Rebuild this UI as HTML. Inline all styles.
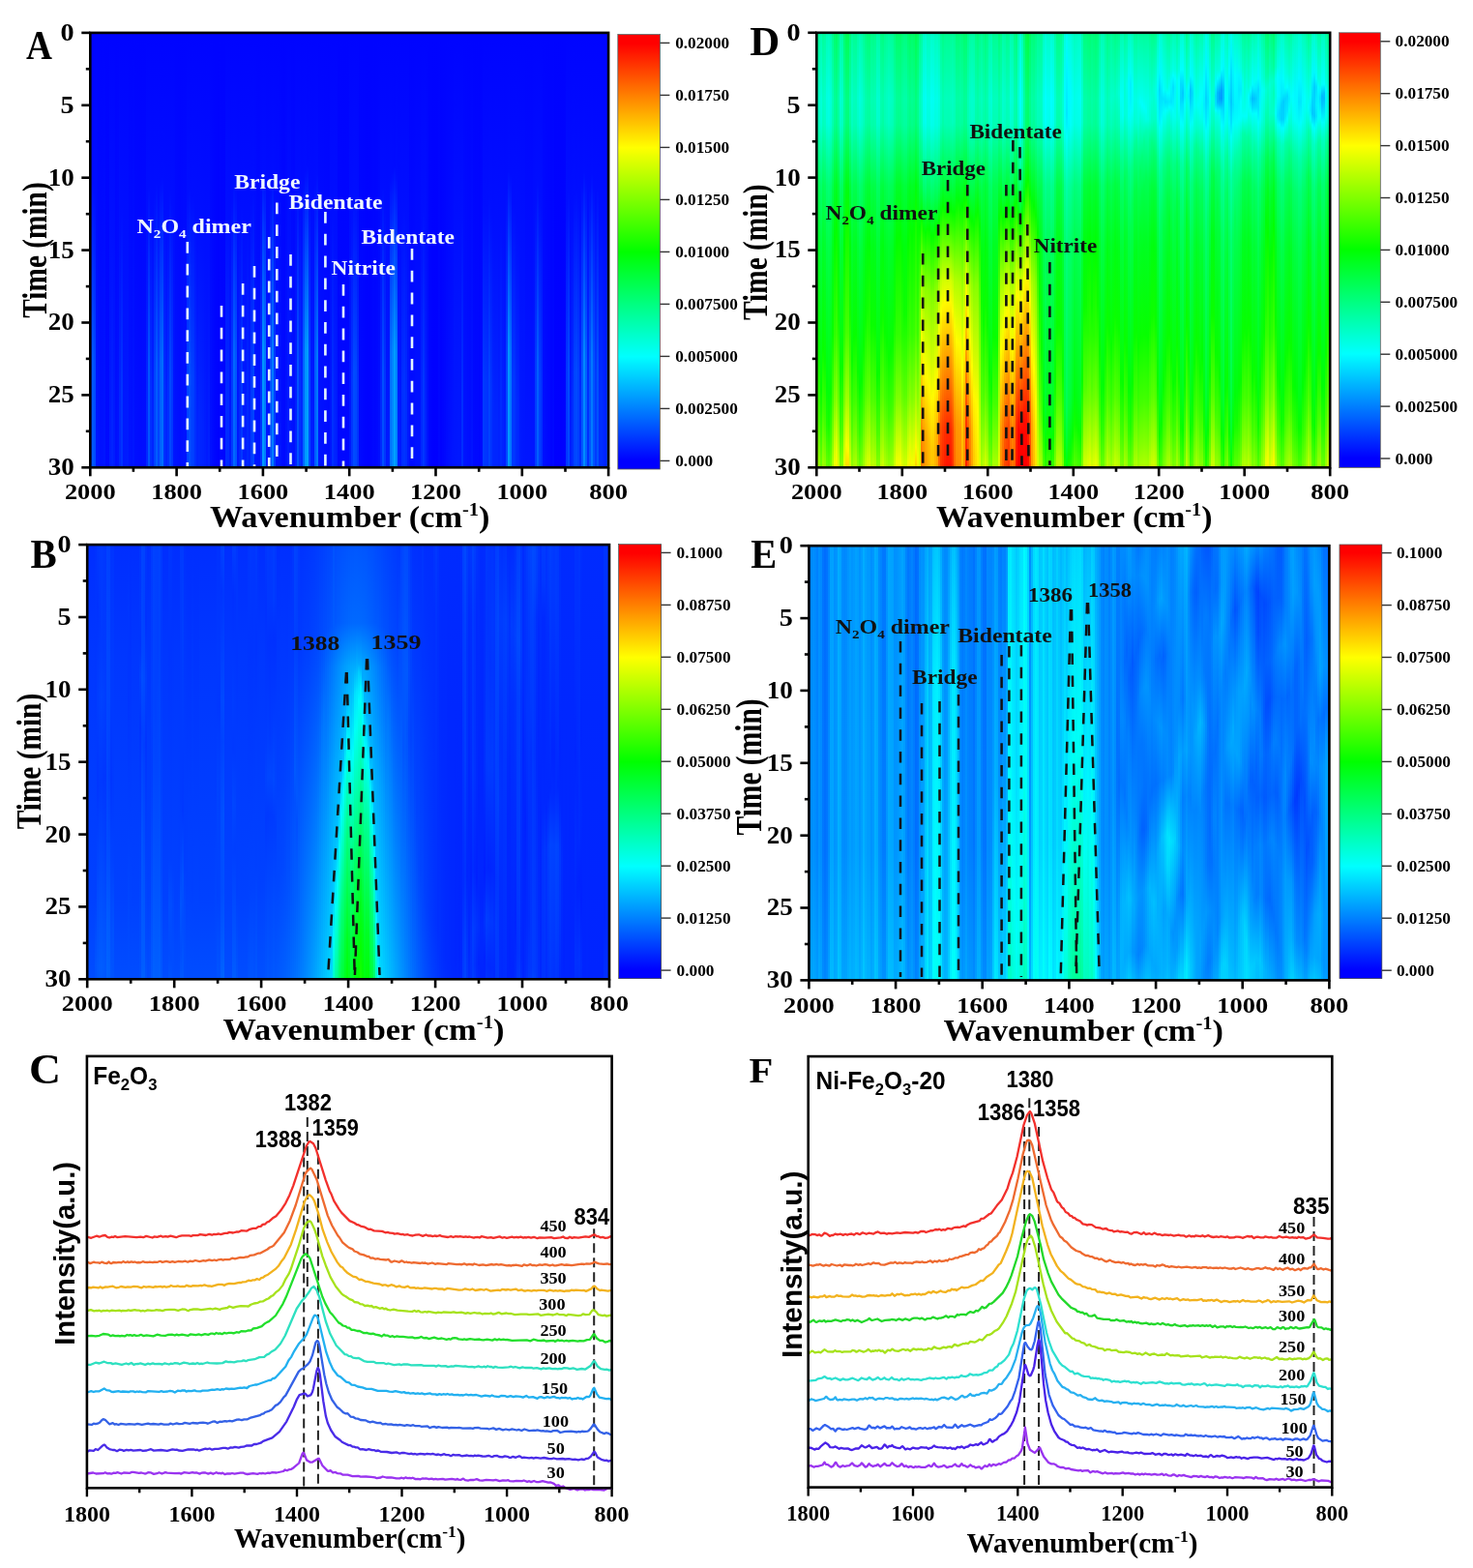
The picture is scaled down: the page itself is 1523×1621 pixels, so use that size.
<!DOCTYPE html>
<html><head><meta charset="utf-8"><title>Figure</title>
<style>
html,body{margin:0;padding:0;background:#fff}
#pg{position:relative;width:1523px;height:1621px;overflow:hidden;background:#fff}
.hm{position:absolute;overflow:hidden;filter:blur(0.6px)}
.hm i{position:absolute;top:0;height:100%;display:block}
.cb{position:absolute}
svg{position:absolute;left:0;top:0}
text{font-family:'Liberation Serif','Times New Roman',serif;font-weight:bold}
.s{font-family:'Liberation Sans',Arial,sans-serif}
</style></head><body><div id="pg">
<div class="hm" style="left:93px;top:33px;width:537px;height:451px"><i style="left:0px;width:3px;background:linear-gradient(#0004ff 0%,#000eff 39.3%,#0036ff 80%,#0036ff 100%)"></i><i style="left:2px;width:3px;background:linear-gradient(#0004ff 0%,#000dff 34.7%,#0059ff 75.3%,#005aff 100%)"></i><i style="left:4px;width:3px;background:linear-gradient(#0004ff 0%,#000eff 36.7%,#004cff 78%,#004cff 100%)"></i><i style="left:6px;width:3px;background:linear-gradient(#0004ff 0%,#0013ff 63.3%,#0017ff 100%)"></i><i style="left:8px;width:3px;background:linear-gradient(#0004ff 0%,#0014ff 100%)"></i><i style="left:10px;width:3px;background:linear-gradient(#0004ff 0%,#01f 100%)"></i><i style="left:12px;width:3px;background:linear-gradient(#0004ff 0%,#0012ff 100%)"></i><i style="left:14px;width:3px;background:linear-gradient(#0004ff 0%,#0015ff 100%)"></i><i style="left:16px;width:5px;background:linear-gradient(#0004ff 0%,#000bff 100%)"></i><i style="left:20px;width:3px;background:linear-gradient(#0004ff 0%,#01f 52%,#001eff 100%)"></i><i style="left:22px;width:3px;background:linear-gradient(#0004ff 0%,#0010ff 47.3%,#0023ff 88.7%,#0023ff 100%)"></i><i style="left:24px;width:3px;background:linear-gradient(#0004ff 0%,#01f 52.7%,#001dff 100%)"></i><i style="left:26px;width:3px;background:linear-gradient(#0004ff 0%,#0010ff 100%)"></i><i style="left:28px;width:3px;background:linear-gradient(#0004ff 0%,#0013ff 100%)"></i><i style="left:30px;width:3px;background:linear-gradient(#0004ff 0%,#0010ff 46%,#0026ff 87.3%,#0026ff 100%)"></i><i style="left:32px;width:3px;background:linear-gradient(#0004ff 0%,#000eff 40%,#03f 81.3%,#03f 100%)"></i><i style="left:34px;width:3px;background:linear-gradient(#0004ff 0%,#0012ff 58%,#001aff 100%)"></i><i style="left:36px;width:3px;background:linear-gradient(#0004ff 0%,#01f 54.7%,#001bff 100%)"></i><i style="left:38px;width:3px;background:linear-gradient(#0004ff 0%,#01f 54%,#001cff 100%)"></i><i style="left:40px;width:3px;background:linear-gradient(#0004ff 0%,#0014ff 100%)"></i><i style="left:42px;width:3px;background:linear-gradient(#0004ff 0%,#0012ff 100%)"></i><i style="left:44px;width:3px;background:linear-gradient(#0004ff 0%,#0016ff 100%)"></i><i style="left:46px;width:3px;background:linear-gradient(#0004ff 0%,#000fff 100%)"></i><i style="left:48px;width:3px;background:linear-gradient(#0004ff 0%,#000eff 100%)"></i><i style="left:50px;width:5px;background:linear-gradient(#0004ff 0%,#000dff 100%)"></i><i style="left:54px;width:5px;background:linear-gradient(#0004ff 0%,#000eff 100%)"></i><i style="left:58px;width:3px;background:linear-gradient(#0004ff 0%,#000fff 44.7%,#0028ff 86%,#0028ff 100%)"></i><i style="left:60px;width:3px;background:linear-gradient(#0004ff 0%,#000dff 35.3%,#05f 76%,#0056ff 100%)"></i><i style="left:62px;width:3px;background:linear-gradient(#0004ff 0%,#000fff 42%,#002fff 82%,#002fff 100%)"></i><i style="left:64px;width:3px;background:linear-gradient(#0004ff 0%,#0010ff 46.7%,#0024ff 88.7%,#0024ff 100%)"></i><i style="left:66px;width:3px;background:linear-gradient(#0004ff 0%,#000eff 37.3%,#04f 78.7%,#04f 100%)"></i><i style="left:68px;width:3px;background:linear-gradient(#0004ff 0%,#000dff 34.7%,#005cff 76%,#005dff 100%)"></i><i style="left:70px;width:3px;background:linear-gradient(#0004ff 0%,#000eff 38%,#0042ff 77.3%,#0043ff 100%)"></i><i style="left:72px;width:3px;background:linear-gradient(#0004ff 0%,#000dff 34%,#0062ff 75.3%,#0063ff 100%)"></i><i style="left:74px;width:3px;background:linear-gradient(#0004ff 0%,#000dff 33.3%,#006dff 75.3%,#006fff 100%)"></i><i style="left:76px;width:3px;background:linear-gradient(#0004ff 0%,#000fff 41.3%,#0031ff 81.3%,#0031ff 100%)"></i><i style="left:78px;width:3px;background:linear-gradient(#0004ff 0%,#0010ff 47.3%,#0024ff 88%,#0024ff 100%)"></i><i style="left:80px;width:3px;background:linear-gradient(#0004ff 0%,#000fff 42.7%,#002eff 81.3%,#002eff 100%)"></i><i style="left:82px;width:3px;background:linear-gradient(#0004ff 0%,#000dff 36%,#0048ff 78%,#0048ff 100%)"></i><i style="left:84px;width:3px;background:linear-gradient(#0004ff 0%,#000eff 39.3%,#0038ff 79.3%,#0038ff 100%)"></i><i style="left:86px;width:3px;background:linear-gradient(#0004ff 0%,#0014ff 68%,#0016ff 100%)"></i><i style="left:88px;width:3px;background:linear-gradient(#0004ff 0%,#0013ff 100%)"></i><i style="left:90px;width:3px;background:linear-gradient(#0004ff 0%,#01f 100%)"></i><i style="left:92px;width:3px;background:linear-gradient(#0004ff 0%,#000fff 100%)"></i><i style="left:94px;width:3px;background:linear-gradient(#0004ff 0%,#01f 100%)"></i><i style="left:96px;width:5px;background:linear-gradient(#0004ff 0%,#0013ff 100%)"></i><i style="left:100px;width:3px;background:linear-gradient(#0004ff 0%,#000eff 37.3%,#04f 78%,#04f 100%)"></i><i style="left:102px;width:3px;background:linear-gradient(#0004ff 0%,#000dff 35.3%,#004fff 76%,#0050ff 100%)"></i><i style="left:104px;width:3px;background:linear-gradient(#0004ff 0%,#000eff 38%,#0043ff 78%,#0043ff 100%)"></i><i style="left:106px;width:3px;background:linear-gradient(#0004ff 0%,#000eff 38%,#003fff 78.7%,#003fff 100%)"></i><i style="left:108px;width:3px;background:linear-gradient(#0004ff 0%,#000fff 42%,#002fff 82%,#002fff 100%)"></i><i style="left:110px;width:3px;background:linear-gradient(#0004ff 0%,#0010ff 47.3%,#0024ff 90.7%,#0024ff 100%)"></i><i style="left:112px;width:3px;background:linear-gradient(#0004ff 0%,#0010ff 46.7%,#0026ff 88%,#0026ff 100%)"></i><i style="left:114px;width:3px;background:linear-gradient(#0004ff 0%,#0010ff 46.7%,#0024ff 88.7%,#0024ff 100%)"></i><i style="left:116px;width:3px;background:linear-gradient(#0004ff 0%,#0010ff 48%,#02f 90.7%,#02f 100%)"></i><i style="left:118px;width:3px;background:linear-gradient(#0004ff 0%,#0010ff 50%,#001fff 96.7%,#001fff 100%)"></i><i style="left:120px;width:3px;background:linear-gradient(#0004ff 0%,#01f 54.7%,#001bff 100%)"></i><i style="left:122px;width:3px;background:linear-gradient(#0004ff 0%,#0010ff 50%,#001fff 96.7%,#001fff 100%)"></i><i style="left:124px;width:3px;background:linear-gradient(#0004ff 0%,#0010ff 100%)"></i><i style="left:126px;width:3px;background:linear-gradient(#0004ff 0%,#000bff 100%)"></i><i style="left:128px;width:3px;background:linear-gradient(#0004ff 0%,#0007ff 100%)"></i><i style="left:130px;width:3px;background:linear-gradient(#0004ff 0%,#0004ff 100%)"></i><i style="left:132px;width:3px;background:linear-gradient(#0004ff 0%,#0002ff 100%)"></i><i style="left:134px;width:3px;background:linear-gradient(#0004ff 0%,#0006ff 100%)"></i><i style="left:136px;width:5px;background:linear-gradient(#0004ff 0%,#0005ff 100%)"></i><i style="left:140px;width:3px;background:linear-gradient(#0004ff 0%,#000fff 43.3%,#002bff 84.7%,#002bff 100%)"></i><i style="left:142px;width:3px;background:linear-gradient(#0004ff 0%,#000fff 43.3%,#002aff 84%,#002aff 100%)"></i><i style="left:144px;width:3px;background:linear-gradient(#0004ff 0%,#0012ff 58.7%,#0019ff 100%)"></i><i style="left:146px;width:3px;background:linear-gradient(#0004ff 0%,#000eff 38.7%,#003aff 79.3%,#003aff 100%)"></i><i style="left:148px;width:3px;background:linear-gradient(#0004ff 0%,#000dff 34%,#0067ff 74%,#006aff 100%)"></i><i style="left:150px;width:3px;background:linear-gradient(#0004ff 0%,#000dff 35.3%,#05f 75.3%,#0056ff 100%)"></i><i style="left:152px;width:3px;background:linear-gradient(#0004ff 0%,#0012ff 60%,#0018ff 100%)"></i><i style="left:154px;width:3px;background:linear-gradient(#0004ff 0%,#000fff 44.7%,#0027ff 85.3%,#0027ff 100%)"></i><i style="left:156px;width:3px;background:linear-gradient(#0004ff 0%,#000eff 40%,#0036ff 80%,#0036ff 100%)"></i><i style="left:158px;width:3px;background:linear-gradient(#0004ff 0%,#01f 52%,#001eff 100%)"></i><i style="left:160px;width:3px;background:linear-gradient(#0004ff 0%,#01f 52.7%,#001eff 100%)"></i><i style="left:162px;width:3px;background:linear-gradient(#0004ff 0%,#000fff 44.7%,#0027ff 84.7%,#0027ff 100%)"></i><i style="left:164px;width:3px;background:linear-gradient(#0004ff 0%,#0010ff 48.7%,#0021ff 94.7%,#0021ff 100%)"></i><i style="left:166px;width:3px;background:linear-gradient(#0004ff 0%,#000eff 39.3%,#003aff 79.3%,#003aff 100%)"></i><i style="left:168px;width:3px;background:linear-gradient(#0004ff 0%,#000eff 37.3%,#04f 78%,#04f 100%)"></i><i style="left:170px;width:3px;background:linear-gradient(#0004ff 0%,#0014ff 67.3%,#0017ff 100%)"></i><i style="left:172px;width:5px;background:linear-gradient(#0004ff 0%,#0014ff 100%)"></i><i style="left:176px;width:3px;background:linear-gradient(#0004ff 0%,#000eff 40%,#0034ff 81.3%,#0034ff 100%)"></i><i style="left:178px;width:3px;background:linear-gradient(#0004ff 0%,#000dff 32%,#0094ff 72.7%,#009bff 100%)"></i><i style="left:180px;width:3px;background:linear-gradient(#0004ff 0%,#000dff 32.7%,#007bff 73.3%,#007fff 100%)"></i><i style="left:182px;width:3px;background:linear-gradient(#0004ff 0%,#0014ff 68%,#0017ff 100%)"></i><i style="left:184px;width:3px;background:linear-gradient(#0004ff 0%,#0013ff 63.3%,#0017ff 100%)"></i><i style="left:186px;width:3px;background:linear-gradient(#0004ff 0%,#000dff 35.3%,#0051ff 76%,#0052ff 100%)"></i><i style="left:188px;width:3px;background:linear-gradient(#0004ff 0%,#000dff 32.7%,#0079ff 73.3%,#007dff 100%)"></i><i style="left:190px;width:3px;background:linear-gradient(#0004ff 0%,#000eff 38%,#003fff 79.3%,#003fff 100%)"></i><i style="left:192px;width:3px;background:linear-gradient(#0004ff 0%,#0014ff 68.7%,#0016ff 100%)"></i><i style="left:194px;width:3px;background:linear-gradient(#0004ff 0%,#0014ff 68%,#0016ff 100%)"></i><i style="left:196px;width:3px;background:linear-gradient(#0004ff 0%,#0013ff 100%)"></i><i style="left:198px;width:3px;background:linear-gradient(#0004ff 0%,#000dff 100%)"></i><i style="left:200px;width:3px;background:linear-gradient(#0004ff 0%,#000bff 100%)"></i><i style="left:202px;width:3px;background:linear-gradient(#0004ff 0%,#0013ff 100%)"></i><i style="left:204px;width:3px;background:linear-gradient(#0004ff 0%,#01f 52.7%,#001dff 100%)"></i><i style="left:206px;width:3px;background:linear-gradient(#0004ff 0%,#0014ff 68.7%,#0016ff 100%)"></i><i style="left:208px;width:3px;background:linear-gradient(#0004ff 0%,#0013ff 100%)"></i><i style="left:210px;width:3px;background:linear-gradient(#0004ff 0%,#01f 100%)"></i><i style="left:212px;width:3px;background:linear-gradient(#0004ff 0%,#0010ff 48%,#02f 92%,#02f 100%)"></i><i style="left:214px;width:3px;background:linear-gradient(#0004ff 0%,#000dff 35.3%,#0053ff 76%,#0054ff 100%)"></i><i style="left:216px;width:3px;background:linear-gradient(#0004ff 0%,#000fff 42%,#0031ff 81.3%,#0031ff 100%)"></i><i style="left:218px;width:3px;background:linear-gradient(#0004ff 0%,#000fff 44.7%,#0028ff 85.3%,#0028ff 100%)"></i><i style="left:220px;width:3px;background:linear-gradient(#0004ff 0%,#000dff 34%,#0065ff 74.7%,#0068ff 100%)"></i><i style="left:222px;width:3px;background:linear-gradient(#0004ff 0%,#000dff 32%,#0094ff 72.7%,#009bff 100%)"></i><i style="left:224px;width:3px;background:linear-gradient(#0004ff 0%,#000bff 30.7%,#005bff 53.3%,#009dff 72.7%,#00a5ff 100%)"></i><i style="left:226px;width:3px;background:linear-gradient(#0004ff 0%,#000dff 36%,#0049ff 77.3%,#004aff 100%)"></i><i style="left:228px;width:3px;background:linear-gradient(#0004ff 0%,#0010ff 50%,#001fff 100%)"></i><i style="left:230px;width:3px;background:linear-gradient(#0004ff 0%,#01f 54%,#001cff 100%)"></i><i style="left:232px;width:3px;background:linear-gradient(#0004ff 0%,#000dff 34.7%,#005cff 76%,#005dff 100%)"></i><i style="left:234px;width:3px;background:linear-gradient(#0004ff 0%,#000dff 32.7%,#07f 74%,#007aff 100%)"></i><i style="left:236px;width:3px;background:linear-gradient(#0004ff 0%,#0016ff 100%)"></i><i style="left:238px;width:3px;background:linear-gradient(#0004ff 0%,#0012ff 100%)"></i><i style="left:240px;width:3px;background:linear-gradient(#0004ff 0%,#01f 100%)"></i><i style="left:242px;width:3px;background:linear-gradient(#0004ff 0%,#000fff 100%)"></i><i style="left:244px;width:3px;background:linear-gradient(#0004ff 0%,#000eff 100%)"></i><i style="left:246px;width:3px;background:linear-gradient(#0004ff 0%,#000dff 100%)"></i><i style="left:248px;width:3px;background:linear-gradient(#0004ff 0%,#0013ff 63.3%,#0017ff 100%)"></i><i style="left:250px;width:3px;background:linear-gradient(#0004ff 0%,#000eff 40.7%,#0030ff 82%,#0030ff 100%)"></i><i style="left:252px;width:3px;background:linear-gradient(#0004ff 0%,#0010ff 46.7%,#0025ff 89.3%,#0025ff 100%)"></i><i style="left:254px;width:3px;background:linear-gradient(#0004ff 0%,#0010ff 50%,#001fff 98%,#001fff 100%)"></i><i style="left:256px;width:3px;background:linear-gradient(#0004ff 0%,#0009ff 100%)"></i><i style="left:258px;width:3px;background:linear-gradient(#0004ff 0%,#0008ff 100%)"></i><i style="left:260px;width:7px;background:linear-gradient(#0004ff 0%,#0007ff 100%)"></i><i style="left:266px;width:3px;background:linear-gradient(#0004ff 0%,#0008ff 100%)"></i><i style="left:268px;width:3px;background:linear-gradient(#0004ff 0%,#0012ff 60%,#0018ff 100%)"></i><i style="left:270px;width:3px;background:linear-gradient(#0004ff 0%,#000eff 40%,#0035ff 80%,#0035ff 100%)"></i><i style="left:272px;width:3px;background:linear-gradient(#0004ff 0%,#000eff 36.7%,#004bff 78%,#004bff 100%)"></i><i style="left:274px;width:3px;background:linear-gradient(#0004ff 0%,#000eff 37.3%,#0047ff 77.3%,#0047ff 100%)"></i><i style="left:276px;width:3px;background:linear-gradient(#0004ff 0%,#000eff 40%,#0034ff 81.3%,#0034ff 100%)"></i><i style="left:278px;width:3px;background:linear-gradient(#0004ff 0%,#0009ff 100%)"></i><i style="left:280px;width:3px;background:linear-gradient(#0004ff 0%,#0008ff 100%)"></i><i style="left:282px;width:3px;background:linear-gradient(#0004ff 0%,#0006ff 100%)"></i><i style="left:284px;width:3px;background:linear-gradient(#0004ff 0%,#0004ff 100%)"></i><i style="left:286px;width:5px;background:linear-gradient(#0004ff 0%,#0003ff 100%)"></i><i style="left:290px;width:3px;background:linear-gradient(#0004ff 0%,#0005ff 100%)"></i><i style="left:292px;width:3px;background:linear-gradient(#0004ff 0%,#0008ff 100%)"></i><i style="left:294px;width:3px;background:linear-gradient(#0004ff 0%,#0007ff 100%)"></i><i style="left:296px;width:3px;background:linear-gradient(#0004ff 0%,#0009ff 100%)"></i><i style="left:298px;width:3px;background:linear-gradient(#0004ff 0%,#000fff 100%)"></i><i style="left:300px;width:3px;background:linear-gradient(#0004ff 0%,#000fff 44%,#0029ff 84.7%,#0029ff 100%)"></i><i style="left:302px;width:3px;background:linear-gradient(#0004ff 0%,#000dff 35.3%,#004fff 77.3%,#004fff 100%)"></i><i style="left:304px;width:3px;background:linear-gradient(#0004ff 0%,#000eff 40%,#0036ff 80.7%,#0036ff 100%)"></i><i style="left:306px;width:3px;background:linear-gradient(#0004ff 0%,#0012ff 58.7%,#0019ff 100%)"></i><i style="left:308px;width:3px;background:linear-gradient(#0004ff 0%,#01f 52.7%,#001eff 100%)"></i><i style="left:310px;width:3px;background:linear-gradient(#0004ff 0%,#000dff 33.3%,#0070ff 74%,#0074ff 100%)"></i><i style="left:312px;width:3px;background:linear-gradient(#0004ff 0%,#000cff 32%,#0084ff 73.3%,#0089ff 100%)"></i><i style="left:314px;width:3px;background:linear-gradient(#0004ff 0%,#000bff 30.7%,#0058ff 52.7%,#009dff 73.3%,#00a3ff 100%)"></i><i style="left:316px;width:3px;background:linear-gradient(#0004ff 0%,#000dff 32.7%,#0081ff 73.3%,#0086ff 100%)"></i><i style="left:318px;width:3px;background:linear-gradient(#0004ff 0%,#0010ff 49.3%,#0020ff 96%,#0020ff 100%)"></i><i style="left:320px;width:3px;background:linear-gradient(#0004ff 0%,#0012ff 58%,#0019ff 100%)"></i><i style="left:322px;width:3px;background:linear-gradient(#0004ff 0%,#000fff 42.7%,#002eff 81.3%,#002eff 100%)"></i><i style="left:324px;width:3px;background:linear-gradient(#0004ff 0%,#000eff 40%,#03f 80.7%,#03f 100%)"></i><i style="left:326px;width:3px;background:linear-gradient(#0004ff 0%,#000fff 42.7%,#002dff 84.7%,#002dff 100%)"></i><i style="left:328px;width:3px;background:linear-gradient(#0004ff 0%,#0012ff 56.7%,#001aff 100%)"></i><i style="left:330px;width:3px;background:linear-gradient(#0004ff 0%,#000eff 100%)"></i><i style="left:332px;width:3px;background:linear-gradient(#0004ff 0%,#000dff 100%)"></i><i style="left:334px;width:3px;background:linear-gradient(#0004ff 0%,#000fff 100%)"></i><i style="left:336px;width:3px;background:linear-gradient(#0004ff 0%,#0012ff 100%)"></i><i style="left:338px;width:3px;background:linear-gradient(#0004ff 0%,#0013ff 100%)"></i><i style="left:340px;width:3px;background:linear-gradient(#0004ff 0%,#0014ff 100%)"></i><i style="left:342px;width:3px;background:linear-gradient(#0004ff 0%,#000fff 44.7%,#0028ff 85.3%,#0028ff 100%)"></i><i style="left:344px;width:3px;background:linear-gradient(#0004ff 0%,#000eff 40%,#0036ff 80%,#0036ff 100%)"></i><i style="left:346px;width:3px;background:linear-gradient(#0004ff 0%,#0010ff 46.7%,#0025ff 89.3%,#0025ff 100%)"></i><i style="left:348px;width:3px;background:linear-gradient(#0004ff 0%,#0014ff 100%)"></i><i style="left:350px;width:3px;background:linear-gradient(#0004ff 0%,#0006ff 100%)"></i><i style="left:352px;width:3px;background:linear-gradient(#0004ff 0%,#0002ff 100%)"></i><i style="left:354px;width:7px;background:linear-gradient(#0004ff 0%,#00f 100%)"></i><i style="left:360px;width:3px;background:linear-gradient(#0004ff 0%,#0006ff 100%)"></i><i style="left:362px;width:3px;background:linear-gradient(#0004ff 0%,#0002ff 100%)"></i><i style="left:364px;width:3px;background:linear-gradient(#0004ff 0%,#0005ff 100%)"></i><i style="left:366px;width:3px;background:linear-gradient(#0004ff 0%,#0008ff 100%)"></i><i style="left:368px;width:3px;background:linear-gradient(#0004ff 0%,#000cff 100%)"></i><i style="left:370px;width:3px;background:linear-gradient(#0004ff 0%,#000fff 100%)"></i><i style="left:372px;width:3px;background:linear-gradient(#0004ff 0%,#0012ff 100%)"></i><i style="left:374px;width:3px;background:linear-gradient(#0004ff 0%,#0015ff 100%)"></i><i style="left:376px;width:3px;background:linear-gradient(#0004ff 0%,#0014ff 68%,#0016ff 100%)"></i><i style="left:378px;width:3px;background:linear-gradient(#0004ff 0%,#0013ff 63.3%,#0017ff 100%)"></i><i style="left:380px;width:3px;background:linear-gradient(#0004ff 0%,#0013ff 62.7%,#0018ff 100%)"></i><i style="left:382px;width:3px;background:linear-gradient(#0004ff 0%,#0013ff 63.3%,#0017ff 100%)"></i><i style="left:384px;width:3px;background:linear-gradient(#0004ff 0%,#000fff 42.7%,#002dff 82.7%,#002dff 100%)"></i><i style="left:386px;width:3px;background:linear-gradient(#0004ff 0%,#0015ff 100%)"></i><i style="left:388px;width:3px;background:linear-gradient(#0004ff 0%,#0012ff 100%)"></i><i style="left:390px;width:3px;background:linear-gradient(#0004ff 0%,#0010ff 100%)"></i><i style="left:392px;width:3px;background:linear-gradient(#0004ff 0%,#000eff 100%)"></i><i style="left:394px;width:3px;background:linear-gradient(#0004ff 0%,#0013ff 100%)"></i><i style="left:396px;width:3px;background:linear-gradient(#0004ff 0%,#000aff 100%)"></i><i style="left:398px;width:5px;background:linear-gradient(#0004ff 0%,#0009ff 100%)"></i><i style="left:402px;width:3px;background:linear-gradient(#0004ff 0%,#0007ff 100%)"></i><i style="left:404px;width:3px;background:linear-gradient(#0004ff 0%,#000cff 100%)"></i><i style="left:406px;width:3px;background:linear-gradient(#0004ff 0%,#000eff 39.3%,#003aff 80%,#003aff 100%)"></i><i style="left:408px;width:3px;background:linear-gradient(#0004ff 0%,#000eff 40%,#0035ff 80%,#0035ff 100%)"></i><i style="left:410px;width:3px;background:linear-gradient(#0004ff 0%,#000eff 40%,#03f 80.7%,#03f 100%)"></i><i style="left:412px;width:3px;background:linear-gradient(#0004ff 0%,#000eff 38%,#0041ff 78.7%,#0041ff 100%)"></i><i style="left:414px;width:3px;background:linear-gradient(#0004ff 0%,#000fff 41.3%,#03f 82%,#03f 100%)"></i><i style="left:416px;width:3px;background:linear-gradient(#0004ff 0%,#000fff 44.7%,#0027ff 85.3%,#0027ff 100%)"></i><i style="left:418px;width:3px;background:linear-gradient(#0004ff 0%,#0010ff 46.7%,#0025ff 89.3%,#0025ff 100%)"></i><i style="left:420px;width:3px;background:linear-gradient(#0004ff 0%,#0010ff 46.7%,#0025ff 88.7%,#0025ff 100%)"></i><i style="left:422px;width:3px;background:linear-gradient(#0004ff 0%,#0010ff 48%,#02f 90.7%,#02f 100%)"></i><i style="left:424px;width:3px;background:linear-gradient(#0004ff 0%,#000fff 43.3%,#002aff 83.3%,#002aff 100%)"></i><i style="left:426px;width:3px;background:linear-gradient(#0004ff 0%,#0010ff 48%,#0023ff 92%,#0023ff 100%)"></i><i style="left:428px;width:3px;background:linear-gradient(#0004ff 0%,#0010ff 50%,#001fff 96.7%,#001fff 100%)"></i><i style="left:430px;width:3px;background:linear-gradient(#0004ff 0%,#000dff 36%,#004aff 78%,#004aff 100%)"></i><i style="left:432px;width:3px;background:linear-gradient(#0004ff 0%,#000dff 32%,#0095ff 72.7%,#009cff 100%)"></i><i style="left:434px;width:3px;background:linear-gradient(#0004ff 0%,#000cff 32.7%,#0075ff 74%,#0079ff 100%)"></i><i style="left:436px;width:3px;background:linear-gradient(#0004ff 0%,#000eff 39.3%,#0038ff 80%,#0038ff 100%)"></i><i style="left:438px;width:3px;background:linear-gradient(#0004ff 0%,#000eff 40%,#0036ff 80%,#0036ff 100%)"></i><i style="left:440px;width:3px;background:linear-gradient(#0004ff 0%,#000fff 43.3%,#002bff 84.7%,#002bff 100%)"></i><i style="left:442px;width:3px;background:linear-gradient(#0004ff 0%,#000fff 44.7%,#0026ff 86%,#0026ff 100%)"></i><i style="left:444px;width:3px;background:linear-gradient(#0004ff 0%,#01f 53.3%,#001cff 100%)"></i><i style="left:446px;width:3px;background:linear-gradient(#0004ff 0%,#0012ff 60%,#0018ff 100%)"></i><i style="left:448px;width:3px;background:linear-gradient(#0004ff 0%,#0014ff 67.3%,#0017ff 100%)"></i><i style="left:450px;width:9px;background:linear-gradient(#0004ff 0%,#0016ff 100%)"></i><i style="left:458px;width:3px;background:linear-gradient(#0004ff 0%,#0014ff 68.7%,#0016ff 100%)"></i><i style="left:460px;width:3px;background:linear-gradient(#0004ff 0%,#000eff 38.7%,#003dff 78.7%,#003dff 100%)"></i><i style="left:462px;width:3px;background:linear-gradient(#0004ff 0%,#000dff 34%,#005fff 75.3%,#0060ff 100%)"></i><i style="left:464px;width:3px;background:linear-gradient(#0004ff 0%,#000eff 38%,#003fff 78.7%,#003fff 100%)"></i><i style="left:466px;width:3px;background:linear-gradient(#0004ff 0%,#000eff 40.7%,#0030ff 81.3%,#0030ff 100%)"></i><i style="left:468px;width:3px;background:linear-gradient(#0004ff 0%,#01f 100%)"></i><i style="left:470px;width:3px;background:linear-gradient(#0004ff 0%,#000dff 100%)"></i><i style="left:472px;width:3px;background:linear-gradient(#0004ff 0%,#000aff 100%)"></i><i style="left:474px;width:3px;background:linear-gradient(#0004ff 0%,#0008ff 100%)"></i><i style="left:476px;width:3px;background:linear-gradient(#0004ff 0%,#0004ff 100%)"></i><i style="left:478px;width:3px;background:linear-gradient(#0004ff 0%,#0007ff 100%)"></i><i style="left:480px;width:9px;background:linear-gradient(#0004ff 0%,#00f 100%)"></i><i style="left:488px;width:3px;background:linear-gradient(#0004ff 0%,#0001ff 100%)"></i><i style="left:490px;width:3px;background:linear-gradient(#0004ff 0%,#0003ff 100%)"></i><i style="left:492px;width:3px;background:linear-gradient(#0004ff 0%,#000eff 39.3%,#0037ff 79.3%,#0037ff 100%)"></i><i style="left:494px;width:3px;background:linear-gradient(#0004ff 0%,#000dff 36%,#0049ff 77.3%,#0049ff 100%)"></i><i style="left:496px;width:3px;background:linear-gradient(#0004ff 0%,#0010ff 50%,#001fff 98%,#001fff 100%)"></i><i style="left:498px;width:3px;background:linear-gradient(#0004ff 0%,#000fff 43.3%,#002cff 84%,#002cff 100%)"></i><i style="left:500px;width:3px;background:linear-gradient(#0004ff 0%,#000eff 37.3%,#04f 78%,#04f 100%)"></i><i style="left:502px;width:3px;background:linear-gradient(#0004ff 0%,#000dff 36%,#0049ff 77.3%,#0049ff 100%)"></i><i style="left:504px;width:3px;background:linear-gradient(#0004ff 0%,#000eff 38%,#0040ff 78%,#0040ff 100%)"></i><i style="left:506px;width:3px;background:linear-gradient(#0004ff 0%,#000fff 44%,#002aff 84%,#002aff 100%)"></i><i style="left:508px;width:3px;background:linear-gradient(#0004ff 0%,#000dff 34.7%,#0056ff 75.3%,#0058ff 100%)"></i><i style="left:510px;width:3px;background:linear-gradient(#0004ff 0%,#000dff 32%,#0089ff 74%,#008dff 100%)"></i><i style="left:512px;width:3px;background:linear-gradient(#0004ff 0%,#000dff 34%,#0061ff 75.3%,#0063ff 100%)"></i><i style="left:514px;width:3px;background:linear-gradient(#0004ff 0%,#000fff 42.7%,#002eff 82.7%,#002eff 100%)"></i><i style="left:516px;width:3px;background:linear-gradient(#0004ff 0%,#000dff 35.3%,#0054ff 75.3%,#05f 100%)"></i><i style="left:518px;width:3px;background:linear-gradient(#0004ff 0%,#000dff 32.7%,#0079ff 74%,#007dff 100%)"></i><i style="left:520px;width:3px;background:linear-gradient(#0004ff 0%,#000dff 35.3%,#0052ff 76%,#0053ff 100%)"></i><i style="left:522px;width:3px;background:linear-gradient(#0004ff 0%,#000eff 38.7%,#003bff 78.7%,#003bff 100%)"></i><i style="left:524px;width:3px;background:linear-gradient(#0004ff 0%,#000dff 35.3%,#0050ff 76.7%,#0051ff 100%)"></i><i style="left:526px;width:3px;background:linear-gradient(#0004ff 0%,#000fff 43.3%,#002cff 84%,#002cff 100%)"></i><i style="left:528px;width:3px;background:linear-gradient(#0004ff 0%,#000fff 42.7%,#002dff 83.3%,#002dff 100%)"></i><i style="left:530px;width:3px;background:linear-gradient(#0004ff 0%,#000fff 44.7%,#0028ff 86%,#0028ff 100%)"></i><i style="left:532px;width:3px;background:linear-gradient(#0004ff 0%,#0010ff 47.3%,#0024ff 89.3%,#0024ff 100%)"></i><i style="left:534px;width:4px;background:linear-gradient(#0004ff 0%,#000eff 38%,#003fff 78.7%,#003fff 100%)"></i></div>
<div class="hm" style="left:844px;top:33px;width:532px;height:451px"><i style="left:0px;width:3px;background:linear-gradient(#00ff8b 0%,#00ffb4 14.7%,#00ffb0 20.7%,#00ff46 35.3%,#00ff18 50%,#09ff00 68%,#4aff00 84%,#8eff00 94%,#beff00 100%)"></i><i style="left:2px;width:3px;background:linear-gradient(#00ff9d 0%,#00ffc6 15.3%,#00ffbd 21.3%,#00ff58 35.3%,#00ff2c 48.7%,#07ff00 74%,#4f0 88.7%,#9bff00 100%)"></i><i style="left:4px;width:3px;background:linear-gradient(#00ffb0 0%,#00ffd9 15.3%,#00ffd5 20.7%,#00ff6b 35.3%,#00ff3f 48.7%,#05ff00 82%,#3cff00 92.7%,#75ff00 100%)"></i><i style="left:6px;width:3px;background:linear-gradient(#00ff9b 0%,#00ffc4 15.3%,#0fb 21.3%,#00ff56 35.3%,#00ff2a 48.7%,#06ff00 72.7%,#3dff00 86.7%,#9fff00 100%)"></i><i style="left:8px;width:3px;background:linear-gradient(#00ffa0 0%,#00ffc9 15.3%,#00ffc0 21.3%,#00ff5b 35.3%,#00ff2f 48.7%,#07ff00 75.3%,#45ff00 90%,#95ff00 100%)"></i><i style="left:10px;width:3px;background:linear-gradient(#00ffb6 0%,#00ffdf 14.7%,#00ffdb 20.7%,#00ff71 35.3%,#00ff43 50%,#00ff08 81.3%,#1cff00 90%,#68ff00 100%)"></i><i style="left:12px;width:3px;background:linear-gradient(#00ffbc 0%,#00ffe5 15.3%,#00ffe0 20.7%,#0f7 35.3%,#00ff4b 48.7%,#00ff0b 82.7%,#12ff00 90%,#5eff00 100%)"></i><i style="left:14px;width:3px;background:linear-gradient(#00ffb1 0%,#00ffd9 15.3%,#00ffd0 21.3%,#00ff6b 35.3%,#00ff3d 50%,#07ff00 82.7%,#3bff00 92.7%,#74ff00 100%)"></i><i style="left:16px;width:3px;background:linear-gradient(#00ff90 0%,#00ffb9 15.3%,#00ffb0 21.3%,#00ff48 36%,#00ff1e 49.3%,#08ff00 69.3%,#42ff00 84%,#84ff00 94%,#b5ff00 100%)"></i><i style="left:18px;width:3px;background:linear-gradient(#00ff6f 0%,#00ff98 15.3%,#00ff93 20.7%,#00ff2a 35.3%,#01ff00 48%,#2eff00 69.3%,#7dff00 84.7%,#d1ff00 95.3%,#f7ff00 100%)"></i><i style="left:20px;width:3px;background:linear-gradient(#00ff67 0%,#00ff8f 15.3%,#00ff86 21.3%,#00ff21 35.3%,#03ff00 45.3%,#38ff00 69.3%,#87ff00 84%,#e7ff00 96%,#fff600 100%)"></i><i style="left:22px;width:3px;background:linear-gradient(#00ff7f 0%,#00ffa7 15.3%,#00ff9e 21.3%,#00ff39 35.3%,#00ff0b 50%,#1f0 66%,#5fff00 84%,#adff00 94.7%,#d8ff00 100%)"></i><i style="left:24px;width:3px;background:linear-gradient(#00ffa9 0%,#00ffd2 15.3%,#00ffc9 21.3%,#00ff61 36%,#00ff37 49.3%,#00ff02 76.7%,#3aff00 90.7%,#83ff00 100%)"></i><i style="left:26px;width:3px;background:linear-gradient(#00ffa4 0%,#0fc 15.3%,#00ffc3 21.3%,#00ff5f 35.3%,#00ff31 49.3%,#06ff00 76.7%,#4aff00 91.3%,#8eff00 100%)"></i><i style="left:28px;width:3px;background:linear-gradient(#00ff72 0%,#00ff9b 15.3%,#00ff97 20.7%,#00ff2d 35.3%,#00ff01 48.7%,#2dff00 70%,#78ff00 84.7%,#d1ff00 96%,#f1ff00 100%)"></i><i style="left:30px;width:3px;background:linear-gradient(#00ff59 0%,#00ff82 15.3%,#00ff7d 20.7%,#00ff14 35.3%,#0aff00 42.7%,#4f0 68.7%,#9eff00 84%,#f6ff00 94.7%,#ffda00 100%)"></i><i style="left:32px;width:3px;background:linear-gradient(#00ff58 0%,#00ff81 15.3%,#00ff78 21.3%,#00ff10 36%,#0bff00 42.7%,#45ff00 68.7%,#9eff00 84%,#fffb00 96%,#ffd900 100%)"></i><i style="left:34px;width:3px;background:linear-gradient(#00ff7c 0%,#00ffa5 15.3%,#00ffa0 20.7%,#00ff37 35.3%,#00ff0b 48.7%,#1f0 64.7%,#5fff00 83.3%,#a6ff00 93.3%,#df0 100%)"></i><i style="left:36px;width:3px;background:linear-gradient(#00ff9f 0%,#00ffc8 15.3%,#00ffbf 21.3%,#00ff5a 35.3%,#00ff2e 48.7%,#08ff00 75.3%,#4dff00 90.7%,#97ff00 100%)"></i><i style="left:38px;width:3px;background:linear-gradient(#00ff94 0%,#00ffbd 15.3%,#00ffb4 21.3%,#00ff4f 35.3%,#00ff23 48.7%,#06ff00 70%,#3fff00 84.7%,#82ff00 94.7%,#adff00 100%)"></i><i style="left:40px;width:3px;background:linear-gradient(#00ff92 0%,#00ffba 14.7%,#00ffb6 20.7%,#00ff4d 35.3%,#00ff1f 49.3%,#06ff00 69.3%,#43ff00 84.7%,#82ff00 94%,#b2ff00 100%)"></i><i style="left:42px;width:3px;background:linear-gradient(#00ffa5 0%,#00ffce 15.3%,#00ffc5 21.3%,#00ff60 35.3%,#00ff34 48.7%,#07ff00 78%,#4cff00 92%,#8bff00 100%)"></i><i style="left:44px;width:3px;background:linear-gradient(#00ffb3 0%,#00ffdc 15.3%,#00ffd3 21.3%,#00ff6e 35.3%,#00ff40 50%,#00ff03 81.3%,#31ff00 92%,#6eff00 100%)"></i><i style="left:46px;width:3px;background:linear-gradient(#00ffab 0%,#00ffd3 15.3%,#00ffca 21.3%,#00ff65 35.3%,#00ff37 50%,#05ff00 80%,#42ff00 92%,#80ff00 100%)"></i><i style="left:48px;width:3px;background:linear-gradient(#00ff98 0%,#00ffc1 15.3%,#00ffbd 20.7%,#00ff53 35.3%,#00ff27 48.7%,#07ff00 72%,#3fff00 86%,#80ff00 95.3%,#a5ff00 100%)"></i><i style="left:50px;width:3px;background:linear-gradient(#00ff86 0%,#00ffae 15.3%,#00ffa5 21.3%,#00ff40 35.3%,#00ff12 50%,#09ff00 66%,#50ff00 83.3%,#93ff00 93.3%,#caff00 100%)"></i><i style="left:52px;width:3px;background:linear-gradient(#00ff7b 0%,#00ffa4 15.3%,#00ff9f 20.7%,#00ff36 35.3%,#00ff0a 48.7%,#1f0 64%,#5dff00 82.7%,#a8ff00 93.3%,#e0ff00 100%)"></i><i style="left:54px;width:3px;background:linear-gradient(#00ff79 0%,#00ffa2 15.3%,#00ff9d 20.7%,#00ff34 35.3%,#00ff08 48.7%,#20ff00 68.7%,#69ff00 84%,#b2ff00 94%,#e3ff00 100%)"></i><i style="left:56px;width:3px;background:linear-gradient(#00ff8b 0%,#00ffb3 15.3%,#0fa 21.3%,#00ff46 35.3%,#00ff18 49.3%,#08ff00 67.3%,#4bff00 84%,#8fff00 94%,#c0ff00 100%)"></i><i style="left:58px;width:3px;background:linear-gradient(#00ff89 0%,#00ffb2 15.3%,#00ffa9 21.3%,#00ff41 36%,#00ff17 49.3%,#09ff00 67.3%,#51ff00 84.7%,#9dff00 95.3%,#c3ff00 100%)"></i><i style="left:60px;width:3px;background:linear-gradient(#00ff8e 0%,#00ffb6 15.3%,#00ffad 21.3%,#00ff48 35.3%,#00ff1a 50%,#07ff00 68%,#46ff00 84%,#8aff00 94%,#baff00 100%)"></i><i style="left:62px;width:3px;background:linear-gradient(#00ffa7 0%,#00ffd0 15.3%,#0fc 20.7%,#00ff62 35.3%,#00ff36 48.7%,#06ff00 78.7%,#48ff00 92%,#87ff00 100%)"></i><i style="left:64px;width:3px;background:linear-gradient(#00ffa6 0%,#00ffcf 15.3%,#00ffcb 20.7%,#00ff61 35.3%,#00ff35 48.7%,#06ff00 78%,#4aff00 92%,#89ff00 100%)"></i><i style="left:66px;width:3px;background:linear-gradient(#00ff87 0%,#00ffb0 15.3%,#00ffac 20.7%,#00ff42 35.3%,#00ff16 48.7%,#09ff00 66.7%,#51ff00 84%,#96ff00 94%,#c7ff00 100%)"></i><i style="left:68px;width:3px;background:linear-gradient(#00ff82 0%,#00ffab 15.3%,#00ffa2 21.3%,#00ff3a 36%,#00ff10 49.3%,#0cff00 65.3%,#5f0 83.3%,#9fff00 94%,#d1ff00 100%)"></i><i style="left:70px;width:3px;background:linear-gradient(#00ff8f 0%,#00ffb8 14.7%,#00ffb4 20.7%,#00ff4a 35.3%,#00ff1c 50%,#07ff00 68.7%,#43ff00 84%,#80ff00 93.3%,#b6ff00 100%)"></i><i style="left:72px;width:3px;background:linear-gradient(#00ff97 0%,#00ffc0 14.7%,#00ffbc 20.7%,#00ff52 35.3%,#00ff24 50%,#06ff00 71.3%,#3aff00 84.7%,#71ff00 93.3%,#a6ff00 100%)"></i><i style="left:74px;width:3px;background:linear-gradient(#00ff9f 0%,#00ffc8 15.3%,#00ffc4 20.7%,#00ff5a 35.3%,#00ff2e 48.7%,#07ff00 74.7%,#3dff00 88%,#97ff00 100%)"></i><i style="left:76px;width:3px;background:linear-gradient(#00ff9c 0%,#00ffc5 15.3%,#00ffbc 21.3%,#00ff57 35.3%,#00ff29 50%,#06ff00 73.3%,#3bff00 86.7%,#82ff00 96.7%,#9cff00 100%)"></i><i style="left:78px;width:3px;background:linear-gradient(#00ff97 0%,#00ffbf 15.3%,#00ffb6 21.3%,#00ff51 35.3%,#00ff23 50%,#07ff00 71.3%,#3fff00 85.3%,#78ff00 94%,#a8ff00 100%)"></i><i style="left:80px;width:3px;background:linear-gradient(#00ff81 0%,#00ffa9 15.3%,#00ffa0 21.3%,#00ff3c 35.3%,#00ff0e 49.3%,#0dff00 65.3%,#58ff00 83.3%,#9dff00 93.3%,#d4ff00 100%)"></i><i style="left:82px;width:3px;background:linear-gradient(#00ff6d 0%,#00ff96 14.7%,#00ff92 20.7%,#00ff28 35.3%,#02ff00 48%,#30ff00 69.3%,#7cff00 84%,#c8ff00 94%,#faff00 100%)"></i><i style="left:84px;width:3px;background:linear-gradient(#00ff6c 0%,#00ff94 15.3%,#00ff8b 21.3%,#00ff26 35.3%,#03ff00 47.3%,#32ff00 69.3%,#7fff00 84%,#d2ff00 94.7%,#feff00 100%)"></i><i style="left:86px;width:3px;background:linear-gradient(#00ff6b 0%,#00ff94 15.3%,#00ff90 20.7%,#00ff26 35.3%,#02ff00 46.7%,#35ff00 70%,#84ff00 84.7%,#eaff00 97.3%,#ff0 100%)"></i><i style="left:88px;width:3px;background:linear-gradient(#00ff78 0%,#00ffa1 15.3%,#00ff98 21.3%,#0f3 35.3%,#00ff05 50%,#23ff00 69.3%,#69ff00 84%,#beff00 95.3%,#e4ff00 100%)"></i><i style="left:90px;width:3px;background:linear-gradient(#00ff80 0%,#00ffa8 15.3%,#00ff9f 21.3%,#00ff3b 35.3%,#00ff0d 49.3%,#0dff00 64.7%,#59ff00 83.3%,#9fff00 93.3%,#d6ff00 100%)"></i><i style="left:92px;width:3px;background:linear-gradient(#00ff7f 0%,#00ffa8 15.3%,#00ff9f 21.3%,#00ff3a 35.3%,#00ff0e 48.7%,#0eff00 64.7%,#5aff00 83.3%,#a0ff00 93.3%,#d7ff00 100%)"></i><i style="left:94px;width:3px;background:linear-gradient(#00ff6e 0%,#00ff97 15.3%,#00ff8e 21.3%,#00ff26 36%,#01ff00 48%,#2fff00 69.3%,#7aff00 84%,#d8ff00 96%,#f9ff00 100%)"></i><i style="left:96px;width:3px;background:linear-gradient(#00ff65 0%,#00ff8d 15.3%,#00ff84 21.3%,#00ff20 35.3%,#05ff00 45.3%,#3aff00 69.3%,#8aff00 84%,#dfff00 94.7%,#fff600 99.3%,#fff200 100%)"></i><i style="left:98px;width:3px;background:linear-gradient(#00ff6b 0%,#00ff93 15.3%,#00ff8a 21.3%,#00ff25 35.3%,#02ff00 46.7%,#3f0 69.3%,#80ff00 84%,#ceff00 94%,#fffe00 100%)"></i><i style="left:100px;width:3px;background:linear-gradient(#0f6 0%,#00ff8e 15.3%,#00ff85 21.3%,#00ff21 35.3%,#04ff00 45.3%,#39ff00 69.3%,#8f0 84%,#df0 94.7%,#fff800 99.3%,#fff400 100%)"></i><i style="left:102px;width:3px;background:linear-gradient(#00ff54 0%,#00ff7d 15.3%,#00ff78 20.7%,#00ff0f 35.3%,#0dff00 42%,#4aff00 68.7%,#a6ff00 84%,#fff800 95.3%,#ffd000 100%)"></i><i style="left:104px;width:3px;background:linear-gradient(#00ff65 0%,#00ff8e 15.3%,#00ff8a 20.7%,#00ff20 35.3%,#05ff00 45.3%,#39ff00 69.3%,#89ff00 84%,#f0ff00 96.7%,#fff300 100%)"></i><i style="left:106px;width:3px;background:linear-gradient(#00ff8d 0%,#00ffb6 15.3%,#00ffad 21.3%,#02ff00 44.7%,#5cff00 62%,#dfff00 99.3%,#e0ff00 100%)"></i><i style="left:108px;width:3px;background:linear-gradient(#00ffa2 0%,#00ffca 15.3%,#00ffc1 21.3%,#00ff41 36.7%,#05ff00 42.7%,#a8ff00 58%,#fdff00 71.3%,#ff8a00 91.3%,#ff7a00 100%)"></i><i style="left:110px;width:3px;background:linear-gradient(#00ffc4 0%,#00ffec 14.7%,#00ffe8 20.7%,#00ff69 36%,#06ff00 45.3%,#94ff00 58.7%,#d9ff00 69.3%,#fff800 76.7%,#ff9800 92.7%,#ff8b00 100%)"></i><i style="left:112px;width:3px;background:linear-gradient(#00ffcb 0%,#00fff4 15.3%,#00fff0 20.7%,#00ff6a 36.7%,#04ff00 46%,#89ff00 58.7%,#fffe00 78%,#ffa800 92.7%,#ff9b00 100%)"></i><i style="left:114px;width:3px;background:linear-gradient(#00ffbc 0%,#00ffe5 15.3%,#00ffdc 21.3%,#0f5 37.3%,#06ff00 45.3%,#8eff00 59.3%,#fffb00 79.3%,#ffb300 93.3%,#fa0 100%)"></i><i style="left:116px;width:3px;background:linear-gradient(#00ffbd 0%,#00ffe5 15.3%,#00ffdc 21.3%,#00ff50 38%,#02ff00 45.3%,#87ff00 59.3%,#fffa00 81.3%,#ffbd00 94.7%,#ffb800 100%)"></i><i style="left:118px;width:3px;background:linear-gradient(#0fc 0%,#00fff4 15.3%,#00ffeb 21.3%,#00ff5f 38%,#02ff00 46.7%,#83ff00 60.7%,#fff900 84%,#ffc800 96%,#ffc500 100%)"></i><i style="left:120px;width:3px;background:linear-gradient(#00ffc9 0%,#00fff2 15.3%,#00ffe9 21.3%,#00ff5c 38%,#04ff00 46.7%,#85ff00 60.7%,#fffb00 83.3%,#ffc700 96%,#ffc400 100%)"></i><i style="left:122px;width:3px;background:linear-gradient(#00ffbe 0%,#00ffe7 15.3%,#00ffde 21.3%,#00ff51 38%,#02ff00 45.3%,#8f0 59.3%,#fffb00 80.7%,#fb0 94%,#ffb400 100%)"></i><i style="left:124px;width:3px;background:linear-gradient(#00ffc0 0%,#00ffe9 15.3%,#00ffe0 21.3%,#00ff59 37.3%,#04ff00 45.3%,#90ff00 59.3%,#fff800 79.3%,#ffaf00 92.7%,#ffa300 100%)"></i><i style="left:126px;width:3px;background:linear-gradient(#00ffb5 0%,#00ffde 15.3%,#00ffd5 21.3%,#00ff59 36%,#02ff00 43.3%,#abff00 58%,#efff00 67.3%,#fff300 72%,#ff7200 91.3%,#ff5f00 100%)"></i><i style="left:128px;width:3px;background:linear-gradient(#00ff96 0%,#00ffbf 14.7%,#0fb 20.7%,#00ff41 35.3%,#07ff00 41.3%,#c1ff00 56.7%,#fffd00 64%,#ff4c00 90.7%,#ff3600 100%)"></i><i style="left:130px;width:3px;background:linear-gradient(#00ff89 0%,#00ffb1 15.3%,#00ffa8 21.3%,#0f3 35.3%,#03ff00 40%,#cfff00 56.7%,#fff900 62.7%,#ff3d00 90.7%,#ff2900 100%)"></i><i style="left:132px;width:3px;background:linear-gradient(#00ff91 0%,#00ffba 15.3%,#00ffb5 20.7%,#00ff3b 35.3%,#06ff00 40.7%,#d1ff00 56.7%,#fffb00 62%,#ff3100 90.7%,#ff1b00 100%)"></i><i style="left:134px;width:3px;background:linear-gradient(#00ff94 0%,#00ffbc 15.3%,#00ffb3 21.3%,#0f4 34.7%,#04ff00 40.7%,#d2ff00 56.7%,#fff800 62%,#ff2b00 90.7%,#ff1400 100%)"></i><i style="left:136px;width:3px;background:linear-gradient(#00ff93 0%,#0fb 15.3%,#00ffb2 21.3%,#00ff3c 35.3%,#05ff00 40.7%,#d3ff00 56.7%,#fff800 62%,#ff2b00 90.7%,#ff1400 100%)"></i><i style="left:138px;width:3px;background:linear-gradient(#00ff96 0%,#00ffbf 15.3%,#00ffb6 21.3%,#00ff40 35.3%,#02ff00 40.7%,#d1ff00 56.7%,#fff900 62%,#ff2800 91.3%,#ff1400 100%)"></i><i style="left:140px;width:3px;background:linear-gradient(#00ff9a 0%,#00ffc3 15.3%,#00ffbe 20.7%,#0f4 35.3%,#05ff00 41.3%,#c9ff00 57.3%,#fffb00 64%,#ff4300 91.3%,#ff3000 100%)"></i><i style="left:142px;width:3px;background:linear-gradient(#00ff91 0%,#00ffba 14.7%,#00ffb6 20.7%,#00ff30 36.7%,#05ff00 41.3%,#adff00 56.7%,#f8ff00 67.3%,#ffd500 75.3%,#ff7800 91.3%,#ff6900 100%)"></i><i style="left:144px;width:3px;background:linear-gradient(#00ff7c 0%,#00ffa5 15.3%,#00ff9c 21.3%,#00ff10 38%,#0cff00 40.7%,#b1ff00 57.3%,#fffe00 70.7%,#f90 89.3%,#ff8700 100%)"></i><i style="left:146px;width:3px;background:linear-gradient(#00ff7b 0%,#00ffa4 15.3%,#00ff9b 21.3%,#00ff09 38.7%,#24ff00 42.7%,#b4ff00 58%,#fffc00 71.3%,#ff9a00 90%,#ff8b00 100%)"></i><i style="left:148px;width:3px;background:linear-gradient(#00ff81 0%,#00ffa9 15.3%,#00ffa0 21.3%,#00ff0e 38.7%,#08ff00 40.7%,#abff00 57.3%,#fffd00 72%,#ff9c00 90.7%,#ff8f00 100%)"></i><i style="left:150px;width:3px;background:linear-gradient(#00ff7b 0%,#00ffa3 14.7%,#00ff9f 20.7%,#01ff00 40%,#96ff00 56.7%,#fffe00 76.7%,#ffbf00 92%,#ffb800 100%)"></i><i style="left:152px;width:3px;background:linear-gradient(#00ff6e 0%,#00ff97 15.3%,#00ff8e 21.3%,#03ff00 38.7%,#aeff00 56.7%,#ff0 70.7%,#ffa200 89.3%,#ff9200 100%)"></i><i style="left:154px;width:3px;background:linear-gradient(#00ff6f 0%,#00ff98 14.7%,#00ff94 20.7%,#00ff14 36%,#0aff00 38.7%,#e1ff00 56.7%,#fff800 60.7%,#ff3700 89.3%,#ff1f00 100%)"></i><i style="left:156px;width:3px;background:linear-gradient(#00ff8d 0%,#00ffb6 15.3%,#00ffb2 20.7%,#00ff32 36%,#04ff00 40.7%,#bcff00 56.7%,#fffe00 65.3%,#ff6100 90.7%,#ff4e00 100%)"></i><i style="left:158px;width:3px;background:linear-gradient(#00ffa0 0%,#00ffc9 15.3%,#00ffc0 21.3%,#00ff3f 36.7%,#07ff00 42.7%,#a9ff00 58%,#f6ff00 70%,#ffdf00 76.7%,#ff8a00 91.3%,#ff7a00 100%)"></i><i style="left:160px;width:3px;background:linear-gradient(#00ffa4 0%,#00ffcd 14.7%,#00ffc9 20.7%,#00ff38 38%,#05ff00 43.3%,#93ff00 58%,#fffe00 76.7%,#ffaf00 92%,#ffa300 100%)"></i><i style="left:162px;width:3px;background:linear-gradient(#00ffa1 0%,#00ffca 15.3%,#00ffc5 20.7%,#00ff2a 39.3%,#08ff00 44%,#8bff00 59.3%,#fff800 83.3%,#ffcd00 96.7%,#fc0 100%)"></i><i style="left:164px;width:3px;background:linear-gradient(#00ff87 0%,#00ffb0 15.3%,#00ffa7 21.3%,#06ff00 42%,#87ff00 58%,#fff900 84.7%,#ffdc00 98.7%,#ffdc00 100%)"></i><i style="left:166px;width:3px;background:linear-gradient(#00ff7f 0%,#00ffa8 15.3%,#00ffa4 20.7%,#05ff00 41.3%,#84ff00 58%,#fffd00 87.3%,#ffed00 100%)"></i><i style="left:168px;width:3px;background:linear-gradient(#00ff8d 0%,#00ffb5 15.3%,#00ffac 21.3%,#04ff00 44.7%,#5fff00 62%,#dfff00 98%,#e3ff00 100%)"></i><i style="left:170px;width:3px;background:linear-gradient(#00ff96 0%,#00ffbe 15.3%,#00ffb5 21.3%,#00ff4b 36%,#00ff0c 51.3%,#0eff00 62%,#5f0 84%,#a7ff00 98.7%,#afff00 100%)"></i><i style="left:172px;width:3px;background:linear-gradient(#00ff89 0%,#00ffb1 15.3%,#00ffa8 21.3%,#00ff43 35.3%,#00ff15 50%,#08ff00 66.7%,#4fff00 84%,#93ff00 94%,#c4ff00 100%)"></i><i style="left:174px;width:3px;background:linear-gradient(#00ff7e 0%,#00ffa7 15.3%,#00ffa2 20.7%,#00ff39 35.3%,#00ff0d 48.7%,#0bff00 62.7%,#50ff00 81.3%,#a2ff00 93.3%,#d9ff00 100%)"></i><i style="left:176px;width:3px;background:linear-gradient(#00ff8b 0%,#00ffb3 15.3%,#0fa 21.3%,#00ff45 35.3%,#00ff17 50%,#08ff00 67.3%,#4bff00 84%,#8fff00 94%,#c0ff00 100%)"></i><i style="left:178px;width:3px;background:linear-gradient(#00ffa6 0%,#00ffcf 15.3%,#00ffc6 21.3%,#00ff61 35.3%,#00ff35 48.7%,#06ff00 78%,#4aff00 92%,#89ff00 100%)"></i><i style="left:180px;width:3px;background:linear-gradient(#00ffad 0%,#00ffd6 15.3%,#00ffcd 21.3%,#00ff68 35.3%,#00ff3c 48.7%,#07ff00 81.3%,#3dff00 92%,#7bff00 100%)"></i><i style="left:182px;width:3px;background:linear-gradient(#00ff93 0%,#00ffbc 15.3%,#00ffb3 21.3%,#00ff4b 36%,#00ff21 49.3%,#07ff00 70%,#41ff00 84.7%,#79ff00 93.3%,#afff00 100%)"></i><i style="left:184px;width:3px;background:linear-gradient(#00ff93 0%,#00ffbc 15.3%,#00ffb3 21.3%,#00ff4e 35.3%,#0f2 48.7%,#07ff00 70%,#4f0 85.3%,#84ff00 94.7%,#afff00 100%)"></i><i style="left:186px;width:3px;background:linear-gradient(#00ff94 0%,#00ffbc 15.3%,#00ffb3 21.3%,#00ff4f 35.3%,#00ff21 49.3%,#08ff00 70.7%,#43ff00 85.3%,#83ff00 94.7%,#aeff00 100%)"></i><i style="left:188px;width:3px;background:linear-gradient(#00ff80 0%,#00ffa9 15.3%,#00ffa0 21.3%,#00ff03 42.7%,#5bff00 62.7%,#e1ff00 100%)"></i><i style="left:190px;width:3px;background:linear-gradient(#00ff8b 0%,#00ffb4 14.7%,#00ffb0 20.7%,#00ff1f 38%,#06ff00 41.3%,#a5ff00 57.3%,#fffe00 72.7%,#ff9e00 90.7%,#ff8f00 100%)"></i><i style="left:192px;width:3px;background:linear-gradient(#00ffa6 0%,#00ffce 14.7%,#00ffca 20.7%,#00ff4b 36%,#04ff00 42.7%,#a7ff00 57.3%,#f2ff00 68%,#fff000 72.7%,#ff7c00 91.3%,#ff6b00 100%)"></i><i style="left:194px;width:3px;background:linear-gradient(#00ffa0 0%,#00ffc9 15.3%,#00ffc0 21.3%,#0f4 36%,#05ff00 42%,#bf0 57.3%,#ff0 66%,#ff5a00 91.3%,#ff4700 100%)"></i><i style="left:196px;width:3px;background:linear-gradient(#00ff91 0%,#00ffba 15.3%,#00ffb5 20.7%,#00ff35 36%,#02ff00 40.7%,#c1ff00 56.7%,#fffa00 64.7%,#ff4e00 91.3%,#ff3d00 100%)"></i><i style="left:198px;width:3px;background:linear-gradient(#00ff95 0%,#00ffbe 15.3%,#00ffb9 20.7%,#00ff3f 35.3%,#0f0 40.7%,#c4ff00 56.7%,#fffa00 64%,#ff4500 91.3%,#f30 100%)"></i><i style="left:200px;width:3px;background:linear-gradient(#00ffb1 0%,#00ffda 15.3%,#00ffd1 21.3%,#0f5 36%,#05ff00 43.3%,#abff00 58%,#f2ff00 68%,#ffef00 72.7%,#ff7500 91.3%,#ff6300 100%)"></i><i style="left:202px;width:3px;background:linear-gradient(#0fa 0%,#00ffd2 15.3%,#00ffc9 21.3%,#00ff48 36.7%,#0f0 42.7%,#a1ff00 57.3%,#ebff00 68%,#fff700 72.7%,#ff8500 91.3%,#ff7400 100%)"></i><i style="left:204px;width:3px;background:linear-gradient(#00ff89 0%,#00ffb2 15.3%,#00ffa9 21.3%,#0f2 37.3%,#04ff00 40.7%,#b3ff00 56.7%,#fdff00 67.3%,#f70 90.7%,#f60 100%)"></i><i style="left:206px;width:3px;background:linear-gradient(#00ff7f 0%,#00ffa8 14.7%,#00ffa4 20.7%,#00ff29 35.3%,#05ff00 39.3%,#d6ff00 56%,#fffa00 60.7%,#ff2c00 90%,#ff1400 100%)"></i><i style="left:208px;width:3px;background:linear-gradient(#00ffaf 0%,#00ffd7 15.3%,#00ffce 21.3%,#00ff64 34%,#06ff00 42%,#d6ff00 56.7%,#fffb00 60.7%,#ff0400 91.3%,#f00 100%)"></i><i style="left:210px;width:3px;background:linear-gradient(#00ffd5 0%,#00fffe 15.3%,#00fff9 20.7%,#00ff90 33.3%,#00ff31 40.7%,#05ff00 44%,#c9ff00 57.3%,#fff900 62.7%,#ff6a00 80%,#ff0300 92%,#f00 100%)"></i><i style="left:212px;width:3px;background:linear-gradient(#00ffb6 0%,#00ffdf 15.3%,#00ffdb 20.7%,#00ff6b 34%,#00ff01 42%,#daff00 57.3%,#fff800 61.3%,#ff4d00 82%,#ff0100 92%,#f00 100%)"></i><i style="left:214px;width:3px;background:linear-gradient(#00ff7b 0%,#00ffa4 15.3%,#00ff9b 21.3%,#00ff2b 34.7%,#03ff00 38.7%,#f2ff00 56.7%,#fff000 59.3%,#ff0900 89.3%,#f00 98%,#f00 100%)"></i><i style="left:216px;width:3px;background:linear-gradient(#00ff51 0%,#00ff7a 15.3%,#00ff71 21.3%,#04ff00 35.3%,#feff00 56%,#ffa000 68%,#ff1000 88.7%,#f00 95.3%,#f00 100%)"></i><i style="left:218px;width:3px;background:linear-gradient(#00ff46 0%,#00ff6f 15.3%,#00ff6a 20.7%,#03ff00 34%,#fbff00 56%,#ff3100 85.3%,#ff0c00 96.7%,#ff0a00 100%)"></i><i style="left:220px;width:3px;background:linear-gradient(#00ff63 0%,#00ff8c 15.3%,#00ff87 20.7%,#05ff00 37.3%,#d3ff00 56%,#fffa00 62%,#ff5700 88.7%,#ff4100 100%)"></i><i style="left:222px;width:3px;background:linear-gradient(#00ff7c 0%,#00ffa5 15.3%,#00ffa0 20.7%,#00ff0b 38.7%,#19ff00 42%,#adff00 58%,#fffb00 73.3%,#ffa800 90%,#f90 100%)"></i><i style="left:224px;width:3px;background:linear-gradient(#00ff7a 0%,#00ffa2 15.3%,#0f9 21.3%,#02ff00 40%,#94ff00 56.7%,#fffe00 77.3%,#ffc400 92%,#ffbd00 100%)"></i><i style="left:226px;width:3px;background:linear-gradient(#00ff85 0%,#00ffae 14.7%,#0fa 20.7%,#07ff00 42%,#86ff00 58%,#fffa00 85.3%,#ffe000 99.3%,#ffe000 100%)"></i><i style="left:228px;width:3px;background:linear-gradient(#00ff95 0%,#00ffbe 14.7%,#00ffba 20.7%,#03ff00 46%,#5aff00 63.3%,#daff00 100%)"></i><i style="left:230px;width:3px;background:linear-gradient(#00ff94 0%,#00ffbd 15.3%,#00ffb9 20.7%,#00ff4a 36%,#00ff0e 50.7%,#0cff00 61.3%,#56ff00 84%,#a9ff00 98.7%,#b1ff00 100%)"></i><i style="left:232px;width:3px;background:linear-gradient(#00ff9a 0%,#00ffc3 15.3%,#00ffbe 20.7%,#0f5 35.3%,#00ff29 48.7%,#07ff00 72.7%,#43ff00 87.3%,#a2ff00 100%)"></i><i style="left:234px;width:3px;background:linear-gradient(#00ffc0 0%,#00ffe9 15.3%,#00ffe4 20.7%,#00ff7b 35.3%,#00ff4f 48.7%,#00ff0f 83.3%,#0bff00 90%,#5f0 100%)"></i><i style="left:236px;width:3px;background:linear-gradient(#00ffd4 0%,#00fffd 15.3%,#00fff8 20.7%,#00ff8f 35.3%,#00ff63 48.7%,#00ff2a 85.3%,#06ff00 94.7%,#2eff00 100%)"></i><i style="left:238px;width:3px;background:linear-gradient(#00ffca 0%,#00fff3 15.3%,#00ffef 20.7%,#00ff85 35.3%,#00ff59 48.7%,#00ff20 83.3%,#06ff00 92%,#41ff00 100%)"></i><i style="left:240px;width:3px;background:linear-gradient(#00ffc9 0%,#00fff2 15.3%,#00ffe9 21.3%,#00ff84 35.3%,#00ff58 48.7%,#00ff1f 83.3%,#07ff00 92%,#43ff00 100%)"></i><i style="left:242px;width:3px;background:linear-gradient(#00ffd5 0%,#00fffe 15.3%,#00fff9 20.7%,#00ff90 35.3%,#00ff64 48.7%,#00ff2d 84.7%,#00ff0a 92.7%,#18ff00 97.3%,#2cff00 100%)"></i><i style="left:244px;width:3px;background:linear-gradient(#00ffcd 0%,#00fff6 15.3%,#00fff1 20.7%,#0f8 35.3%,#00ff5c 48.7%,#0f2 84%,#05ff00 92.7%,#3cff00 100%)"></i><i style="left:246px;width:3px;background:linear-gradient(#00ffa9 0%,#00ffd2 15.3%,#00ffce 20.7%,#00ff64 35.3%,#00ff38 48.7%,#07ff00 80%,#4aff00 92.7%,#83ff00 100%)"></i><i style="left:248px;width:3px;background:linear-gradient(#00ff8c 0%,#00ffb5 15.3%,#00ffac 21.3%,#00ff47 35.3%,#00ff1b 48.7%,#08ff00 68%,#4cff00 84.7%,#8cff00 94%,#bdff00 100%)"></i><i style="left:250px;width:3px;background:linear-gradient(#00ff8a 0%,#00ffb3 15.3%,#0fa 21.3%,#00ff42 36%,#00ff18 49.3%,#08ff00 67.3%,#4cff00 84%,#90ff00 94%,#c1ff00 100%)"></i><i style="left:252px;width:3px;background:linear-gradient(#00ff8e 0%,#00ffb7 14.7%,#00ffb3 20.7%,#00ff49 35.3%,#00ff1b 50%,#08ff00 68.7%,#45ff00 84%,#82ff00 93.3%,#b8ff00 100%)"></i><i style="left:254px;width:3px;background:linear-gradient(#00ffa7 0%,#00ffd0 15.3%,#00ffcb 20.7%,#00ff62 35.3%,#00ff36 48.7%,#07ff00 78.7%,#49ff00 92%,#87ff00 100%)"></i><i style="left:256px;width:3px;background:linear-gradient(#00ffdc 0%,#00fbff 12.7%,#00fff7 22%,#00ff97 35.3%,#00ff69 50%,#00ff38 85.3%,#00ff14 93.3%,#09ff00 97.3%,#1cff00 100%)"></i><i style="left:258px;width:3px;background:linear-gradient(#00ffed 0%,#00f8ff 7.3%,#00e8ff 18.7%,#00fff8 24%,#00ffa8 35.3%,#00ff7a 49.3%,#00ff5f 74%,#00ff51 86.7%,#00ff2b 94.7%,#00ff04 100%)"></i><i style="left:260px;width:3px;background:linear-gradient(#00ffe0 0%,#00fbff 11.3%,#00faff 20.7%,#00ff98 36%,#00ff6c 50%,#00ff3e 85.3%,#00ff1b 93.3%,#07ff00 98%,#15ff00 100%)"></i><i style="left:262px;width:3px;background:linear-gradient(#00ffda 0%,#00fbff 14%,#00fff9 21.3%,#00ff95 35.3%,#00ff69 48.7%,#00ff34 85.3%,#00ff0f 93.3%,#0eff00 97.3%,#2f0 100%)"></i><i style="left:264px;width:3px;background:linear-gradient(#0fc 0%,#00fff5 15.3%,#00ffec 21.3%,#00ff84 36%,#00ff5a 49.3%,#00ff21 84%,#06ff00 92.7%,#3dff00 100%)"></i><i style="left:266px;width:3px;background:linear-gradient(#00ffbe 0%,#00ffe7 15.3%,#00ffe2 20.7%,#00ff79 35.3%,#00ff4d 48.7%,#00ff0c 83.3%,#0eff00 90%,#59ff00 100%)"></i><i style="left:268px;width:3px;background:linear-gradient(#00ffc1 0%,#00ffea 14.7%,#00ffe6 20.7%,#00ff7c 35.3%,#00ff4e 50%,#00ff12 83.3%,#08ff00 90%,#52ff00 100%)"></i><i style="left:270px;width:3px;background:linear-gradient(#00ffc7 0%,#00fff0 15.3%,#00ffe7 21.3%,#00ff82 35.3%,#00ff56 48.7%,#00ff19 84%,#07ff00 91.3%,#47ff00 100%)"></i><i style="left:272px;width:3px;background:linear-gradient(#00ffcb 0%,#00fff4 15.3%,#00ffeb 21.3%,#00ff86 35.3%,#00ff5c 48%,#00ff20 84%,#08ff00 92.7%,#3eff00 100%)"></i><i style="left:274px;width:3px;background:linear-gradient(#0fa 0%,#00ffd3 15.3%,#00ffce 20.7%,#00ff65 35.3%,#00ff39 48.7%,#06ff00 80%,#43ff00 92%,#81ff00 100%)"></i><i style="left:276px;width:3px;background:linear-gradient(#00ff80 0%,#00ffa9 15.3%,#00ffa5 20.7%,#00ff3b 35.3%,#00ff0f 48.7%,#0aff00 63.3%,#51ff00 82%,#9eff00 93.3%,#d5ff00 100%)"></i><i style="left:278px;width:3px;background:linear-gradient(#00ff7e 0%,#00ffa7 15.3%,#00ffa2 20.7%,#00ff39 35.3%,#00ff0d 48.7%,#0bff00 62.7%,#4cff00 80.7%,#a2ff00 93.3%,#d9ff00 100%)"></i><i style="left:280px;width:3px;background:linear-gradient(#00ff79 0%,#00ffa1 15.3%,#00ff98 21.3%,#00ff34 35.3%,#00ff06 49.3%,#20ff00 68.7%,#6dff00 84.7%,#b8ff00 94.7%,#e4ff00 100%)"></i><i style="left:282px;width:3px;background:linear-gradient(#00ff75 0%,#00ff9e 15.3%,#0f9 20.7%,#00ff30 35.3%,#00ff04 48.7%,#27ff00 69.3%,#73ff00 84.7%,#c5ff00 95.3%,#ebff00 100%)"></i><i style="left:284px;width:3px;background:linear-gradient(#00ff7d 0%,#00ffa6 15.3%,#00ffa1 20.7%,#00ff38 35.3%,#00ff0c 48.7%,#0cff00 62.7%,#52ff00 81.3%,#a4ff00 93.3%,#dbff00 100%)"></i><i style="left:286px;width:3px;background:linear-gradient(#00ff78 0%,#00ffa0 15.3%,#00ff97 21.3%,#00ff32 35.3%,#00ff04 50%,#24ff00 69.3%,#6bff00 84%,#b4ff00 94%,#e6ff00 100%)"></i><i style="left:288px;width:3px;background:linear-gradient(#00ff73 0%,#00ff9c 15.3%,#00ff93 21.3%,#00ff2e 35.3%,#0f0 50%,#2cff00 70%,#72ff00 84%,#c2ff00 94.7%,#ef0 100%)"></i><i style="left:290px;width:3px;background:linear-gradient(#00ff7d 0%,#00ffa6 15.3%,#00ffa1 20.7%,#00ff38 35.3%,#00ff0c 48.7%,#0cff00 62.7%,#52ff00 81.3%,#a4ff00 93.3%,#dcff00 100%)"></i><i style="left:292px;width:3px;background:linear-gradient(#00ff9c 0%,#00ffc5 15.3%,#00ffbc 21.3%,#00ff57 35.3%,#00ff2d 48%,#06ff00 73.3%,#3bff00 86.7%,#83ff00 96.7%,#9dff00 100%)"></i><i style="left:294px;width:3px;background:linear-gradient(#00ffb6 0%,#00ffdf 15.3%,#00ffda 20.7%,#00ff71 35.3%,#00ff45 48.7%,#00ff07 81.3%,#27ff00 91.3%,#69ff00 100%)"></i><i style="left:296px;width:3px;background:linear-gradient(#00ffb2 0%,#00ffdb 15.3%,#00ffd2 21.3%,#00ff6d 35.3%,#00ff41 48.7%,#00ff04 80.7%,#3f0 92%,#71ff00 100%)"></i><i style="left:298px;width:3px;background:linear-gradient(#00ff9c 0%,#00ffc5 15.3%,#00ffc0 20.7%,#00ff57 35.3%,#00ff29 49.3%,#07ff00 73.3%,#3dff00 86.7%,#89ff00 97.3%,#9eff00 100%)"></i><i style="left:300px;width:3px;background:linear-gradient(#00ff8a 0%,#00ffb6 15.3%,#0fa 21.3%,#0f4 35.3%,#00ff16 50%,#09ff00 67.3%,#4dff00 84%,#91ff00 94%,#c2ff00 100%)"></i><i style="left:302px;width:3px;background:linear-gradient(#00ff91 0%,#00ffbf 15.3%,#00ffb1 21.3%,#00ff4b 35.3%,#00ff1f 48.7%,#06ff00 68.7%,#46ff00 84.7%,#85ff00 94%,#b5ff00 100%)"></i><i style="left:304px;width:3px;background:linear-gradient(#00ff9a 0%,#0fc 15.3%,#00ffba 21.3%,#00ff53 35.3%,#00ff27 48.7%,#07ff00 72%,#3fff00 86%,#85ff00 96%,#a5ff00 100%)"></i><i style="left:306px;width:3px;background:linear-gradient(#00ff90 0%,#00ffc9 14.7%,#00ffb2 21.3%,#00ff49 35.3%,#00ff1b 50%,#08ff00 68.7%,#45ff00 84%,#82ff00 93.3%,#b8ff00 100%)"></i><i style="left:308px;width:3px;background:linear-gradient(#00ff86 0%,#00ffc2 14.7%,#00ffa9 21.3%,#00ff41 34.7%,#00ff13 48.7%,#0aff00 65.3%,#53ff00 83.3%,#97ff00 93.3%,#ceff00 100%)"></i><i style="left:310px;width:3px;background:linear-gradient(#00ff8b 0%,#00ffca 14%,#00ffae 21.3%,#00ff42 35.3%,#00ff14 50%,#09ff00 66.7%,#50ff00 84%,#95ff00 94%,#c6ff00 100%)"></i><i style="left:312px;width:3px;background:linear-gradient(#00ff91 0%,#00ffd5 14%,#00ffb4 21.3%,#00ff4a 34.7%,#00ff1a 49.3%,#08ff00 68%,#48ff00 84%,#86ff00 93.3%,#bcff00 100%)"></i><i style="left:314px;width:3px;background:linear-gradient(#00ffaf 0%,#00ffe6 11.3%,#00fff6 14.7%,#00ffe5 20%,#00ff87 30%,#00ff5d 37.3%,#00ff35 50.7%,#06ff00 80%,#43ff00 92%,#81ff00 100%)"></i><i style="left:316px;width:3px;background:linear-gradient(#00ffb1 0%,#00ffe9 11.3%,#00fff3 14.7%,#00fff1 19.3%,#00ff9f 27.3%,#0f6 35.3%,#00ff38 50%,#06ff00 80.7%,#45ff00 92.7%,#7eff00 100%)"></i><i style="left:318px;width:3px;background:linear-gradient(#00ff9b 0%,#00ffd2 10.7%,#00ffd8 18.7%,#0f5 34%,#00ff24 48.7%,#07ff00 70.7%,#3eff00 84.7%,#76ff00 93.3%,#acff00 100%)"></i><i style="left:320px;width:3px;background:linear-gradient(#00ffa3 0%,#00ffd1 9.3%,#00ffe4 12%,#00ffd9 20%,#00ff69 32%,#00ff2f 46.7%,#07ff00 73.3%,#3cff00 86.7%,#9eff00 100%)"></i><i style="left:322px;width:3px;background:linear-gradient(#00ffbc 0%,#0fe 9.3%,#00faff 11.3%,#00fff5 19.3%,#0f7 33.3%,#0f4 48%,#00ff04 81.3%,#30ff00 92%,#6eff00 100%)"></i><i style="left:324px;width:3px;background:linear-gradient(#00ffc1 0%,#00fff3 9.3%,#00f1ff 12%,#00f4ff 15.3%,#00fcff 18%,#00ffe8 21.3%,#00ff8b 31.3%,#00ff4f 44.7%,#00ff08 82%,#1eff00 90.7%,#65ff00 100%)"></i><i style="left:326px;width:3px;background:linear-gradient(#00ffb5 0%,#00ffeb 10%,#00fffc 12%,#00fff7 18%,#0fd 21.3%,#00ff84 30.7%,#00ff56 39.3%,#00ff26 60.7%,#06ff00 80.7%,#4f0 92.7%,#7dff00 100%)"></i><i style="left:328px;width:3px;background:linear-gradient(#00ff9c 0%,#00ffe5 15.3%,#00ffcf 20.7%,#00ff7a 28.7%,#00ff48 36.7%,#00ff1c 51.3%,#07ff00 70%,#41ff00 84.7%,#7fff00 94%,#b0ff00 100%)"></i><i style="left:330px;width:3px;background:linear-gradient(#0f9 0%,#00ffe3 15.3%,#00ffd3 20.7%,#00ff9b 24.7%,#00ff4a 35.3%,#00ff1c 50%,#07ff00 68.7%,#43ff00 84%,#80ff00 93.3%,#b6ff00 100%)"></i><i style="left:332px;width:3px;background:linear-gradient(#00ffa3 0%,#0fe 16%,#00ffda 20.7%,#00ff81 28.7%,#00ff4f 36.7%,#00ff27 49.3%,#06ff00 72%,#3dff00 86%,#83ff00 96%,#a3ff00 100%)"></i><i style="left:334px;width:3px;background:linear-gradient(#00ff9d 0%,#00ffe8 14%,#00fff9 16%,#00ffac 24%,#00ff61 32%,#00ff27 46.7%,#06ff00 70%,#43ff00 85.3%,#83ff00 94.7%,#aeff00 100%)"></i><i style="left:336px;width:3px;background:linear-gradient(#00ff9c 0%,#00ffec 14.7%,#00fffd 16.7%,#00ff7a 28.7%,#00ff48 36.7%,#00ff20 49.3%,#08ff00 70%,#42ff00 84.7%,#80ff00 94%,#b1ff00 100%)"></i><i style="left:338px;width:3px;background:linear-gradient(#00ff9a 0%,#00ffea 15.3%,#00fffa 17.3%,#00ffd6 20.7%,#00ff9c 24.7%,#00ff4c 35.3%,#00ff20 48.7%,#07ff00 69.3%,#41ff00 84%,#83ff00 94%,#b4ff00 100%)"></i><i style="left:340px;width:3px;background:linear-gradient(#00ff9b 0%,#00fff4 18%,#00ffe5 20%,#00ffb3 22.7%,#0f5 33.3%,#0f2 48%,#06ff00 69.3%,#43ff00 84.7%,#81ff00 94%,#b2ff00 100%)"></i><i style="left:342px;width:3px;background:linear-gradient(#00ff9d 0%,#00ffe7 15.3%,#00ffe3 20%,#00ffb5 22.7%,#00ff54 34%,#00ff23 48.7%,#06ff00 70%,#40ff00 84.7%,#7dff00 94%,#adff00 100%)"></i><i style="left:344px;width:3px;background:linear-gradient(#00ff93 0%,#00ffdc 15.3%,#00ffd6 20%,#00ff94 24.7%,#0f4 35.3%,#00ff18 48.7%,#09ff00 67.3%,#4eff00 84%,#92ff00 94%,#c3ff00 100%)"></i><i style="left:346px;width:3px;background:linear-gradient(#00ff8b 0%,#00ffd5 15.3%,#00ffc3 20.7%,#00ff86 25.3%,#00ff3d 35.3%,#00ff0f 49.3%,#0cff00 65.3%,#56ff00 83.3%,#9bff00 93.3%,#d2ff00 100%)"></i><i style="left:348px;width:3px;background:linear-gradient(#00ff89 0%,#00ffd4 13.3%,#00ffc5 20%,#00ff72 27.3%,#00ff38 36%,#00ff0d 49.3%,#0dff00 64.7%,#5aff00 83.3%,#a5ff00 94%,#d6ff00 100%)"></i><i style="left:350px;width:3px;background:linear-gradient(#00ff91 0%,#00ffd6 11.3%,#00ffe3 14%,#00ffc2 20.7%,#00ff6f 28.7%,#00ff3f 36%,#00ff13 50%,#09ff00 66.7%,#51ff00 84%,#96ff00 94%,#c7ff00 100%)"></i><i style="left:352px;width:3px;background:linear-gradient(#00ffb5 0%,#00fff6 10.7%,#00f6ff 14%,#00ffef 20%,#00ff94 28.7%,#00ff64 36%,#00ff39 49.3%,#06ff00 80.7%,#45ff00 92.7%,#7eff00 100%)"></i><i style="left:354px;width:3px;background:linear-gradient(#00ffd4 0%,#00f9ff 9.3%,#00daff 13.3%,#00f0ff 20%,#00fff4 22%,#00ff8e 33.3%,#00ff5c 47.3%,#00ff1c 84.7%,#05ff00 92%,#41ff00 100%)"></i><i style="left:356px;width:3px;background:linear-gradient(#00ffcb 0%,#00fbff 10.7%,#00e2ff 15.3%,#00fffc 20.7%,#0f9 30.7%,#00ff5e 42.7%,#00ff12 83.3%,#08ff00 90%,#52ff00 100%)"></i><i style="left:358px;width:3px;background:linear-gradient(#00ffb7 0%,#00fffe 13.3%,#00e5ff 15.3%,#00fff8 18.7%,#00ff80 31.3%,#0f4 45.3%,#06ff00 81.3%,#41ff00 92.7%,#7aff00 100%)"></i><i style="left:360px;width:3px;background:linear-gradient(#00ffac 0%,#00fff1 13.3%,#00edff 14.7%,#00e1ff 16%,#00fffd 18%,#00ff95 27.3%,#00ff5d 35.3%,#00ff31 48.7%,#06ff00 76%,#47ff00 90.7%,#91ff00 100%)"></i><i style="left:362px;width:3px;background:linear-gradient(#00ff9f 0%,#00ffe0 12.7%,#00fffb 14%,#00e5ff 16%,#00fff5 18%,#00ffdc 19.3%,#00ff72 30%,#00ff42 38.7%,#00ff1a 54%,#07ff00 70.7%,#3dff00 84.7%,#80ff00 94.7%,#abff00 100%)"></i><i style="left:364px;width:3px;background:linear-gradient(#00ff9c 0%,#00ffca 8.7%,#00fdff 14%,#00e9ff 16%,#00fcff 17.3%,#0fd 18.7%,#00ff6a 30.7%,#00ff2c 43.3%,#06ff00 69.3%,#42ff00 84.7%,#81ff00 94%,#b1ff00 100%)"></i><i style="left:366px;width:3px;background:linear-gradient(#00ffa9 0%,#00ffdb 8.7%,#00f8ff 11.3%,#00e5ff 16%,#00f8ff 17.3%,#00ff8c 28%,#00ff58 36%,#00ff2e 48.7%,#06ff00 74.7%,#47ff00 90%,#97ff00 100%)"></i><i style="left:368px;width:3px;background:linear-gradient(#00ffb5 0%,#00ffe6 8.7%,#00fffd 10%,#00e1ff 12.7%,#00f1ff 16.7%,#00fff9 18%,#00ffde 21.3%,#00ff89 30%,#00ff5e 37.3%,#00ff34 52%,#06ff00 80.7%,#45ff00 92.7%,#7eff00 100%)"></i><i style="left:370px;width:3px;background:linear-gradient(#00ffb2 0%,#00ffe0 8.7%,#0ff 10.7%,#00f3ff 12.7%,#00ffef 19.3%,#00ff80 30.7%,#00ff45 42.7%,#06ff00 79.3%,#46ff00 92%,#84ff00 100%)"></i><i style="left:372px;width:3px;background:linear-gradient(#00ffa1 0%,#00ffce 8.7%,#00ffef 11.3%,#00ffda 20%,#00ff74 30%,#00ff45 38.7%,#00ff21 51.3%,#08ff00 72%,#4f0 86.7%,#a7ff00 100%)"></i><i style="left:374px;width:3px;background:linear-gradient(#00ffb1 0%,#00ffdf 8.7%,#0ff 11.3%,#00fff4 18%,#00ffc7 23.3%,#00ff7f 30.7%,#00ff51 39.3%,#00ff21 60.7%,#08ff00 79.3%,#49ff00 92%,#87ff00 100%)"></i><i style="left:376px;width:3px;background:linear-gradient(#00ffce 0%,#00fffd 8.7%,#00dcff 12%,#00d6ff 15.3%,#00ecff 18%,#0ff 20.7%,#00ffa1 30%,#0f7 37.3%,#00ff4f 50.7%,#00ff14 84%,#08ff00 90.7%,#4dff00 100%)"></i><i style="left:378px;width:3px;background:linear-gradient(#00ffd2 0%,#00feff 8.7%,#00caff 14%,#00d2ff 15.3%,#00e4ff 16.7%,#00fffa 21.3%,#00ff9b 31.3%,#00ff5e 45.3%,#00ff1b 84%,#04ff00 91.3%,#4f0 100%)"></i><i style="left:380px;width:3px;background:linear-gradient(#00ffb5 0%,#00ffec 10%,#00f3ff 12.7%,#0ef 14.7%,#00fffd 16.7%,#00ffe6 20.7%,#00ff89 30%,#00ff5b 38%,#00ff30 54%,#06ff00 80.7%,#45ff00 92.7%,#7eff00 100%)"></i><i style="left:382px;width:3px;background:linear-gradient(#00ff95 0%,#00ffcd 10.7%,#00fff2 14%,#00ffc6 20.7%,#00ff63 30.7%,#00ff28 42.7%,#07ff00 67.3%,#4aff00 84%,#8eff00 94%,#beff00 100%)"></i><i style="left:384px;width:3px;background:linear-gradient(#00ffa9 0%,#00ffdf 10.7%,#00fbff 12.7%,#00f0ff 14.7%,#00fff1 16.7%,#00ffda 20.7%,#00ff72 31.3%,#00ff35 45.3%,#06ff00 74.7%,#3cff00 88%,#96ff00 100%)"></i><i style="left:386px;width:3px;background:linear-gradient(#00ffd0 0%,#00fdff 10%,#00c6ff 13.3%,#0cf 15.3%,#00eaff 18%,#00fff8 21.3%,#00ffce 25.3%,#00ff84 34.7%,#0f5 48.7%,#00ff17 84%,#08ff00 91.3%,#49ff00 100%)"></i><i style="left:388px;width:3px;background:linear-gradient(#00ffc6 0%,#00faff 10.7%,#00d9ff 14%,#00fff8 20.7%,#00ffcb 24.7%,#00ff7a 34.7%,#00ff4a 49.3%,#00ff0a 83.3%,#1f0 90%,#5cff00 100%)"></i><i style="left:390px;width:3px;background:linear-gradient(#00ffac 0%,#00ffe7 10.7%,#00fffb 16.7%,#00ffce 22.7%,#00ff9a 26.7%,#00ff5d 35.3%,#00ff31 48.7%,#07ff00 76%,#47ff00 90.7%,#91ff00 100%)"></i><i style="left:392px;width:3px;background:linear-gradient(#00ff9f 0%,#00fff2 16.7%,#00ffc9 22%,#00ff93 26%,#00ff50 35.3%,#00ff24 48.7%,#07ff00 70.7%,#41ff00 85.3%,#80ff00 94.7%,#abff00 100%)"></i><i style="left:394px;width:3px;background:linear-gradient(#00ffa5 0%,#00fffa 16.7%,#00ffd3 21.3%,#00ff8e 27.3%,#00ff54 36%,#00ff29 49.3%,#07ff00 73.3%,#3dff00 86.7%,#89ff00 97.3%,#9eff00 100%)"></i><i style="left:396px;width:3px;background:linear-gradient(#00ffaf 0%,#00fffe 14.7%,#00fff4 18.7%,#00ff87 29.3%,#00ff5b 36.7%,#0f3 49.3%,#07ff00 78%,#4cff00 92%,#8bff00 100%)"></i><i style="left:398px;width:3px;background:linear-gradient(#00ffaf 0%,#00fffc 14%,#00ffe9 20%,#00ff8d 28.7%,#00ff5b 36.7%,#00ff2f 51.3%,#00ff02 74.7%,#28ff00 86%,#60ff00 94.7%,#8aff00 100%)"></i><i style="left:400px;width:3px;background:linear-gradient(#00ffc7 0%,#00fdff 11.3%,#0ef 16.7%,#00fff9 20.7%,#00ffa6 28.7%,#00ff76 36%,#00ff4a 50%,#00ff0c 83.3%,#0fff00 90%,#5aff00 100%)"></i><i style="left:402px;width:3px;background:linear-gradient(#00ffe1 0%,#00f7ff 7.3%,#00d4ff 15.3%,#00ecff 20.7%,#00fff8 22.7%,#00ff98 34%,#00ff68 48%,#00ff31 84.7%,#00ff0a 93.3%,#18ff00 98%,#27ff00 100%)"></i><i style="left:404px;width:3px;background:linear-gradient(#00ffd2 0%,#00faff 10%,#00e3ff 16%,#00fffa 21.3%,#00ffa0 30.7%,#00ff62 43.3%,#00ff1b 84%,#05ff00 91.3%,#45ff00 100%)"></i><i style="left:406px;width:3px;background:linear-gradient(#00ffb1 0%,#00fffa 15.3%,#00ffe2 20.7%,#00ff89 29.3%,#00ff5c 36.7%,#00ff32 50.7%,#07ff00 78.7%,#48ff00 92%,#87ff00 100%)"></i><i style="left:408px;width:3px;background:linear-gradient(#00ff8e 0%,#00ffd7 15.3%,#00ffbf 20.7%,#00ff52 32%,#00ff17 46.7%,#09ff00 64.7%,#52ff00 83.3%,#96ff00 93.3%,#cdff00 100%)"></i><i style="left:410px;width:3px;background:linear-gradient(#00ff8d 0%,#00ffcd 12%,#00ffda 16.7%,#00ffb6 21.3%,#00ff47 33.3%,#00ff14 48%,#0aff00 65.3%,#53ff00 83.3%,#9cff00 94%,#ceff00 100%)"></i><i style="left:412px;width:3px;background:linear-gradient(#00ffa6 0%,#00ffda 8.7%,#00f9ff 12%,#00d9ff 14.7%,#00e2ff 16.7%,#00fffc 18%,#00ffe8 18.7%,#00ff60 33.3%,#00ff2d 48%,#06ff00 73.3%,#3aff00 86.7%,#82ff00 96.7%,#9cff00 100%)"></i><i style="left:414px;width:3px;background:linear-gradient(#00ffa7 0%,#00ffda 8.7%,#00feff 10.7%,#00b6ff 14%,#00b8ff 16%,#00f3ff 18%,#00ffe5 19.3%,#00ff76 30.7%,#00ff48 39.3%,#00ff18 60.7%,#08ff00 74.7%,#4aff00 90%,#9aff00 100%)"></i><i style="left:416px;width:3px;background:linear-gradient(#00ffb1 0%,#00ffe1 8.7%,#00fffa 10%,#00a4ff 14%,#00a2ff 15.3%,#00c1ff 16.7%,#00f4ff 18%,#00ffef 19.3%,#00ff75 32%,#00ff3b 46.7%,#07ff00 79.3%,#47ff00 92%,#86ff00 100%)"></i><i style="left:418px;width:3px;background:linear-gradient(#00ffd4 0%,#00feff 8.7%,#00a2ff 13.3%,#009bff 15.3%,#00e4ff 18%,#00fffd 21.3%,#00ff98 32%,#00ff5e 46.7%,#00ff1f 84%,#04ff00 92%,#40ff00 100%)"></i><i style="left:420px;width:3px;background:linear-gradient(#00ffde 0%,#00f9ff 8%,#00e9ff 10%,#00bdff 13.3%,#00beff 15.3%,#00dcff 18%,#00f7ff 21.3%,#00ffcd 26.7%,#00ff90 35.3%,#00ff62 49.3%,#00ff2d 84.7%,#00ff0a 92.7%,#13ff00 96.7%,#2cff00 100%)"></i><i style="left:422px;width:3px;background:linear-gradient(#00ffc1 0%,#00fbff 12.7%,#00f9ff 18%,#00fff2 20.7%,#00ff9a 29.3%,#00ff6a 37.3%,#00ff40 52%,#00ff07 82%,#24ff00 91.3%,#6f0 100%)"></i><i style="left:424px;width:3px;background:linear-gradient(#00ffb6 0%,#00feff 15.3%,#00ffe8 20.7%,#00ff94 28.7%,#00ff62 36.7%,#00ff36 51.3%,#07ff00 81.3%,#43ff00 92.7%,#7cff00 100%)"></i><i style="left:426px;width:3px;background:linear-gradient(#00ffd5 0%,#00fcff 9.3%,#00e0ff 15.3%,#00f8ff 20.7%,#00ff8e 33.3%,#00ff5b 48%,#00ff1f 84%,#04ff00 92%,#3fff00 100%)"></i><i style="left:428px;width:3px;background:linear-gradient(#00ffec 0%,#00f4ff 5.3%,#00e0ff 9.3%,#00c9ff 16%,#00e1ff 20.7%,#00fff7 24%,#00ffa3 34%,#00ff73 48%,#00ff50 76.7%,#00ff31 90.7%,#07ff00 98.7%,#1f0 100%)"></i><i style="left:430px;width:3px;background:linear-gradient(#00ffd4 0%,#00f6ff 8.7%,#00e2ff 16.7%,#00fffc 21.3%,#00ff92 32.7%,#00ff5c 47.3%,#00ff1b 84.7%,#06ff00 92%,#41ff00 100%)"></i><i style="left:432px;width:3px;background:linear-gradient(#00ffc5 0%,#00fffd 10%,#00f2ff 17.3%,#00fff9 20.7%,#00ff93 30.7%,#00ff58 42.7%,#00ff08 83.3%,#18ff00 90.7%,#5eff00 100%)"></i><i style="left:434px;width:3px;background:linear-gradient(#00ffc5 0%,#00faff 10%,#00f3ff 17.3%,#00fffb 20.7%,#00ffa8 28%,#00ff73 36%,#00ff47 50%,#00ff0c 82%,#1f0 89.3%,#5fff00 100%)"></i><i style="left:436px;width:3px;background:linear-gradient(#00ffbf 0%,#00ffec 8%,#00f7ff 10%,#00ebff 13.3%,#00fffd 20%,#00ffaf 26.7%,#00ff70 35.3%,#00ff46 48%,#00ff06 81.3%,#28ff00 91.3%,#6bff00 100%)"></i><i style="left:438px;width:3px;background:linear-gradient(#00ffb4 0%,#00ffe0 8%,#00f7ff 10.7%,#00edff 13.3%,#00fffd 16%,#00fffa 20%,#00ffc3 23.3%,#00ff68 34.7%,#00ff39 48.7%,#05ff00 80%,#48ff00 92.7%,#81ff00 100%)"></i><i style="left:440px;width:3px;background:linear-gradient(#00ff9c 0%,#00ffcd 8.7%,#00ffed 12%,#00ffea 17.3%,#00fff8 19.3%,#00ffab 23.3%,#00ff50 34.7%,#00ff21 48.7%,#08ff00 70%,#3fff00 84%,#7bff00 93.3%,#b1ff00 100%)"></i><i style="left:442px;width:3px;background:linear-gradient(#00ff97 0%,#00ffe1 15.3%,#00ffe8 17.3%,#00fff9 19.3%,#00ffe1 20.7%,#00ffa7 23.3%,#00ff4e 34%,#00ff1e 48%,#07ff00 68%,#47ff00 84%,#84ff00 93.3%,#bf0 100%)"></i><i style="left:444px;width:3px;background:linear-gradient(#00ff9a 0%,#00ffe8 14%,#00fff8 19.3%,#00ffd1 21.3%,#00ffa4 24%,#00ff4e 34.7%,#00ff20 48.7%,#08ff00 69.3%,#41ff00 84%,#83ff00 94%,#b4ff00 100%)"></i><i style="left:446px;width:3px;background:linear-gradient(#00ff94 0%,#00ffd7 12.7%,#00feff 14.7%,#00fff6 17.3%,#00ffd3 20.7%,#00ff9f 24%,#00ff48 34.7%,#00ff18 49.3%,#08ff00 67.3%,#4bff00 84%,#8fff00 94%,#c0ff00 100%)"></i><i style="left:448px;width:3px;background:linear-gradient(#00ffa0 0%,#00ffe7 12%,#00fffe 13.3%,#00daff 15.3%,#00fffd 18%,#00ffb1 23.3%,#00ff56 34%,#00ff25 48.7%,#06ff00 70.7%,#3cff00 84.7%,#79ff00 94%,#a9ff00 100%)"></i><i style="left:450px;width:3px;background:linear-gradient(#00ffb2 0%,#00fdff 12%,#00beff 15.3%,#00dcff 17.3%,#00fcff 18.7%,#00ffb7 24.7%,#0f6 34.7%,#00ff37 48.7%,#06ff00 79.3%,#46ff00 92%,#85ff00 100%)"></i><i style="left:452px;width:3px;background:linear-gradient(#00ffae 0%,#00fff3 11.3%,#00f2ff 12.7%,#00c4ff 15.3%,#00e0ff 17.3%,#00fffb 18.7%,#00ff9e 26.7%,#00ff5c 36%,#00ff32 49.3%,#07ff00 77.3%,#4dff00 92%,#8dff00 100%)"></i><i style="left:454px;width:3px;background:linear-gradient(#00ffb7 0%,#00fff1 10.7%,#00edff 12.7%,#00d0ff 15.3%,#00e2ff 17.3%,#0ff 18.7%,#00ff9b 28%,#0f6 36%,#00ff3b 49.3%,#06ff00 81.3%,#41ff00 92.7%,#7aff00 100%)"></i><i style="left:456px;width:3px;background:linear-gradient(#00ffc9 0%,#00fbff 10.7%,#00dcff 13.3%,#00e2ff 17.3%,#00fffa 20.7%,#00ffa1 29.3%,#00ff74 36.7%,#00ff4a 50.7%,#00ff0e 83.3%,#0cff00 90%,#57ff00 100%)"></i><i style="left:458px;width:3px;background:linear-gradient(#00ffba 0%,#00fff4 10.7%,#00f3ff 13.3%,#00fff4 20%,#0f9 28.7%,#00ff69 36%,#00ff3d 50%,#00ff05 80%,#36ff00 92%,#73ff00 100%)"></i><i style="left:460px;width:3px;background:linear-gradient(#00ffa6 0%,#00ffdc 10.7%,#00fff5 13.3%,#00ffdf 20%,#00ff84 28.7%,#00ff54 36%,#00ff2a 49.3%,#08ff00 74%,#42ff00 88%,#9dff00 100%)"></i><i style="left:462px;width:3px;background:linear-gradient(#0f9 0%,#00ffcf 10.7%,#00ffed 13.3%,#00ffca 20.7%,#0f7 28.7%,#00ff47 36%,#00ff1b 50%,#07ff00 68.7%,#4f0 84%,#81ff00 93.3%,#b7ff00 100%)"></i><i style="left:464px;width:3px;background:linear-gradient(#00ff79 0%,#00ffac 10%,#00ffd4 13.3%,#00ffbf 17.3%,#00ffa1 21.3%,#00ff47 30.7%,#00ff09 43.3%,#1dff00 64%,#6bff00 82%,#caff00 94.7%,#f7ff00 100%)"></i><i style="left:466px;width:3px;background:linear-gradient(#00ff72 0%,#00ffa1 9.3%,#00ffc9 12.7%,#00ffab 20%,#00ff50 28.7%,#00ff20 36%,#03ff00 46%,#36ff00 69.3%,#84ff00 84%,#e4ff00 96%,#fff900 100%)"></i><i style="left:468px;width:3px;background:linear-gradient(#00ff86 0%,#00ffb9 9.3%,#00ffd6 12%,#00ffc9 18.7%,#00ff5a 30%,#00ff30 37.3%,#00ff06 51.3%,#1eff00 69.3%,#62ff00 84%,#b0ff00 94.7%,#dcff00 100%)"></i><i style="left:470px;width:3px;background:linear-gradient(#00ff7c 0%,#00ffab 8.7%,#00ffcb 11.3%,#00ffc5 15.3%,#00ffc5 18.7%,#00ff4f 30%,#00ff1f 38.7%,#03ff00 50.7%,#2dff00 70%,#74ff00 84%,#bfff00 94%,#f1ff00 100%)"></i><i style="left:472px;width:3px;background:linear-gradient(#00ff70 0%,#00ff9c 8%,#00ffc7 11.3%,#00ffb8 14%,#00ffc8 18.7%,#00ff54 28%,#00ff1f 36%,#03ff00 45.3%,#37ff00 69.3%,#8bff00 84.7%,#fffa00 99.3%,#fff600 100%)"></i><i style="left:474px;width:3px;background:linear-gradient(#00ff92 0%,#00ffc2 8%,#00ffeb 10.7%,#00ffde 14.7%,#00fff7 18.7%,#00ffe0 20.7%,#00ff91 25.3%,#00ff46 34.7%,#00ff16 49.3%,#08ff00 66.7%,#4fff00 84%,#93ff00 94%,#c4ff00 100%)"></i><i style="left:476px;width:3px;background:linear-gradient(#00ffb0 0%,#00ffe1 8%,#00feff 10%,#00fcff 14.7%,#00e5ff 19.3%,#00fff5 21.3%,#00ffaf 25.3%,#00ff64 34.7%,#00ff34 49.3%,#07ff00 78.7%,#49ff00 92%,#8f0 100%)"></i><i style="left:478px;width:3px;background:linear-gradient(#0fb 0%,#00ffe9 8%,#00faff 10.7%,#00f7ff 14.7%,#00d9ff 18.7%,#00deff 20%,#00fdff 21.3%,#00ffb9 25.3%,#00ff6f 34.7%,#00ff40 48.7%,#00ff02 80.7%,#35ff00 92%,#73ff00 100%)"></i><i style="left:480px;width:3px;background:linear-gradient(#00ffc8 0%,#00f9ff 10.7%,#00e9ff 14.7%,#00d3ff 16.7%,#00d0ff 20%,#00fcff 22%,#00ffbe 26%,#00ff79 35.3%,#00ff4b 50%,#00ff0d 83.3%,#0dff00 90%,#58ff00 100%)"></i><i style="left:482px;width:3px;background:linear-gradient(#00ffc3 0%,#00fffc 10.7%,#00edff 14%,#00cdff 16%,#00d3ff 20%,#00feff 22%,#00ffb9 26%,#00ff75 35.3%,#00ff47 49.3%,#00ff0a 82%,#13ff00 89.3%,#62ff00 100%)"></i><i style="left:484px;width:3px;background:linear-gradient(#00ffad 0%,#00fff7 12.7%,#00d6ff 15.3%,#00e3ff 19.3%,#00fff7 21.3%,#00ffab 25.3%,#00ff61 34.7%,#0f3 48.7%,#06ff00 76.7%,#49ff00 91.3%,#8eff00 100%)"></i><i style="left:486px;width:3px;background:linear-gradient(#00ffa5 0%,#00ffd9 9.3%,#0ff 12.7%,#00daff 14.7%,#00e8ff 18%,#00fffe 20%,#00ffa1 25.3%,#00ff56 35.3%,#00ff2a 48.7%,#06ff00 72.7%,#3dff00 86.7%,#9fff00 100%)"></i><i style="left:488px;width:3px;background:linear-gradient(#00ff9e 0%,#00ffcf 9.3%,#00f7ff 13.3%,#00ecff 15.3%,#00fff6 18%,#00ff87 27.3%,#00ff4d 36%,#00ff21 50%,#07ff00 70.7%,#41ff00 85.3%,#81ff00 94.7%,#acff00 100%)"></i><i style="left:490px;width:3px;background:linear-gradient(#00ffa4 0%,#00ffda 10%,#00fff9 14.7%,#00ffd5 20.7%,#00ff82 28.7%,#00ff52 36%,#00ff26 50%,#07ff00 72.7%,#3fff00 86.7%,#a1ff00 100%)"></i><i style="left:492px;width:3px;background:linear-gradient(#00ffb7 0%,#00feff 14.7%,#00fff0 20%,#00ff9b 28%,#0f6 36%,#00ff3b 49.3%,#06ff00 81.3%,#41ff00 92.7%,#7aff00 100%)"></i><i style="left:494px;width:3px;background:linear-gradient(#00ffbe 0%,#00f8ff 14%,#00fff7 20%,#00ff9c 28.7%,#00ff6a 36.7%,#00ff42 49.3%,#00ff04 81.3%,#2fff00 92%,#6dff00 100%)"></i><i style="left:496px;width:3px;background:linear-gradient(#00ffc3 0%,#00f9ff 12.7%,#00f7ff 18%,#00fff4 20.7%,#00ff9c 29.3%,#00ff6c 37.3%,#00ff42 52%,#00ff08 82.7%,#1bff00 90.7%,#62ff00 100%)"></i><i style="left:498px;width:3px;background:linear-gradient(#00ffcf 0%,#00faff 10.7%,#00e6ff 16%,#00fff7 21.3%,#00ffa2 30%,#00ff78 37.3%,#00ff50 50.7%,#00ff15 84%,#06ff00 90.7%,#4bff00 100%)"></i><i style="left:500px;width:3px;background:linear-gradient(#00ffcd 0%,#00f8ff 11.3%,#00e8ff 16%,#00fffe 20.7%,#00ffab 28.7%,#00ff79 36.7%,#00ff51 49.3%,#00ff15 83.3%,#09ff00 90.7%,#4fff00 100%)"></i><i style="left:502px;width:3px;background:linear-gradient(#00ffbd 0%,#00f9ff 14%,#00fff7 20%,#00ff9c 28.7%,#00ff6c 36%,#00ff40 50%,#00ff04 81.3%,#30ff00 92%,#6eff00 100%)"></i><i style="left:504px;width:3px;background:linear-gradient(#00ffb4 0%,#00fffe 15.3%,#00ffe5 20.7%,#00ff8d 29.3%,#00ff5d 37.3%,#00ff31 52.7%,#00ff02 77.3%,#42ff00 92%,#80ff00 100%)"></i><i style="left:506px;width:3px;background:linear-gradient(#00ffa5 0%,#0fe 14.7%,#00ffeb 18%,#00ffbd 22.7%,#00ff5f 33.3%,#00ff2c 48%,#07ff00 73.3%,#3dff00 86.7%,#84ff00 96.7%,#9eff00 100%)"></i><i style="left:508px;width:3px;background:linear-gradient(#00ff94 0%,#00ffea 15.3%,#00fffa 17.3%,#00ffda 20%,#00ffac 22.7%,#00ff4e 33.3%,#00ff1b 48%,#08ff00 67.3%,#4bff00 84%,#8fff00 94%,#c0ff00 100%)"></i><i style="left:510px;width:3px;background:linear-gradient(#00ffa1 0%,#00ffd3 9.3%,#00ffe7 12%,#00fff4 14.7%,#00f4ff 16%,#00e9ff 18%,#00fff8 20%,#00ffb8 22.7%,#00ff57 34%,#00ff26 48.7%,#07ff00 71.3%,#3aff00 84.7%,#7f0 94%,#a7ff00 100%)"></i><i style="left:512px;width:3px;background:linear-gradient(#00ffc5 0%,#00f9ff 10%,#00e4ff 12.7%,#00d4ff 16%,#00c8ff 18.7%,#00edff 20.7%,#0ff 21.3%,#00ffc6 24.7%,#00ff76 35.3%,#00ff4a 48.7%,#00ff0a 82.7%,#13ff00 90%,#5fff00 100%)"></i><i style="left:514px;width:3px;background:linear-gradient(#00ffce 0%,#00f8ff 9.3%,#00cdff 12.7%,#00d5ff 16.7%,#00caff 19.3%,#00fffd 22%,#00ffc3 26%,#00ff7c 36%,#00ff52 49.3%,#00ff14 84%,#07ff00 90.7%,#4dff00 100%)"></i><i style="left:516px;width:3px;background:linear-gradient(#00ffbc 0%,#00fdff 10.7%,#00deff 12.7%,#00efff 16.7%,#00e2ff 19.3%,#00fff6 21.3%,#00ffb1 26%,#00ff6a 36%,#00ff40 49.3%,#00ff04 80.7%,#3f0 92%,#71ff00 100%)"></i><i style="left:518px;width:3px;background:linear-gradient(#00ffa7 0%,#00ffde 10.7%,#00fdff 12.7%,#00f2ff 14.7%,#00fff8 20%,#00ffa2 25.3%,#00ff58 35.3%,#00ff2c 48.7%,#07ff00 74%,#4f0 88.7%,#9bff00 100%)"></i><i style="left:520px;width:3px;background:linear-gradient(#00ffa5 0%,#00ffe5 12%,#00f6ff 13.3%,#00deff 15.3%,#00fffe 19.3%,#00ffa7 24.7%,#00ff57 35.3%,#00ff29 49.3%,#07ff00 73.3%,#3dff00 86.7%,#89ff00 97.3%,#9eff00 100%)"></i><i style="left:522px;width:3px;background:linear-gradient(#00ffbd 0%,#00fffa 12%,#00b9ff 14.7%,#00c5ff 16.7%,#00fffc 20.7%,#00ffbe 24.7%,#00ff6e 35.3%,#00ff42 48.7%,#00ff03 81.3%,#31ff00 92%,#6fff00 100%)"></i><i style="left:524px;width:3px;background:linear-gradient(#00ffbe 0%,#00feff 12%,#00c4ff 14%,#00bcff 15.3%,#00fff8 20.7%,#00ffc7 24%,#00ff72 34.7%,#00ff42 49.3%,#00ff08 80.7%,#20ff00 90%,#6cff00 100%)"></i><i style="left:526px;width:3px;background:linear-gradient(#00ffa5 0%,#00ffde 11.3%,#00f9ff 13.3%,#00f1ff 15.3%,#00ffef 19.3%,#00ffa0 25.3%,#00ff57 35.3%,#00ff29 49.3%,#07ff00 73.3%,#3dff00 86.7%,#89ff00 97.3%,#9eff00 100%)"></i><i style="left:528px;width:3px;background:linear-gradient(#00ff8c 0%,#00ffc6 11.3%,#00ffd8 14%,#00ffd5 19.3%,#00ff87 25.3%,#00ff3d 35.3%,#0f1 48.7%,#0aff00 64.7%,#5f0 83.3%,#9fff00 94%,#d1ff00 100%)"></i><i style="left:530px;width:2px;background:linear-gradient(#00ff89 0%,#00ffc7 11.3%,#00ffd0 17.3%,#00ffd0 20%,#00ff8d 24.7%,#00ff3d 34.7%,#00ff0d 49.3%,#0dff00 64.7%,#56ff00 82.7%,#9fff00 93.3%,#d6ff00 100%)"></i></div>
<div class="hm" style="left:90px;top:563px;width:540px;height:450px"><i style="left:0px;width:9px;background:linear-gradient(#002eff 0%,#0037ff 26%,#0041ff 81.3%,#004dff 100%)"></i><i style="left:8px;width:3px;background:linear-gradient(#0031ff 0%,#0036ff 25.3%,#0041ff 81.3%,#0054ff 96.7%,#0051ff 100%)"></i><i style="left:10px;width:3px;background:linear-gradient(#0037ff 0%,#0032ff 14%,#003dff 35.3%,#0036ff 55.3%,#0050ff 86.7%,#0059ff 97.3%,#0056ff 100%)"></i><i style="left:12px;width:3px;background:linear-gradient(#0039ff 0%,#0036ff 18%,#0040ff 34.7%,#0039ff 55.3%,#0053ff 86.7%,#005cff 97.3%,#0059ff 100%)"></i><i style="left:14px;width:3px;background:linear-gradient(#003aff 0%,#003aff 22.7%,#0042ff 34.7%,#0038ff 54%,#0054ff 86.7%,#005dff 97.3%,#005aff 100%)"></i><i style="left:16px;width:3px;background:linear-gradient(#0038ff 0%,#0039ff 23.3%,#0040ff 34.7%,#0036ff 54%,#0052ff 86.7%,#005bff 97.3%,#0057ff 100%)"></i><i style="left:18px;width:3px;background:linear-gradient(#0036ff 0%,#003aff 24.7%,#003dff 34.7%,#0036ff 53.3%,#0041ff 71.3%,#0051ff 87.3%,#0058ff 97.3%,#05f 100%)"></i><i style="left:20px;width:3px;background:linear-gradient(#0041ff 0%,#0047ff 25.3%,#0047ff 35.3%,#04f 55.3%,#004dff 71.3%,#005dff 87.3%,#0063ff 98%,#0061ff 100%)"></i><i style="left:22px;width:3px;background:linear-gradient(#0040ff 0%,#0046ff 25.3%,#0047ff 34.7%,#003fff 53.3%,#04f 62.7%,#005bff 87.3%,#0061ff 98%,#005fff 100%)"></i><i style="left:24px;width:3px;background:linear-gradient(#0034ff 0%,#003aff 25.3%,#003bff 34.7%,#0036ff 54%,#004dff 86.7%,#05f 98%,#0053ff 100%)"></i><i style="left:26px;width:3px;background:linear-gradient(#0034ff 0%,#003aff 25.3%,#003aff 34.7%,#003aff 56%,#0041ff 72%,#0051ff 88.7%,#0053ff 100%)"></i><i style="left:28px;width:15px;background:linear-gradient(#002eff 0%,#0037ff 26%,#0041ff 81.3%,#004dff 100%)"></i><i style="left:42px;width:3px;background:linear-gradient(#002eff 0%,#0035ff 14.7%,#0035ff 24.7%,#0035ff 36%,#0040ff 70.7%,#004dff 100%)"></i><i style="left:44px;width:3px;background:linear-gradient(#002eff 0%,#0031ff 14.7%,#0043ff 84.7%,#004dff 100%)"></i><i style="left:46px;width:9px;background:linear-gradient(#002eff 0%,#0037ff 26%,#0041ff 81.3%,#004dff 100%)"></i><i style="left:54px;width:3px;background:linear-gradient(#0034ff 0%,#0036ff 14.7%,#0034ff 23.3%,#0040ff 30%,#03f 42%,#003fff 66%,#0042ff 76.7%,#0051ff 100%)"></i><i style="left:56px;width:3px;background:linear-gradient(#0043ff 0%,#04f 15.3%,#04f 23.3%,#004dff 30.7%,#003eff 43.3%,#0053ff 68%,#005cff 97.3%,#0061ff 100%)"></i><i style="left:58px;width:3px;background:linear-gradient(#0042ff 0%,#0041ff 16%,#0045ff 24%,#004aff 31.3%,#003dff 46%,#0051ff 74.7%,#005fff 99.3%,#0060ff 100%)"></i><i style="left:60px;width:3px;background:linear-gradient(#0035ff 0%,#0031ff 18%,#003fff 30.7%,#0034ff 45.3%,#0049ff 92%,#0054ff 100%)"></i><i style="left:62px;width:3px;background:linear-gradient(#002eff 0%,#0037ff 26%,#0041ff 81.3%,#004dff 100%)"></i><i style="left:64px;width:3px;background:linear-gradient(#0030ff 0%,#0036ff 25.3%,#0041ff 80%,#004fff 100%)"></i><i style="left:66px;width:3px;background:linear-gradient(#003bff 0%,#003cff 24%,#003fff 33.3%,#003dff 51.3%,#005aff 100%)"></i><i style="left:68px;width:3px;background:linear-gradient(#0042ff 0%,#0043ff 24%,#0043ff 36.7%,#0047ff 52%,#0061ff 100%)"></i><i style="left:70px;width:3px;background:linear-gradient(#0040ff 0%,#0041ff 24%,#0041ff 37.3%,#0046ff 52%,#005fff 100%)"></i><i style="left:72px;width:3px;background:linear-gradient(#0040ff 0%,#003fff 23.3%,#0043ff 36.7%,#0046ff 52%,#005fff 100%)"></i><i style="left:74px;width:3px;background:linear-gradient(#0042ff 0%,#0042ff 24%,#0048ff 52%,#0054ff 78%,#0061ff 100%)"></i><i style="left:76px;width:3px;background:linear-gradient(#0039ff 0%,#0039ff 24.7%,#0040ff 52.7%,#0048ff 75.3%,#0058ff 100%)"></i><i style="left:78px;width:7px;background:linear-gradient(#002eff 0%,#0037ff 26%,#0041ff 81.3%,#004dff 100%)"></i><i style="left:84px;width:3px;background:linear-gradient(#0035ff 0%,#0035ff 24.7%,#0040ff 72%,#004dff 82.7%,#004aff 93.3%,#0054ff 100%)"></i><i style="left:86px;width:3px;background:linear-gradient(#0034ff 0%,#0035ff 24.7%,#003fff 72%,#004cff 82.7%,#004bff 94.7%,#0053ff 100%)"></i><i style="left:88px;width:3px;background:linear-gradient(#002fff 0%,#0036ff 25.3%,#0040ff 74%,#0047ff 83.3%,#004eff 100%)"></i><i style="left:90px;width:5px;background:linear-gradient(#002eff 0%,#0037ff 26%,#0041ff 81.3%,#004dff 100%)"></i><i style="left:94px;width:3px;background:linear-gradient(#002eff 0%,#0037ff 26%,#003fff 75.3%,#004dff 100%)"></i><i style="left:96px;width:3px;background:linear-gradient(#003aff 0%,#003aff 58.7%,#0042ff 70.7%,#0054ff 82.7%,#004dff 93.3%,#0058ff 100%)"></i><i style="left:98px;width:3px;background:linear-gradient(#003aff 0%,#003eff 19.3%,#0038ff 61.3%,#0051ff 76.7%,#004cff 87.3%,#0058ff 100%)"></i><i style="left:100px;width:3px;background:linear-gradient(#0030ff 0%,#0036ff 19.3%,#003eff 73.3%,#0049ff 84%,#004eff 100%)"></i><i style="left:102px;width:3px;background:linear-gradient(#002eff 0%,#0034ff 19.3%,#003fff 75.3%,#004dff 100%)"></i><i style="left:104px;width:3px;background:linear-gradient(#002eff 0%,#03f 19.3%,#0041ff 78%,#004dff 100%)"></i><i style="left:106px;width:3px;background:linear-gradient(#002eff 0%,#0042ff 82%,#004dff 100%)"></i><i style="left:108px;width:3px;background:linear-gradient(#002eff 0%,#0037ff 26%,#0041ff 81.3%,#004dff 100%)"></i><i style="left:110px;width:7px;background:linear-gradient(#002eff 0%,#0043ff 84.7%,#004dff 100%)"></i><i style="left:116px;width:17px;background:linear-gradient(#002eff 0%,#0037ff 26%,#0041ff 81.3%,#004dff 100%)"></i><i style="left:132px;width:3px;background:linear-gradient(#002eff 0%,#0037ff 26%,#003cff 56.7%,#0045ff 84.7%,#004dff 100%)"></i><i style="left:134px;width:3px;background:linear-gradient(#0031ff 0%,#0038ff 24.7%,#0037ff 37.3%,#0042ff 56%,#0041ff 80.7%,#0052ff 97.3%,#0050ff 100%)"></i><i style="left:136px;width:3px;background:linear-gradient(#0031ff 0%,#0038ff 25.3%,#0037ff 37.3%,#0040ff 54%,#0043ff 82%,#0052ff 98.7%,#0051ff 100%)"></i><i style="left:138px;width:3px;background:linear-gradient(#003fff 0%,#03f 10.7%,#0047ff 35.3%,#0041ff 45.3%,#004eff 63.3%,#004bff 80%,#0060ff 98.7%,#005fff 100%)"></i><i style="left:140px;width:3px;background:linear-gradient(#0043ff 0%,#0037ff 11.3%,#0049ff 36%,#04f 45.3%,#0051ff 62%,#004eff 80%,#0063ff 99.3%,#0062ff 100%)"></i><i style="left:142px;width:3px;background:linear-gradient(#002eff 0%,#0037ff 26%,#003cff 54.7%,#0043ff 84.7%,#004eff 100%)"></i><i style="left:144px;width:7px;background:linear-gradient(#002eff 0%,#0037ff 26%,#0041ff 81.3%,#004dff 100%)"></i><i style="left:150px;width:3px;background:linear-gradient(#003dff 0%,#0030ff 11.3%,#003cff 36%,#0039ff 46.7%,#0046ff 59.3%,#003fff 70.7%,#005cff 100%)"></i><i style="left:152px;width:3px;background:linear-gradient(#003dff 0%,#0032ff 12%,#003aff 36.7%,#003aff 48%,#04f 60%,#003eff 70%,#005cff 100%)"></i><i style="left:154px;width:3px;background:linear-gradient(#0035ff 0%,#0035ff 24.7%,#003dff 55.3%,#0040ff 80%,#0054ff 100%)"></i><i style="left:156px;width:7px;background:linear-gradient(#002eff 0%,#0037ff 26%,#0041ff 81.3%,#004dff 100%)"></i><i style="left:162px;width:5px;background:linear-gradient(#002eff 0%,#0037ff 26%,#0041ff 80.7%,#004dff 100%)"></i><i style="left:166px;width:3px;background:linear-gradient(#0034ff 0%,#0035ff 24.7%,#0042ff 82%,#0052ff 100%)"></i><i style="left:168px;width:3px;background:linear-gradient(#0037ff 0%,#0034ff 24%,#0042ff 79.3%,#05f 100%)"></i><i style="left:170px;width:3px;background:linear-gradient(#0036ff 0%,#0034ff 24%,#0042ff 78.7%,#05f 100%)"></i><i style="left:172px;width:3px;background:linear-gradient(#0035ff 0%,#0035ff 24.7%,#0042ff 78.7%,#0053ff 100%)"></i><i style="left:174px;width:3px;background:linear-gradient(#0039ff 0%,#03f 23.3%,#003cff 48.7%,#0040ff 74%,#0056ff 99.3%,#0057ff 100%)"></i><i style="left:176px;width:3px;background:linear-gradient(#0031ff 0%,#0036ff 25.3%,#0042ff 80%,#0050ff 100%)"></i><i style="left:178px;width:3px;background:linear-gradient(#002eff 0%,#0037ff 26%,#0041ff 78.7%,#0050ff 100%)"></i><i style="left:180px;width:3px;background:linear-gradient(#002eff 0%,#0037ff 26%,#0041ff 78%,#0050ff 100%)"></i><i style="left:182px;width:3px;background:linear-gradient(#002eff 0%,#0037ff 26%,#0041ff 77.3%,#0051ff 100%)"></i><i style="left:184px;width:3px;background:linear-gradient(#0036ff 0%,#0031ff 14.7%,#003bff 45.3%,#0042ff 53.3%,#0039ff 63.3%,#0054ff 100%)"></i><i style="left:186px;width:3px;background:linear-gradient(#0039ff 0%,#0037ff 13.3%,#0032ff 22.7%,#003dff 44.7%,#0046ff 53.3%,#0039ff 62%,#004bff 84.7%,#0057ff 100%)"></i><i style="left:188px;width:3px;background:linear-gradient(#0037ff 0%,#0037ff 12.7%,#0031ff 22%,#003aff 44%,#0046ff 52.7%,#003aff 62%,#05f 100%)"></i><i style="left:190px;width:3px;background:linear-gradient(#0038ff 0%,#0037ff 12.7%,#0031ff 22%,#003cff 44%,#0045ff 53.3%,#003aff 62%,#0056ff 100%)"></i><i style="left:192px;width:3px;background:linear-gradient(#003bff 0%,#003bff 12.7%,#0030ff 21.3%,#0039ff 37.3%,#0048ff 54%,#003bff 62.7%,#004cff 83.3%,#0059ff 100%)"></i><i style="left:194px;width:3px;background:linear-gradient(#0037ff 0%,#0037ff 12.7%,#0031ff 22%,#003eff 44.7%,#0043ff 54.7%,#003dff 64.7%,#0057ff 100%)"></i><i style="left:196px;width:3px;background:linear-gradient(#002eff 0%,#0037ff 26%,#0047ff 78%,#0059ff 100%)"></i><i style="left:198px;width:3px;background:linear-gradient(#002eff 0%,#0037ff 25.3%,#0047ff 76.7%,#005bff 100%)"></i><i style="left:200px;width:3px;background:linear-gradient(#002fff 0%,#0038ff 26%,#0047ff 74.7%,#005dff 100%)"></i><i style="left:202px;width:3px;background:linear-gradient(#002fff 0%,#0038ff 26%,#0048ff 74%,#005fff 100%)"></i><i style="left:204px;width:3px;background:linear-gradient(#002fff 0%,#0038ff 26%,#004bff 75.3%,#0061ff 100%)"></i><i style="left:206px;width:3px;background:linear-gradient(#002fff 0%,#0037ff 24.7%,#0051ff 80%,#0064ff 100%)"></i><i style="left:208px;width:3px;background:linear-gradient(#002fff 0%,#0039ff 26%,#004fff 75.3%,#06f 100%)"></i><i style="left:210px;width:3px;background:linear-gradient(#0030ff 0%,#0039ff 26%,#0056ff 80%,#006aff 100%)"></i><i style="left:212px;width:3px;background:linear-gradient(#0036ff 0%,#0036ff 14%,#0038ff 24.7%,#0049ff 51.3%,#005cff 83.3%,#006dff 100%)"></i><i style="left:214px;width:3px;background:linear-gradient(#0043ff 0%,#0042ff 14.7%,#003fff 22.7%,#0049ff 32%,#0059ff 52%,#0050ff 59.3%,#0060ff 84%,#0070ff 100%)"></i><i style="left:216px;width:3px;background:linear-gradient(#0041ff 0%,#003fff 15.3%,#003fff 23.3%,#0047ff 32.7%,#0057ff 57.3%,#004fff 64%,#0074ff 100%)"></i><i style="left:218px;width:3px;background:linear-gradient(#0039ff 0%,#0038ff 14.7%,#003aff 24%,#0050ff 50.7%,#0065ff 82%,#0078ff 100%)"></i><i style="left:220px;width:3px;background:linear-gradient(#03f 0%,#003bff 24%,#0073ff 91.3%,#007dff 100%)"></i><i style="left:222px;width:3px;background:linear-gradient(#03f 0%,#003dff 24.7%,#007aff 93.3%,#0081ff 100%)"></i><i style="left:224px;width:3px;background:linear-gradient(#0034ff 0%,#003eff 24%,#0082ff 96%,#0086ff 100%)"></i><i style="left:226px;width:3px;background:linear-gradient(#0035ff 0%,#003eff 22.7%,#008bff 100%)"></i><i style="left:228px;width:3px;background:linear-gradient(#0036ff 0%,#003eff 22%,#0091ff 100%)"></i><i style="left:230px;width:3px;background:linear-gradient(#0037ff 0%,#0040ff 22%,#0096ff 100%)"></i><i style="left:232px;width:3px;background:linear-gradient(#0038ff 0%,#0042ff 22%,#009cff 100%)"></i><i style="left:234px;width:3px;background:linear-gradient(#0039ff 0%,#0043ff 21.3%,#00a2ff 100%)"></i><i style="left:236px;width:3px;background:linear-gradient(#003bff 0%,#04f 20.7%,#00a8ff 100%)"></i><i style="left:238px;width:3px;background:linear-gradient(#003cff 0%,#0046ff 20.7%,#0081ff 64%,#00afff 100%)"></i><i style="left:240px;width:3px;background:linear-gradient(#003eff 0%,#0049ff 20.7%,#0082ff 58.7%,#00b5ff 100%)"></i><i style="left:242px;width:3px;background:linear-gradient(#003fff 0%,#004aff 20%,#0076ff 43.3%,#0bf 100%)"></i><i style="left:244px;width:3px;background:linear-gradient(#0041ff 0%,#004dff 20%,#0075ff 38.7%,#00c2ff 100%)"></i><i style="left:246px;width:3px;background:linear-gradient(#0043ff 0%,#004eff 19.3%,#0065ff 28%,#09f 64%,#00c8ff 100%)"></i><i style="left:248px;width:3px;background:linear-gradient(#0045ff 0%,#0051ff 19.3%,#006aff 28%,#009eff 62.7%,#00ceff 100%)"></i><i style="left:250px;width:3px;background:linear-gradient(#0046ff 0%,#0052ff 18.7%,#0070ff 28%,#009fff 57.3%,#00d4ff 100%)"></i><i style="left:252px;width:3px;background:linear-gradient(#0048ff 0%,#05f 18.7%,#0076ff 28%,#00a3ff 56%,#00daff 100%)"></i><i style="left:254px;width:3px;background:linear-gradient(#0052ff 0%,#005bff 19.3%,#007cff 28%,#00a9ff 55.3%,#0cf 80%,#00fff7 91.3%,#0fc 100%)"></i><i style="left:256px;width:3px;background:linear-gradient(#004cff 0%,#0058ff 18%,#0082ff 28%,#00acff 52.7%,#00c3ff 71.3%,#00fff7 83.3%,#00ffa2 100%)"></i><i style="left:258px;width:3px;background:linear-gradient(#004eff 0%,#005bff 18%,#08f 28%,#00b4ff 55.3%,#00c7ff 68%,#00fff9 78%,#00ff8a 100%)"></i><i style="left:260px;width:3px;background:linear-gradient(#004fff 0%,#005dff 18%,#008eff 28%,#00b7ff 53.3%,#00c5ff 60%,#00fff8 70%,#00ff82 92%,#00ff63 100%)"></i><i style="left:262px;width:3px;background:linear-gradient(#0051ff 0%,#0060ff 18%,#0094ff 28%,#00bfff 52.7%,#00fffb 62%,#00ff7b 84.7%,#00ff43 100%)"></i><i style="left:264px;width:3px;background:linear-gradient(#0052ff 0%,#0062ff 18%,#09f 28%,#00c3ff 49.3%,#00fffe 56.7%,#00ff7a 80%,#00ff34 100%)"></i><i style="left:266px;width:3px;background:linear-gradient(#0053ff 0%,#0064ff 18%,#009eff 28%,#00bdff 42.7%,#00fff7 52%,#00ff98 67.3%,#00ff35 90.7%,#00ff1c 100%)"></i><i style="left:268px;width:3px;background:linear-gradient(#0054ff 0%,#0065ff 18%,#00a2ff 28%,#00b8ff 36%,#00fffd 46%,#00ff7e 67.3%,#00ff21 90.7%,#00ff0b 100%)"></i><i style="left:270px;width:3px;background:linear-gradient(#05f 0%,#0067ff 18%,#00a5ff 28%,#00b6ff 33.3%,#00fffb 46.7%,#00ff82 68.7%,#00ff2d 91.3%,#00ff19 100%)"></i><i style="left:272px;width:3px;background:linear-gradient(#0056ff 0%,#0068ff 18%,#00a8ff 28%,#00c5ff 36.7%,#00fff8 50.7%,#0f9 68%,#0f4 90.7%,#00ff2f 100%)"></i><i style="left:274px;width:3px;background:linear-gradient(#0056ff 0%,#0069ff 18%,#0af 28%,#00beff 32.7%,#00fffa 48%,#00ff83 70.7%,#00ff36 92.7%,#00ff26 100%)"></i><i style="left:276px;width:3px;background:linear-gradient(#0057ff 0%,#0069ff 18%,#00abff 28%,#00e3ff 34.7%,#00fff7 42.7%,#00ffb1 56.7%,#00ff36 84%,#00ff0e 100%)"></i><i style="left:278px;width:3px;background:linear-gradient(#0057ff 0%,#0069ff 18%,#00b1ff 28%,#00e7ff 34%,#00fff5 41.3%,#00ffb5 54.7%,#00ff43 78.7%,#00ff09 98.7%,#00ff06 100%)"></i><i style="left:280px;width:3px;background:linear-gradient(#0056ff 0%,#0069ff 18%,#00a9ff 27.3%,#0cf 29.3%,#00fbff 36%,#00ffae 54%,#00ff3d 77.3%,#00ff01 97.3%,#05ff00 100%)"></i><i style="left:282px;width:3px;background:linear-gradient(#0056ff 0%,#0068ff 18%,#00aeff 28%,#00f2ff 32.7%,#00fff5 36.7%,#00ff94 56%,#00ff1f 81.3%,#05ff00 93.3%,#14ff00 100%)"></i><i style="left:284px;width:3px;background:linear-gradient(#05f 0%,#0067ff 18%,#00a6ff 28%,#00abff 30.7%,#0df 34%,#00fff9 40.7%,#00ff91 59.3%,#00ff19 87.3%,#04ff00 100%)"></i><i style="left:286px;width:3px;background:linear-gradient(#05f 0%,#06f 18%,#00a3ff 28%,#0bf 36%,#00fffb 46.7%,#00ff82 67.3%,#00ff24 91.3%,#00ff0f 100%)"></i><i style="left:288px;width:3px;background:linear-gradient(#0054ff 0%,#0064ff 18%,#009fff 28%,#0bf 39.3%,#00fffd 48%,#00ff8f 64.7%,#00ff25 88.7%,#00ff07 100%)"></i><i style="left:290px;width:3px;background:linear-gradient(#0052ff 0%,#0062ff 18%,#009aff 28%,#00bdff 43.3%,#00fff7 51.3%,#00ff93 66%,#00ff24 90%,#00ff07 100%)"></i><i style="left:292px;width:3px;background:linear-gradient(#0051ff 0%,#0060ff 18%,#0095ff 28%,#00bfff 50%,#00fffe 57.3%,#00ff6d 82%,#00ff2a 100%)"></i><i style="left:294px;width:3px;background:linear-gradient(#0050ff 0%,#005eff 18%,#008fff 28%,#00bfff 53.3%,#00fffa 63.3%,#00ff70 86.7%,#00ff3c 100%)"></i><i style="left:296px;width:3px;background:linear-gradient(#004eff 0%,#005bff 18%,#008aff 28%,#00b3ff 53.3%,#00c2ff 62%,#00fffa 72%,#00ff7d 95.3%,#00ff6a 100%)"></i><i style="left:298px;width:3px;background:linear-gradient(#004cff 0%,#0059ff 18%,#0084ff 28%,#00afff 54.7%,#00cfff 78%,#00fffa 87.3%,#00ffbc 100%)"></i><i style="left:300px;width:3px;background:linear-gradient(#004aff 0%,#0059ff 18.7%,#007dff 28%,#00a8ff 53.3%,#00dcff 92.7%,#00fffe 100%)"></i><i style="left:302px;width:3px;background:linear-gradient(#0049ff 0%,#0056ff 18.7%,#07f 28%,#00a5ff 56%,#00dbff 100%)"></i><i style="left:304px;width:3px;background:linear-gradient(#0047ff 0%,#0053ff 18.7%,#0071ff 28%,#009fff 56%,#00d5ff 100%)"></i><i style="left:306px;width:3px;background:linear-gradient(#0045ff 0%,#0050ff 18.7%,#006bff 28%,#009aff 57.3%,#00cfff 100%)"></i><i style="left:308px;width:3px;background:linear-gradient(#0043ff 0%,#004fff 19.3%,#06f 28%,#009bff 64.7%,#00c9ff 100%)"></i><i style="left:310px;width:3px;background:linear-gradient(#0041ff 0%,#004eff 20%,#0078ff 40%,#00c3ff 100%)"></i><i style="left:312px;width:3px;background:linear-gradient(#0040ff 0%,#004aff 20%,#0072ff 40%,#00bcff 100%)"></i><i style="left:314px;width:3px;background:linear-gradient(#003eff 0%,#0048ff 20%,#0080ff 55.3%,#00b6ff 100%)"></i><i style="left:316px;width:3px;background:linear-gradient(#003cff 0%,#0047ff 20.7%,#0082ff 64%,#00b0ff 100%)"></i><i style="left:318px;width:3px;background:linear-gradient(#003bff 0%,#0046ff 21.3%,#00a9ff 100%)"></i><i style="left:320px;width:3px;background:linear-gradient(#0039ff 0%,#0043ff 21.3%,#00a3ff 100%)"></i><i style="left:322px;width:3px;background:linear-gradient(#0038ff 0%,#005aff 42%,#009cff 100%)"></i><i style="left:324px;width:3px;background:linear-gradient(#0042ff 0%,#0051ff 30%,#0075ff 73.3%,#0095ff 100%)"></i><i style="left:326px;width:3px;background:linear-gradient(#0047ff 0%,#0051ff 18.7%,#0056ff 30%,#0056ff 46.7%,#008fff 100%)"></i><i style="left:328px;width:3px;background:linear-gradient(#004bff 0%,#0054ff 18.7%,#0058ff 30%,#0058ff 46.7%,#007fff 92%,#08f 100%)"></i><i style="left:330px;width:3px;background:linear-gradient(#004aff 0%,#0052ff 19.3%,#0058ff 29.3%,#0052ff 43.3%,#0062ff 67.3%,#0082ff 100%)"></i><i style="left:332px;width:3px;background:linear-gradient(#0040ff 0%,#0046ff 18%,#004bff 29.3%,#0047ff 44%,#007bff 100%)"></i><i style="left:334px;width:3px;background:linear-gradient(#0036ff 0%,#0043ff 26%,#0043ff 44%,#0075ff 100%)"></i><i style="left:336px;width:3px;background:linear-gradient(#0031ff 0%,#003bff 25.3%,#005fff 84%,#006fff 100%)"></i><i style="left:338px;width:3px;background:linear-gradient(#0030ff 0%,#04f 54%,#006aff 100%)"></i><i style="left:340px;width:3px;background:linear-gradient(#0030ff 0%,#04f 62%,#0064ff 100%)"></i><i style="left:342px;width:3px;background:linear-gradient(#002fff 0%,#0048ff 74%,#005fff 100%)"></i><i style="left:344px;width:3px;background:linear-gradient(#002fff 0%,#0045ff 75.3%,#005aff 100%)"></i><i style="left:346px;width:3px;background:linear-gradient(#0034ff 0%,#0034ff 25.3%,#0048ff 85.3%,#05f 100%)"></i><i style="left:348px;width:3px;background:linear-gradient(#002eff 0%,#0040ff 79.3%,#0050ff 100%)"></i><i style="left:350px;width:3px;background:linear-gradient(#002dff 0%,#003fff 84%,#004cff 100%)"></i><i style="left:352px;width:3px;background:linear-gradient(#002dff 0%,#003cff 84.7%,#0048ff 100%)"></i><i style="left:354px;width:3px;background:linear-gradient(#002dff 0%,#0039ff 85.3%,#04f 100%)"></i><i style="left:356px;width:3px;background:linear-gradient(#002dff 0%,#0037ff 87.3%,#0040ff 100%)"></i><i style="left:358px;width:3px;background:linear-gradient(#03f 0%,#002eff 16%,#0034ff 87.3%,#003dff 100%)"></i><i style="left:360px;width:3px;background:linear-gradient(#0038ff 0%,#0032ff 18%,#0032ff 87.3%,#003aff 100%)"></i><i style="left:362px;width:3px;background:linear-gradient(#0032ff 0%,#002eff 18%,#002fff 88%,#0037ff 100%)"></i><i style="left:364px;width:3px;background:linear-gradient(#002cff 0%,#002aff 37.3%,#0031ff 95.3%,#0034ff 100%)"></i><i style="left:366px;width:3px;background:linear-gradient(#002bff 0%,#0029ff 38%,#002eff 94%,#0031ff 100%)"></i><i style="left:368px;width:3px;background:linear-gradient(#002bff 0%,#0029ff 37.3%,#002cff 94.7%,#002fff 100%)"></i><i style="left:370px;width:3px;background:linear-gradient(#002bff 0%,#0029ff 36.7%,#002aff 94%,#002dff 100%)"></i><i style="left:372px;width:3px;background:linear-gradient(#002bff 0%,#0027ff 38.7%,#002aff 97.3%,#002cff 100%)"></i><i style="left:374px;width:3px;background:linear-gradient(#002bff 0%,#0027ff 38%,#0028ff 88.7%,#002aff 100%)"></i><i style="left:376px;width:3px;background:linear-gradient(#002bff 0%,#0027ff 38%,#0027ff 96.7%,#0029ff 100%)"></i><i style="left:378px;width:3px;background:linear-gradient(#002bff 0%,#0027ff 37.3%,#0027ff 98.7%,#0028ff 100%)"></i><i style="left:380px;width:3px;background:linear-gradient(#002bff 0%,#0027ff 37.3%,#0025ff 95.3%,#0027ff 100%)"></i><i style="left:382px;width:3px;background:linear-gradient(#002bff 0%,#0027ff 37.3%,#0025ff 88%,#0027ff 100%)"></i><i style="left:384px;width:3px;background:linear-gradient(#002bff 0%,#0027ff 37.3%,#0024ff 94.7%,#0026ff 100%)"></i><i style="left:386px;width:3px;background:linear-gradient(#002eff 0%,#0026ff 38.7%,#0026ff 87.3%,#0028ff 100%)"></i><i style="left:388px;width:3px;background:linear-gradient(#0042ff 0%,#003aff 16.7%,#003aff 26%,#0032ff 51.3%,#002bff 78%,#0038ff 92%,#003bff 100%)"></i><i style="left:390px;width:3px;background:linear-gradient(#004aff 0%,#0042ff 16%,#003fff 24.7%,#003dff 50%,#0031ff 76%,#0040ff 91.3%,#04f 100%)"></i><i style="left:392px;width:3px;background:linear-gradient(#003eff 0%,#0035ff 16%,#0031ff 24%,#0030ff 50.7%,#0025ff 76%,#0034ff 90.7%,#0038ff 100%)"></i><i style="left:394px;width:3px;background:linear-gradient(#0035ff 0%,#002bff 16%,#0025ff 52%,#0026ff 82%,#0028ff 92%,#002eff 100%)"></i><i style="left:396px;width:3px;background:linear-gradient(#0038ff 0%,#002dff 16.7%,#002bff 51.3%,#02f 76.7%,#0030ff 89.3%,#0032ff 100%)"></i><i style="left:398px;width:3px;background:linear-gradient(#04f 0%,#0039ff 16.7%,#0038ff 24.7%,#0037ff 52%,#002aff 74.7%,#003eff 88.7%,#0039ff 97.3%,#003dff 100%)"></i><i style="left:400px;width:3px;background:linear-gradient(#003dff 0%,#03f 16.7%,#03f 25.3%,#0031ff 53.3%,#0025ff 74.7%,#0039ff 88%,#0031ff 96.7%,#0037ff 100%)"></i><i style="left:402px;width:3px;background:linear-gradient(#0034ff 0%,#002aff 17.3%,#0029ff 54.7%,#0021ff 76.7%,#03f 87.3%,#0029ff 96.7%,#002eff 100%)"></i><i style="left:404px;width:3px;background:linear-gradient(#002fff 0%,#0024ff 57.3%,#0026ff 79.3%,#002fff 88%,#0024ff 96%,#0029ff 100%)"></i><i style="left:406px;width:5px;background:linear-gradient(#002bff 0%,#0027ff 37.3%,#0024ff 80%,#0029ff 88%,#0024ff 98.7%,#0025ff 100%)"></i><i style="left:410px;width:3px;background:linear-gradient(#002cff 0%,#002eff 50.7%,#001fff 75.3%,#0031ff 86.7%,#0023ff 94.7%,#0025ff 100%)"></i><i style="left:412px;width:3px;background:linear-gradient(#0037ff 0%,#0035ff 18%,#003aff 48.7%,#0026ff 74.7%,#003eff 86%,#002cff 96.7%,#0031ff 100%)"></i><i style="left:414px;width:3px;background:linear-gradient(#0035ff 0%,#0034ff 18%,#003bff 51.3%,#0024ff 74%,#003bff 86%,#002aff 96.7%,#002fff 100%)"></i><i style="left:416px;width:3px;background:linear-gradient(#03f 0%,#0036ff 17.3%,#03f 27.3%,#003aff 51.3%,#0025ff 74.7%,#0037ff 86.7%,#0029ff 97.3%,#002dff 100%)"></i><i style="left:418px;width:3px;background:linear-gradient(#0034ff 0%,#0038ff 17.3%,#0035ff 29.3%,#003bff 50.7%,#0027ff 74.7%,#0037ff 86.7%,#002aff 97.3%,#002dff 100%)"></i><i style="left:420px;width:3px;background:linear-gradient(#0031ff 0%,#0036ff 17.3%,#03f 29.3%,#0036ff 49.3%,#002fff 60.7%,#0027ff 76%,#0032ff 87.3%,#0028ff 98.7%,#002aff 100%)"></i><i style="left:422px;width:3px;background:linear-gradient(#003dff 0%,#0043ff 18%,#0041ff 48.7%,#003eff 59.3%,#0034ff 76.7%,#003cff 87.3%,#0036ff 100%)"></i><i style="left:424px;width:3px;background:linear-gradient(#003fff 0%,#0047ff 17.3%,#003fff 46.7%,#0041ff 58.7%,#0036ff 76.7%,#003aff 88.7%,#0038ff 100%)"></i><i style="left:426px;width:3px;background:linear-gradient(#0032ff 0%,#003cff 17.3%,#0031ff 42.7%,#03f 58.7%,#002cff 78.7%,#002bff 100%)"></i><i style="left:428px;width:3px;background:linear-gradient(#0030ff 0%,#003cff 17.3%,#0030ff 47.3%,#0031ff 59.3%,#002cff 81.3%,#0029ff 100%)"></i><i style="left:430px;width:3px;background:linear-gradient(#0032ff 0%,#003fff 17.3%,#0035ff 50%,#002bff 100%)"></i><i style="left:432px;width:3px;background:linear-gradient(#03f 0%,#0041ff 18%,#0035ff 50%,#002cff 100%)"></i><i style="left:434px;width:3px;background:linear-gradient(#002bff 0%,#003bff 18%,#002bff 49.3%,#0026ff 64%,#0025ff 100%)"></i><i style="left:436px;width:3px;background:linear-gradient(#002bff 0%,#0034ff 19.3%,#0028ff 52.7%,#0023ff 96%,#0025ff 100%)"></i><i style="left:438px;width:3px;background:linear-gradient(#002bff 0%,#003cff 18.7%,#002fff 37.3%,#0024ff 98.7%,#0025ff 100%)"></i><i style="left:440px;width:3px;background:linear-gradient(#002dff 0%,#003cff 20%,#0030ff 36.7%,#0025ff 96.7%,#0026ff 100%)"></i><i style="left:442px;width:3px;background:linear-gradient(#03f 0%,#0041ff 20.7%,#0034ff 35.3%,#0032ff 45.3%,#0024ff 87.3%,#002cff 100%)"></i><i style="left:444px;width:3px;background:linear-gradient(#003eff 0%,#004aff 21.3%,#003eff 35.3%,#003dff 44.7%,#003aff 71.3%,#0031ff 93.3%,#0037ff 100%)"></i><i style="left:446px;width:3px;background:linear-gradient(#0041ff 0%,#004bff 22%,#0040ff 35.3%,#003fff 44.7%,#003cff 70%,#0034ff 94%,#003aff 100%)"></i><i style="left:448px;width:3px;background:linear-gradient(#0036ff 0%,#003cff 23.3%,#03f 35.3%,#03f 44.7%,#002dff 67.3%,#0028ff 94.7%,#002fff 100%)"></i><i style="left:450px;width:3px;background:linear-gradient(#002cff 0%,#002cff 30.7%,#0025ff 45.3%,#0025ff 100%)"></i><i style="left:452px;width:3px;background:linear-gradient(#03f 0%,#0030ff 26%,#0030ff 37.3%,#02f 64%,#0025ff 82%,#002bff 100%)"></i><i style="left:454px;width:3px;background:linear-gradient(#003bff 0%,#0037ff 10.7%,#03f 27.3%,#0035ff 37.3%,#0029ff 64%,#0029ff 84.7%,#0030ff 98.7%,#03f 100%)"></i><i style="left:456px;width:3px;background:linear-gradient(#0041ff 0%,#003dff 9.3%,#0037ff 27.3%,#0034ff 45.3%,#0030ff 65.3%,#002dff 86.7%,#0039ff 100%)"></i><i style="left:458px;width:3px;background:linear-gradient(#0045ff 0%,#0041ff 8.7%,#003eff 20%,#0039ff 36%,#0030ff 48%,#0034ff 83.3%,#0037ff 97.3%,#003dff 100%)"></i><i style="left:460px;width:3px;background:linear-gradient(#004bff 0%,#0048ff 8%,#0040ff 17.3%,#0038ff 46%,#0039ff 64%,#003dff 97.3%,#04f 100%)"></i><i style="left:462px;width:3px;background:linear-gradient(#0049ff 0%,#0045ff 8%,#003aff 17.3%,#03f 46.7%,#0036ff 63.3%,#003cff 98%,#0041ff 100%)"></i><i style="left:464px;width:3px;background:linear-gradient(#0041ff 0%,#003dff 8%,#0030ff 16.7%,#002eff 30%,#0029ff 47.3%,#002eff 62.7%,#0032ff 84%,#0038ff 99.3%,#0039ff 100%)"></i><i style="left:466px;width:3px;background:linear-gradient(#0038ff 0%,#0034ff 8%,#0029ff 19.3%,#0026ff 42%,#0027ff 62.7%,#002bff 84%,#002fff 99.3%,#0031ff 100%)"></i><i style="left:468px;width:3px;background:linear-gradient(#0031ff 0%,#002eff 8%,#0025ff 64%,#0028ff 99.3%,#002aff 100%)"></i><i style="left:470px;width:3px;background:linear-gradient(#003aff 0%,#0037ff 8%,#0029ff 17.3%,#0027ff 42%,#0028ff 60.7%,#0032ff 71.3%,#0032ff 100%)"></i><i style="left:472px;width:3px;background:linear-gradient(#003aff 0%,#0038ff 8%,#0029ff 17.3%,#0027ff 42.7%,#0027ff 59.3%,#0036ff 70%,#03f 100%)"></i><i style="left:474px;width:3px;background:linear-gradient(#0034ff 0%,#0032ff 8.7%,#002bff 22.7%,#0027ff 60.7%,#03f 70%,#002dff 100%)"></i><i style="left:476px;width:3px;background:linear-gradient(#003aff 0%,#0037ff 9.3%,#002eff 20%,#0027ff 58%,#003dff 69.3%,#03f 100%)"></i><i style="left:478px;width:3px;background:linear-gradient(#003eff 0%,#003bff 10%,#0035ff 24%,#0027ff 56%,#04f 68.7%,#0037ff 100%)"></i><i style="left:480px;width:3px;background:linear-gradient(#003bff 0%,#0038ff 10.7%,#0025ff 48%,#002bff 58%,#0043ff 68.7%,#0034ff 100%)"></i><i style="left:482px;width:3px;background:linear-gradient(#0038ff 0%,#0038ff 10.7%,#0025ff 48%,#0029ff 57.3%,#0042ff 69.3%,#0032ff 100%)"></i><i style="left:484px;width:3px;background:linear-gradient(#003bff 0%,#003aff 12%,#002bff 47.3%,#002bff 56.7%,#0046ff 69.3%,#003eff 88%,#0035ff 100%)"></i><i style="left:486px;width:3px;background:linear-gradient(#0039ff 0%,#0038ff 12.7%,#002dff 46%,#0027ff 55.3%,#04f 69.3%,#003cff 86.7%,#03f 100%)"></i><i style="left:488px;width:3px;background:linear-gradient(#002fff 0%,#002fff 13.3%,#0025ff 46%,#0027ff 58.7%,#0039ff 70%,#03f 87.3%,#0029ff 100%)"></i><i style="left:490px;width:3px;background:linear-gradient(#002bff 0%,#0027ff 37.3%,#0026ff 62%,#002cff 72%,#0025ff 100%)"></i><i style="left:492px;width:3px;background:linear-gradient(#002bff 0%,#0027ff 37.3%,#0027ff 67.3%,#0023ff 96%,#0025ff 100%)"></i><i style="left:494px;width:3px;background:linear-gradient(#002bff 0%,#0027ff 37.3%,#0025ff 100%)"></i><i style="left:496px;width:3px;background:linear-gradient(#002bff 0%,#0027ff 37.3%,#0027ff 66%,#0025ff 86.7%,#0025ff 100%)"></i><i style="left:498px;width:5px;background:linear-gradient(#002bff 0%,#0027ff 37.3%,#0024ff 98.7%,#0025ff 100%)"></i><i style="left:502px;width:3px;background:linear-gradient(#002bff 0%,#0027ff 37.3%,#0025ff 86%,#0025ff 100%)"></i><i style="left:504px;width:3px;background:linear-gradient(#0032ff 0%,#0030ff 14.7%,#0025ff 48%,#002cff 68%,#0027ff 80.7%,#0031ff 96%,#002dff 100%)"></i><i style="left:506px;width:3px;background:linear-gradient(#0031ff 0%,#0030ff 14.7%,#0027ff 57.3%,#0029ff 68%,#0023ff 78.7%,#0030ff 96%,#002cff 100%)"></i><i style="left:508px;width:3px;background:linear-gradient(#0034ff 0%,#0031ff 15.3%,#002eff 25.3%,#002bff 58.7%,#002bff 67.3%,#02f 77.3%,#0032ff 95.3%,#002eff 100%)"></i><i style="left:510px;width:3px;background:linear-gradient(#002eff 0%,#002aff 16%,#0025ff 44%,#0029ff 60.7%,#0021ff 82%,#002cff 96.7%,#0029ff 100%)"></i><i style="left:512px;width:5px;background:linear-gradient(#002bff 0%,#0027ff 37.3%,#0024ff 98.7%,#0025ff 100%)"></i><i style="left:516px;width:3px;background:linear-gradient(#002bff 0%,#0027ff 37.3%,#0025ff 88.7%,#0025ff 100%)"></i><i style="left:518px;width:17px;background:linear-gradient(#002bff 0%,#0027ff 37.3%,#0024ff 98.7%,#0025ff 100%)"></i><i style="left:534px;width:3px;background:linear-gradient(#0034ff 0%,#002cff 22%,#0028ff 61.3%,#0024ff 85.3%,#002eff 100%)"></i><i style="left:536px;width:3px;background:linear-gradient(#0036ff 0%,#002eff 21.3%,#002aff 34.7%,#0028ff 86%,#0030ff 100%)"></i><i style="left:538px;width:2px;background:linear-gradient(#002cff 0%,#0027ff 37.3%,#0025ff 90%,#0027ff 100%)"></i></div>
<div class="hm" style="left:836px;top:564px;width:539px;height:450px"><i style="left:0px;width:3px;background:linear-gradient(#0079ff 0%,#007dff 70%,#0093ff 100%)"></i><i style="left:2px;width:3px;background:linear-gradient(#08f 0%,#008cff 70%,#00a2ff 100%)"></i><i style="left:4px;width:3px;background:linear-gradient(#008eff 0%,#0092ff 70.7%,#00a7ff 100%)"></i><i style="left:6px;width:3px;background:linear-gradient(#0089ff 0%,#008dff 70.7%,#00a2ff 100%)"></i><i style="left:8px;width:3px;background:linear-gradient(#0081ff 0%,#0085ff 69.3%,#009bff 100%)"></i><i style="left:10px;width:3px;background:linear-gradient(#008fff 0%,#0093ff 70%,#00a9ff 100%)"></i><i style="left:12px;width:3px;background:linear-gradient(#0089ff 0%,#008dff 70.7%,#00a2ff 100%)"></i><i style="left:14px;width:3px;background:linear-gradient(#0075ff 0%,#0079ff 70.7%,#008eff 100%)"></i><i style="left:16px;width:3px;background:linear-gradient(#006dff 0%,#0071ff 70.7%,#0086ff 100%)"></i><i style="left:18px;width:3px;background:linear-gradient(#0072ff 0%,#0076ff 70%,#008cff 100%)"></i><i style="left:20px;width:3px;background:linear-gradient(#0086ff 0%,#008aff 70%,#00a0ff 100%)"></i><i style="left:22px;width:3px;background:linear-gradient(#00a0ff 0%,#00a4ff 69.3%,#00baff 100%)"></i><i style="left:24px;width:3px;background:linear-gradient(#00a1ff 0%,#00a5ff 70.7%,#00baff 100%)"></i><i style="left:26px;width:3px;background:linear-gradient(#0090ff 0%,#0094ff 70.7%,#00a9ff 100%)"></i><i style="left:28px;width:3px;background:linear-gradient(#0095ff 0%,#09f 70.7%,#00aeff 100%)"></i><i style="left:30px;width:3px;background:linear-gradient(#00acff 0%,#00b0ff 70.7%,#00c5ff 100%)"></i><i style="left:32px;width:3px;background:linear-gradient(#00a3ff 0%,#00a7ff 70.7%,#00bcff 100%)"></i><i style="left:34px;width:3px;background:linear-gradient(#008cff 0%,#0090ff 70%,#00a5ff 100%)"></i><i style="left:36px;width:3px;background:linear-gradient(#08f 0%,#008cff 70%,#00a2ff 100%)"></i><i style="left:38px;width:3px;background:linear-gradient(#008bff 0%,#008fff 70.7%,#00a4ff 100%)"></i><i style="left:40px;width:3px;background:linear-gradient(#0094ff 0%,#0098ff 70%,#00aeff 100%)"></i><i style="left:42px;width:3px;background:linear-gradient(#009bff 0%,#009fff 70.7%,#00b4ff 100%)"></i><i style="left:44px;width:3px;background:linear-gradient(#0095ff 0%,#09f 70%,#00afff 100%)"></i><i style="left:46px;width:3px;background:linear-gradient(#09f 0%,#009dff 70%,#00b2ff 100%)"></i><i style="left:48px;width:3px;background:linear-gradient(#00a0ff 0%,#00a4ff 70%,#00baff 100%)"></i><i style="left:50px;width:3px;background:linear-gradient(#009dff 0%,#00a1ff 69.3%,#00b7ff 100%)"></i><i style="left:52px;width:3px;background:linear-gradient(#0092ff 0%,#0096ff 70.7%,#00abff 100%)"></i><i style="left:54px;width:3px;background:linear-gradient(#009bff 0%,#009fff 70%,#00b5ff 100%)"></i><i style="left:56px;width:3px;background:linear-gradient(#00acff 0%,#00b0ff 69.3%,#00c6ff 100%)"></i><i style="left:58px;width:3px;background:linear-gradient(#00a0ff 0%,#00a4ff 70.7%,#00b9ff 100%)"></i><i style="left:60px;width:3px;background:linear-gradient(#09f 0%,#009dff 70.7%,#00b2ff 100%)"></i><i style="left:62px;width:3px;background:linear-gradient(#0098ff 0%,#009cff 70.7%,#00b1ff 100%)"></i><i style="left:64px;width:3px;background:linear-gradient(#008fff 0%,#0093ff 70.7%,#00a8ff 100%)"></i><i style="left:66px;width:3px;background:linear-gradient(#0096ff 0%,#009aff 70.7%,#00afff 100%)"></i><i style="left:68px;width:3px;background:linear-gradient(#00acff 0%,#00b0ff 70.7%,#00c5ff 100%)"></i><i style="left:70px;width:3px;background:linear-gradient(#00a5ff 0%,#00a9ff 70%,#00bfff 100%)"></i><i style="left:72px;width:3px;background:linear-gradient(#008cff 0%,#008eff 68%,#00a5ff 100%)"></i><i style="left:74px;width:3px;background:linear-gradient(#0084ff 0%,#08f 70%,#009eff 100%)"></i><i style="left:76px;width:5px;background:linear-gradient(#0078ff 0%,#007cff 70%,#0092ff 100%)"></i><i style="left:80px;width:3px;background:linear-gradient(#0092ff 0%,#0096ff 70.7%,#00abff 100%)"></i><i style="left:82px;width:3px;background:linear-gradient(#00a6ff 0%,#0af 70.7%,#00bfff 100%)"></i><i style="left:84px;width:3px;background:linear-gradient(#00a3ff 0%,#00a7ff 69.3%,#00bdff 100%)"></i><i style="left:86px;width:3px;background:linear-gradient(#00a1ff 0%,#00a5ff 69.3%,#0bf 100%)"></i><i style="left:88px;width:3px;background:linear-gradient(#0091ff 0%,#0095ff 70%,#00abff 100%)"></i><i style="left:90px;width:3px;background:linear-gradient(#0092ff 0%,#0096ff 70%,#00acff 100%)"></i><i style="left:92px;width:3px;background:linear-gradient(#0097ff 0%,#009bff 69.3%,#00b1ff 100%)"></i><i style="left:94px;width:3px;background:linear-gradient(#009cff 0%,#00a0ff 70%,#00b6ff 100%)"></i><i style="left:96px;width:3px;background:linear-gradient(#00a3ff 0%,#00a7ff 70%,#00bdff 100%)"></i><i style="left:98px;width:3px;background:linear-gradient(#009bff 0%,#009fff 70.7%,#00b4ff 100%)"></i><i style="left:100px;width:3px;background:linear-gradient(#0085ff 0%,#0089ff 70%,#009fff 100%)"></i><i style="left:102px;width:3px;background:linear-gradient(#07f 0%,#007bff 69.3%,#0091ff 100%)"></i><i style="left:104px;width:3px;background:linear-gradient(#007dff 0%,#0081ff 69.3%,#0097ff 100%)"></i><i style="left:106px;width:3px;background:linear-gradient(#0083ff 0%,#0087ff 69.3%,#009dff 100%)"></i><i style="left:108px;width:3px;background:linear-gradient(#007aff 0%,#007eff 70.7%,#0093ff 100%)"></i><i style="left:110px;width:3px;background:linear-gradient(#006bff 0%,#006fff 70.7%,#0084ff 100%)"></i><i style="left:112px;width:3px;background:linear-gradient(#0071ff 0%,#0073ff 68%,#008aff 100%)"></i><i style="left:114px;width:3px;background:linear-gradient(#008cff 0%,#0090ff 70.7%,#00a5ff 100%)"></i><i style="left:116px;width:3px;background:linear-gradient(#0093ff 0%,#009eff 72.7%,#00b2ff 100%)"></i><i style="left:118px;width:3px;background:linear-gradient(#0092ff 0%,#00a8ff 81.3%,#00b7ff 100%)"></i><i style="left:120px;width:3px;background:linear-gradient(#00a4ff 0%,#00baff 34%,#00d0ff 90%,#00d8ff 100%)"></i><i style="left:122px;width:3px;background:linear-gradient(#00adff 0%,#0cf 32%,#00e0ff 88%,#00e9ff 100%)"></i><i style="left:124px;width:3px;background:linear-gradient(#009fff 0%,#00b5ff 34%,#00cbff 90.7%,#00d3ff 100%)"></i><i style="left:126px;width:3px;background:linear-gradient(#00a4ff 0%,#00bcff 33.3%,#00d1ff 89.3%,#00d9ff 100%)"></i><i style="left:128px;width:3px;background:linear-gradient(#00beff 0%,#00e5ff 30.7%,#00f6ff 84.7%,#00fffc 100%)"></i><i style="left:130px;width:3px;background:linear-gradient(#00c6ff 0%,#00edff 31.3%,#00feff 85.3%,#00fff4 100%)"></i><i style="left:132px;width:3px;background:linear-gradient(#00c8ff 0%,#00f0ff 30.7%,#00fff7 93.3%,#00fff1 100%)"></i><i style="left:134px;width:3px;background:linear-gradient(#00c0ff 0%,#00e7ff 30.7%,#00f9ff 86%,#00fffa 100%)"></i><i style="left:136px;width:3px;background:linear-gradient(#0af 0%,#00caff 31.3%,#0df 86.7%,#00e8ff 100%)"></i><i style="left:138px;width:3px;background:linear-gradient(#0092ff 0%,#00a3ff 37.3%,#0bf 93.3%,#00c1ff 100%)"></i><i style="left:140px;width:3px;background:linear-gradient(#008aff 0%,#0096ff 49.3%,#00b3ff 100%)"></i><i style="left:142px;width:3px;background:linear-gradient(#008bff 0%,#0098ff 42%,#00b6ff 100%)"></i><i style="left:144px;width:3px;background:linear-gradient(#009aff 0%,#00b1ff 34.7%,#00c6ff 90%,#00ceff 100%)"></i><i style="left:146px;width:3px;background:linear-gradient(#00afff 0%,#00d2ff 31.3%,#00e4ff 86%,#00efff 100%)"></i><i style="left:148px;width:3px;background:linear-gradient(#00bfff 0%,#00e7ff 31.3%,#00f7ff 84%,#00fffa 100%)"></i><i style="left:150px;width:3px;background:linear-gradient(#00c1ff 0%,#00e8ff 31.3%,#00f9ff 85.3%,#00fff9 100%)"></i><i style="left:152px;width:3px;background:linear-gradient(#00b1ff 0%,#00d4ff 31.3%,#00e5ff 85.3%,#00f1ff 100%)"></i><i style="left:154px;width:3px;background:linear-gradient(#009dff 0%,#00b2ff 34%,#00c9ff 91.3%,#00d0ff 100%)"></i><i style="left:156px;width:3px;background:linear-gradient(#0081ff 0%,#0091ff 76%,#00a3ff 100%)"></i><i style="left:158px;width:3px;background:linear-gradient(#0079ff 0%,#0081ff 72%,#0096ff 100%)"></i><i style="left:160px;width:3px;background:linear-gradient(#007dff 0%,#0087ff 72.7%,#009bff 100%)"></i><i style="left:162px;width:3px;background:linear-gradient(#0086ff 0%,#0091ff 72.7%,#00a5ff 100%)"></i><i style="left:164px;width:3px;background:linear-gradient(#0080ff 0%,#0085ff 70.7%,#009aff 100%)"></i><i style="left:166px;width:3px;background:linear-gradient(#007cff 0%,#0080ff 69.3%,#0096ff 100%)"></i><i style="left:168px;width:3px;background:linear-gradient(#007bff 0%,#007eff 69.3%,#0094ff 100%)"></i><i style="left:170px;width:3px;background:linear-gradient(#0073ff 0%,#0075ff 68%,#008cff 100%)"></i><i style="left:172px;width:3px;background:linear-gradient(#0083ff 0%,#0087ff 70.7%,#009cff 100%)"></i><i style="left:174px;width:3px;background:linear-gradient(#0096ff 0%,#009aff 70%,#00b0ff 100%)"></i><i style="left:176px;width:3px;background:linear-gradient(#0096ff 0%,#009aff 69.3%,#00b0ff 100%)"></i><i style="left:178px;width:3px;background:linear-gradient(#0080ff 0%,#0082ff 68%,#09f 100%)"></i><i style="left:180px;width:3px;background:linear-gradient(#0072ff 0%,#0076ff 70%,#008cff 100%)"></i><i style="left:182px;width:3px;background:linear-gradient(#0071ff 0%,#0075ff 70%,#008bff 100%)"></i><i style="left:184px;width:3px;background:linear-gradient(#08f 0%,#008cff 70.7%,#00a1ff 100%)"></i><i style="left:186px;width:3px;background:linear-gradient(#0086ff 0%,#008aff 70%,#00a0ff 100%)"></i><i style="left:188px;width:3px;background:linear-gradient(#0085ff 0%,#008dff 68%,#00a7ff 100%)"></i><i style="left:190px;width:3px;background:linear-gradient(#008aff 0%,#009cff 57.3%,#0cf 100%)"></i><i style="left:192px;width:3px;background:linear-gradient(#009dff 0%,#00b1ff 54%,#00e9ff 100%)"></i><i style="left:194px;width:3px;background:linear-gradient(#0098ff 0%,#00adff 54.7%,#00e5ff 100%)"></i><i style="left:196px;width:3px;background:linear-gradient(#007fff 0%,#0093ff 54.7%,#00cbff 100%)"></i><i style="left:198px;width:3px;background:linear-gradient(#007aff 0%,#008fff 54.7%,#00c7ff 100%)"></i><i style="left:200px;width:3px;background:linear-gradient(#0084ff 0%,#009aff 55.3%,#00d1ff 100%)"></i><i style="left:202px;width:3px;background:linear-gradient(#0082ff 0%,#0098ff 55.3%,#00cfff 100%)"></i><i style="left:204px;width:3px;background:linear-gradient(#0097ff 0%,#00acff 54.7%,#00e4ff 100%)"></i><i style="left:206px;width:3px;background:linear-gradient(#00e8ff 0%,#00feff 55.3%,#00ffc9 100%)"></i><i style="left:208px;width:3px;background:linear-gradient(#00ecff 0%,#00fff7 61.3%,#00ffc6 100%)"></i><i style="left:210px;width:3px;background:linear-gradient(#0df 0%,#00f1ff 54%,#00fff3 78%,#00ffd5 100%)"></i><i style="left:212px;width:3px;background:linear-gradient(#00d5ff 0%,#00eaff 54.7%,#00fff6 81.3%,#00ffdc 100%)"></i><i style="left:214px;width:3px;background:linear-gradient(#00caff 0%,#00deff 54%,#00fff7 89.3%,#00ffe8 100%)"></i><i style="left:216px;width:3px;background:linear-gradient(#00d2ff 0%,#00e6ff 54%,#00fff6 84%,#00ffe0 100%)"></i><i style="left:218px;width:3px;background:linear-gradient(#00dfff 0%,#00f5ff 55.3%,#00fff1 77.3%,#00ffd2 100%)"></i><i style="left:220px;width:3px;background:linear-gradient(#00e4ff 0%,#00f8ff 54%,#00ffe3 84.7%,#00ffce 100%)"></i><i style="left:222px;width:3px;background:linear-gradient(#00faff 0%,#00fff3 50.7%,#00ffb7 100%)"></i><i style="left:224px;width:3px;background:linear-gradient(#00f0ff 0%,#00fff7 57.3%,#00ffc2 100%)"></i><i style="left:226px;width:3px;background:linear-gradient(#00d2ff 0%,#00e3ff 58%,#00fff7 92%,#00ffed 100%)"></i><i style="left:228px;width:3px;background:linear-gradient(#0091ff 0%,#09f 68.7%,#00b2ff 100%)"></i><i style="left:230px;width:3px;background:linear-gradient(#00b6ff 0%,#00c1ff 68.7%,#00dbff 100%)"></i><i style="left:232px;width:3px;background:linear-gradient(#00d9ff 0%,#00e7ff 69.3%,#00fffc 100%)"></i><i style="left:234px;width:3px;background:linear-gradient(#00e5ff 0%,#00f2ff 68%,#00fff3 97.3%,#00fff0 100%)"></i><i style="left:236px;width:3px;background:linear-gradient(#00deff 0%,#00ebff 68%,#00fff7 100%)"></i><i style="left:238px;width:3px;background:linear-gradient(#00c6ff 0%,#00d4ff 68.7%,#00efff 100%)"></i><i style="left:240px;width:3px;background:linear-gradient(#00caff 0%,#00d8ff 69.3%,#00f3ff 100%)"></i><i style="left:242px;width:3px;background:linear-gradient(#00dbff 0%,#00e9ff 68.7%,#00fffa 100%)"></i><i style="left:244px;width:3px;background:linear-gradient(#00cbff 0%,#00daff 70%,#00f4ff 100%)"></i><i style="left:246px;width:3px;background:linear-gradient(#00c2ff 0%,#00cfff 68%,#00ebff 100%)"></i><i style="left:248px;width:3px;background:linear-gradient(#00d6ff 0%,#00e3ff 68%,#0ff 100%)"></i><i style="left:250px;width:3px;background:linear-gradient(#00d2ff 0%,#00e0ff 69.3%,#00fbff 100%)"></i><i style="left:252px;width:3px;background:linear-gradient(#00bcff 0%,#00caff 68.7%,#00e5ff 100%)"></i><i style="left:254px;width:3px;background:linear-gradient(#00c0ff 0%,#00cfff 69.3%,#00eaff 100%)"></i><i style="left:256px;width:3px;background:linear-gradient(#00cdff 0%,#0df 68%,#00faff 100%)"></i><i style="left:258px;width:3px;background:linear-gradient(#00c0ff 0%,#00d4ff 68%,#00f3ff 100%)"></i><i style="left:260px;width:3px;background:linear-gradient(#00b7ff 0%,#00d2ff 67.3%,#00f4ff 100%)"></i><i style="left:262px;width:3px;background:linear-gradient(#00bfff 0%,#00e2ff 64%,#00fff7 96%,#00fff2 100%)"></i><i style="left:264px;width:3px;background:linear-gradient(#00c6ff 0%,#00f2ff 61.3%,#00fff1 83.3%,#00ffd9 100%)"></i><i style="left:266px;width:3px;background:linear-gradient(#00b8ff 0%,#00ebff 58.7%,#00fff5 80%,#00ffd6 100%)"></i><i style="left:268px;width:3px;background:linear-gradient(#00c2ff 0%,#00faff 56.7%,#00ffbe 100%)"></i><i style="left:270px;width:3px;background:linear-gradient(#00cdff 0%,#00fff8 54%,#0fa 100%)"></i><i style="left:272px;width:3px;background:linear-gradient(#00d5ff 0%,#00fff7 48%,#00ff9e 100%)"></i><i style="left:274px;width:3px;background:linear-gradient(#00d8ff 0%,#00fff7 44.7%,#00ff98 100%)"></i><i style="left:276px;width:3px;background:linear-gradient(#00d5ff 0%,#00fff7 46.7%,#00ff9a 100%)"></i><i style="left:278px;width:3px;background:linear-gradient(#00d7ff 0%,#00fff8 44%,#00ff98 100%)"></i><i style="left:280px;width:3px;background:linear-gradient(#00daff 0%,#00fff7 42.7%,#00ff95 100%)"></i><i style="left:282px;width:3px;background:linear-gradient(#00d0ff 0%,#00fff8 49.3%,#00ff9f 100%)"></i><i style="left:284px;width:3px;background:linear-gradient(#00b2ff 0%,#00efff 54%,#00fff3 70%,#00ffbe 100%)"></i><i style="left:286px;width:3px;background:linear-gradient(#00b7ff 0%,#00f2ff 53.3%,#00fff1 69.3%,#0fb 100%)"></i><i style="left:288px;width:3px;background:linear-gradient(#0bf 0%,#00f8ff 56%,#0fb 100%)"></i><i style="left:290px;width:3px;background:linear-gradient(#00baff 0%,#00f3ff 56.7%,#00fff0 74%,#00ffc5 100%)"></i><i style="left:292px;width:3px;background:linear-gradient(#00cdff 0%,#00fff8 61.3%,#00ffbe 100%)"></i><i style="left:294px;width:3px;background:linear-gradient(#00c6ff 0%,#00f2ff 60%,#00fff1 81.3%,#00ffd6 100%)"></i><i style="left:296px;width:3px;background:linear-gradient(#00aeff 0%,#00d3ff 64%,#00feff 100%)"></i><i style="left:298px;width:3px;background:linear-gradient(#00a4ff 0%,#00bdff 66.7%,#00dfff 100%)"></i><i style="left:300px;width:3px;background:linear-gradient(#009aff 0%,#00a6ff 67.3%,#00c1ff 100%)"></i><i style="left:302px;width:3px;background:linear-gradient(#08f 0%,#008eff 68.7%,#00a6ff 100%)"></i><i style="left:304px;width:3px;background:linear-gradient(#0083ff 0%,#08f 70%,#009eff 100%)"></i><i style="left:306px;width:3px;background:linear-gradient(#008dff 0%,#0091ff 69.3%,#00a7ff 100%)"></i><i style="left:308px;width:3px;background:linear-gradient(#008bff 0%,#008fff 69.3%,#00a5ff 100%)"></i><i style="left:310px;width:3px;background:linear-gradient(#0081ff 0%,#0083ff 62%,#009cff 100%)"></i><i style="left:312px;width:3px;background:linear-gradient(#008bff 0%,#008bff 59.3%,#00a3ff 95.3%,#00a8ff 100%)"></i><i style="left:314px;width:3px;background:linear-gradient(#009cff 0%,#0096ff 56.7%,#00b9ff 98%,#0bf 100%)"></i><i style="left:316px;width:3px;background:linear-gradient(#0096ff 0%,#008bff 56%,#00b8ff 100%)"></i><i style="left:318px;width:3px;background:linear-gradient(#0081ff 0%,#0071ff 44%,#0076ff 58%,#00a5ff 100%)"></i><i style="left:320px;width:3px;background:linear-gradient(#0080ff 0%,#0078ff 26.7%,#0075ff 41.3%,#006eff 55.3%,#009aff 82%,#00a6ff 100%)"></i><i style="left:322px;width:3px;background:linear-gradient(#008bff 0%,#007eff 26%,#08f 39.3%,#07f 54%,#00afff 82%,#00b3ff 100%)"></i><i style="left:324px;width:3px;background:linear-gradient(#008cff 0%,#007cff 14%,#0079ff 28%,#08f 40%,#07f 55.3%,#00b5ff 81.3%,#00b0ff 97.3%,#00b6ff 100%)"></i><i style="left:326px;width:3px;background:linear-gradient(#008cff 0%,#007aff 12%,#006bff 26.7%,#0083ff 40%,#0075ff 57.3%,#00a1ff 72%,#00b6ff 82.7%,#00a9ff 94.7%,#00b8ff 100%)"></i><i style="left:328px;width:3px;background:linear-gradient(#0092ff 0%,#08f 8%,#0065ff 24%,#0073ff 33.3%,#007dff 44%,#007eff 62%,#00baff 80.7%,#00a9ff 94%,#00c0ff 100%)"></i><i style="left:330px;width:3px;background:linear-gradient(#009aff 0%,#0092ff 7.3%,#006eff 20.7%,#06f 30.7%,#007fff 43.3%,#008cff 65.3%,#00c0ff 80.7%,#0af 93.3%,#00c9ff 100%)"></i><i style="left:332px;width:3px;background:linear-gradient(#0097ff 0%,#0094ff 6.7%,#0075ff 17.3%,#005fff 30%,#007bff 46%,#0098ff 70%,#00bcff 81.3%,#00a4ff 93.3%,#00c6ff 100%)"></i><i style="left:334px;width:3px;background:linear-gradient(#008aff 0%,#008eff 6%,#0059ff 26.7%,#0092ff 70.7%,#00afff 81.3%,#0096ff 93.3%,#00baff 100%)"></i><i style="left:336px;width:3px;background:linear-gradient(#0086ff 0%,#008dff 6.7%,#0062ff 27.3%,#0086ff 62.7%,#00a0ff 74.7%,#00a9ff 83.3%,#0092ff 93.3%,#00b5ff 100%)"></i><i style="left:338px;width:3px;background:linear-gradient(#007dff 0%,#08f 7.3%,#0065ff 24.7%,#0074ff 39.3%,#007fff 60.7%,#008bff 70.7%,#00a0ff 81.3%,#008aff 94%,#00acff 100%)"></i><i style="left:340px;width:3px;background:linear-gradient(#0078ff 0%,#08f 6.7%,#0065ff 22.7%,#007cff 36%,#0076ff 48%,#0079ff 58%,#0079ff 68%,#0097ff 80.7%,#0083ff 94%,#00a7ff 100%)"></i><i style="left:342px;width:3px;background:linear-gradient(#007cff 0%,#008dff 6.7%,#0069ff 20.7%,#0087ff 34%,#0076ff 46%,#0079ff 56%,#006cff 66%,#0094ff 80%,#0084ff 93.3%,#00abff 100%)"></i><i style="left:344px;width:3px;background:linear-gradient(#0081ff 0%,#0091ff 6.7%,#006dff 20%,#008dff 33.3%,#0076ff 45.3%,#07f 55.3%,#0063ff 65.3%,#0093ff 79.3%,#0087ff 92.7%,#00b1ff 100%)"></i><i style="left:346px;width:3px;background:linear-gradient(#08f 0%,#0093ff 7.3%,#0073ff 19.3%,#0092ff 32.7%,#0078ff 45.3%,#0071ff 56%,#0063ff 65.3%,#09f 79.3%,#008eff 92%,#00b8ff 100%)"></i><i style="left:348px;width:3px;background:linear-gradient(#008eff 0%,#0094ff 8%,#0079ff 19.3%,#0095ff 32%,#007cff 44.7%,#0068ff 64.7%,#00a3ff 78.7%,#0098ff 92%,#00beff 100%)"></i><i style="left:350px;width:3px;background:linear-gradient(#008dff 0%,#0092ff 8.7%,#007eff 20.7%,#0093ff 32.7%,#0075ff 52.7%,#0075ff 65.3%,#00afff 78.7%,#00a1ff 92.7%,#00beff 100%)"></i><i style="left:352px;width:3px;background:linear-gradient(#0089ff 0%,#0089ff 12%,#0081ff 23.3%,#008eff 34.7%,#0072ff 58%,#008eff 68.7%,#00b8ff 78.7%,#00a7ff 94%,#0bf 100%)"></i><i style="left:354px;width:3px;background:linear-gradient(#0080ff 0%,#0083ff 14%,#007cff 26%,#0086ff 38%,#006fff 56.7%,#009eff 71.3%,#0bf 81.3%,#00a6ff 95.3%,#00b2ff 100%)"></i><i style="left:356px;width:3px;background:linear-gradient(#007fff 0%,#0087ff 14.7%,#0079ff 26.7%,#008aff 40%,#0071ff 55.3%,#00bfff 82%,#00a8ff 96.7%,#00b1ff 100%)"></i><i style="left:358px;width:3px;background:linear-gradient(#007cff 0%,#008dff 14%,#0070ff 26%,#008cff 40%,#0070ff 54.7%,#00baff 82%,#00a7ff 97.3%,#00aeff 100%)"></i><i style="left:360px;width:3px;background:linear-gradient(#007fff 0%,#0098ff 12.7%,#006cff 26%,#0090ff 40.7%,#0074ff 54.7%,#00a8ff 70.7%,#00b2ff 88%,#0af 98%,#00b0ff 100%)"></i><i style="left:362px;width:3px;background:linear-gradient(#0084ff 0%,#00a0ff 12.7%,#006aff 25.3%,#0094ff 41.3%,#007aff 54%,#00b1ff 68.7%,#00aeff 98%,#00b5ff 100%)"></i><i style="left:364px;width:3px;background:linear-gradient(#0087ff 0%,#00a3ff 12%,#0078ff 20.7%,#0068ff 26.7%,#0095ff 42%,#007fff 54%,#00beff 67.3%,#0af 84.7%,#00b3ff 98.7%,#00b8ff 100%)"></i><i style="left:366px;width:3px;background:linear-gradient(#0084ff 0%,#009bff 12.7%,#0063ff 25.3%,#008eff 42.7%,#007eff 54%,#00c5ff 66.7%,#00b9ff 74%,#00a1ff 84%,#00b1ff 98.7%,#00b5ff 100%)"></i><i style="left:368px;width:3px;background:linear-gradient(#08f 0%,#0097ff 13.3%,#006aff 25.3%,#008dff 43.3%,#0083ff 53.3%,#00d4ff 66.7%,#00c9ff 73.3%,#00a4ff 83.3%,#00b0ff 96.7%,#00baff 100%)"></i><i style="left:370px;width:3px;background:linear-gradient(#008dff 0%,#0095ff 14%,#07f 24.7%,#008dff 44%,#008aff 53.3%,#00e1ff 66%,#00daff 72.7%,#0af 84.7%,#00b4ff 96%,#00bfff 100%)"></i><i style="left:372px;width:3px;background:linear-gradient(#08f 0%,#008dff 14.7%,#007dff 25.3%,#0087ff 44%,#0086ff 52.7%,#00c0ff 60.7%,#00e5ff 67.3%,#00d2ff 74.7%,#00a6ff 86%,#00aeff 96%,#00baff 100%)"></i><i style="left:374px;width:3px;background:linear-gradient(#0080ff 0%,#0084ff 15.3%,#0080ff 27.3%,#0084ff 52.7%,#00bfff 61.3%,#00dfff 68%,#00bfff 76.7%,#0098ff 88.7%,#00adff 98.7%,#00b1ff 100%)"></i><i style="left:376px;width:3px;background:linear-gradient(#0082ff 0%,#0085ff 16.7%,#008aff 52%,#00b9ff 60.7%,#00d9ff 68%,#00b8ff 76.7%,#0092ff 89.3%,#00b0ff 99.3%,#00b3ff 100%)"></i><i style="left:378px;width:3px;background:linear-gradient(#0089ff 0%,#0089ff 18%,#008fff 45.3%,#00a7ff 58%,#00d0ff 67.3%,#00b3ff 75.3%,#0091ff 86.7%,#009fff 94.7%,#00baff 100%)"></i><i style="left:380px;width:3px;background:linear-gradient(#0093ff 0%,#0091ff 14.7%,#008bff 39.3%,#009dff 52%,#00b1ff 61.3%,#00bfff 69.3%,#008dff 81.3%,#09f 92%,#00c4ff 100%)"></i><i style="left:382px;width:3px;background:linear-gradient(#00a1ff 0%,#0094ff 17.3%,#008aff 37.3%,#00a6ff 48.7%,#00a1ff 59.3%,#00b0ff 69.3%,#0085ff 80.7%,#00a8ff 92.7%,#00d3ff 100%)"></i><i style="left:384px;width:3px;background:linear-gradient(#00a7ff 0%,#0081ff 35.3%,#00a3ff 48%,#0091ff 59.3%,#009dff 69.3%,#007aff 80%,#00b6ff 93.3%,#00d9ff 100%)"></i><i style="left:386px;width:3px;background:linear-gradient(#00a6ff 0%,#0079ff 35.3%,#09f 47.3%,#007eff 58%,#008bff 70%,#0075ff 80%,#00d8ff 100%)"></i><i style="left:388px;width:3px;background:linear-gradient(#00b1ff 0%,#0087ff 35.3%,#00a0ff 46.7%,#0083ff 58%,#0092ff 71.3%,#008bff 80.7%,#00e1ff 98%,#00e5ff 100%)"></i><i style="left:390px;width:3px;background:linear-gradient(#00b6ff 0%,#00a4ff 14%,#09f 37.3%,#00a5ff 47.3%,#008aff 57.3%,#00a0ff 72.7%,#00a6ff 82%,#00e5ff 96%,#00eaff 100%)"></i><i style="left:392px;width:3px;background:linear-gradient(#00a3ff 0%,#008cff 11.3%,#0092ff 28.7%,#09f 47.3%,#0082ff 57.3%,#009fff 78%,#00d7ff 96.7%,#00d7ff 100%)"></i><i style="left:394px;width:3px;background:linear-gradient(#0092ff 0%,#0078ff 10.7%,#008fff 31.3%,#0095ff 47.3%,#0081ff 58%,#00b1ff 85.3%,#00c8ff 97.3%,#00c7ff 100%)"></i><i style="left:396px;width:3px;background:linear-gradient(#0086ff 0%,#006cff 10.7%,#0096ff 37.3%,#0096ff 48%,#0086ff 60.7%,#00beff 96.7%,#0bf 100%)"></i><i style="left:398px;width:3px;background:linear-gradient(#0079ff 0%,#0063ff 10.7%,#00a1ff 44%,#0085ff 61.3%,#00b1ff 96%,#00aeff 100%)"></i><i style="left:400px;width:3px;background:linear-gradient(#0070ff 0%,#0060ff 10.7%,#00a8ff 44%,#0085ff 60.7%,#00a3ff 86.7%,#00a5ff 100%)"></i><i style="left:402px;width:3px;background:linear-gradient(#006cff 0%,#06f 10.7%,#008eff 30.7%,#00b2ff 42%,#08f 60.7%,#00a1ff 86%,#00a1ff 100%)"></i><i style="left:404px;width:3px;background:linear-gradient(#0069ff 0%,#006fff 10.7%,#008cff 30%,#00b7ff 40.7%,#00a2ff 48.7%,#0089ff 62%,#00a4ff 92%,#009dff 100%)"></i><i style="left:406px;width:3px;background:linear-gradient(#0060ff 0%,#0071ff 10.7%,#0079ff 21.3%,#0087ff 30.7%,#00adff 40.7%,#0083ff 58%,#0093ff 78%,#009cff 90%,#0093ff 100%)"></i><i style="left:408px;width:3px;background:linear-gradient(#005bff 0%,#007dff 17.3%,#007aff 28.7%,#00a0ff 41.3%,#007cff 56.7%,#08f 74%,#009bff 87.3%,#008bff 98.7%,#008dff 100%)"></i><i style="left:410px;width:3px;background:linear-gradient(#0058ff 0%,#007cff 16%,#07f 30%,#008fff 41.3%,#0074ff 55.3%,#007eff 73.3%,#09f 84.7%,#0083ff 97.3%,#008aff 100%)"></i><i style="left:412px;width:3px;background:linear-gradient(#0057ff 0%,#007aff 16.7%,#0075ff 32%,#007aff 43.3%,#006dff 55.3%,#0075ff 73.3%,#0093ff 84%,#007dff 96%,#08f 100%)"></i><i style="left:414px;width:3px;background:linear-gradient(#005bff 0%,#007aff 20.7%,#006bff 54%,#006bff 66%,#0073ff 74%,#008fff 84%,#007eff 95.3%,#008cff 100%)"></i><i style="left:416px;width:3px;background:linear-gradient(#0064ff 0%,#0076ff 13.3%,#0082ff 23.3%,#006dff 51.3%,#07f 62.7%,#0071ff 72.7%,#008cff 84%,#0085ff 94.7%,#0096ff 100%)"></i><i style="left:418px;width:3px;background:linear-gradient(#0071ff 0%,#0071ff 10.7%,#0092ff 21.3%,#0072ff 48%,#0083ff 62%,#007bff 73.3%,#008cff 84.7%,#0093ff 94.7%,#00a4ff 100%)"></i><i style="left:420px;width:3px;background:linear-gradient(#0074ff 0%,#006dff 10%,#0094ff 20.7%,#0070ff 46.7%,#0084ff 62%,#007eff 74.7%,#008eff 92%,#00a8ff 100%)"></i><i style="left:422px;width:3px;background:linear-gradient(#0078ff 0%,#0070ff 9.3%,#0093ff 21.3%,#0072ff 41.3%,#007aff 53.3%,#007dff 67.3%,#0085ff 88.7%,#00acff 100%)"></i><i style="left:424px;width:3px;background:linear-gradient(#0089ff 0%,#0083ff 8.7%,#009cff 20%,#007fff 38%,#0084ff 57.3%,#008fff 86.7%,#00bdff 98.7%,#00bdff 100%)"></i><i style="left:426px;width:3px;background:linear-gradient(#09f 0%,#0098ff 8.7%,#00a6ff 18%,#08f 33.3%,#008eff 64%,#009eff 85.3%,#00ceff 97.3%,#00ceff 100%)"></i><i style="left:428px;width:3px;background:linear-gradient(#009cff 0%,#009cff 8.7%,#00a3ff 16.7%,#0082ff 30%,#0089ff 49.3%,#007fff 60.7%,#0096ff 76%,#00a6ff 85.3%,#00d1ff 96%,#00d0ff 100%)"></i><i style="left:430px;width:3px;background:linear-gradient(#009bff 0%,#009bff 10%,#0095ff 18%,#007cff 29.3%,#0091ff 46.7%,#0075ff 59.3%,#0093ff 75.3%,#00aeff 86%,#00d1ff 96%,#00cfff 100%)"></i><i style="left:432px;width:3px;background:linear-gradient(#0098ff 0%,#0086ff 19.3%,#007fff 31.3%,#009bff 46%,#0074ff 59.3%,#00abff 84.7%,#00cdff 96.7%,#00cdff 100%)"></i><i style="left:434px;width:3px;background:linear-gradient(#0091ff 0%,#0079ff 24%,#00a0ff 46%,#0075ff 59.3%,#00a5ff 84%,#00c5ff 100%)"></i><i style="left:436px;width:3px;background:linear-gradient(#008dff 0%,#006dff 17.3%,#00a7ff 45.3%,#007bff 60%,#00b2ff 92.7%,#00c1ff 100%)"></i><i style="left:438px;width:3px;background:linear-gradient(#008dff 0%,#0063ff 15.3%,#00abff 42%,#009cff 51.3%,#007fff 59.3%,#00b6ff 96%,#00c0ff 100%)"></i><i style="left:440px;width:3px;background:linear-gradient(#0085ff 0%,#05f 14.7%,#006fff 22.7%,#0092ff 32.7%,#00a3ff 46.7%,#0074ff 60%,#00aeff 96%,#00b8ff 100%)"></i><i style="left:442px;width:3px;background:linear-gradient(#008bff 0%,#005bff 14.7%,#0079ff 23.3%,#009aff 33.3%,#00a3ff 48%,#0070ff 60.7%,#00a6ff 87.3%,#00beff 100%)"></i><i style="left:444px;width:3px;background:linear-gradient(#0092ff 0%,#0067ff 14%,#0083ff 23.3%,#00a0ff 33.3%,#00a0ff 49.3%,#006cff 60.7%,#0090ff 74%,#00b6ff 88%,#00c6ff 100%)"></i><i style="left:446px;width:3px;background:linear-gradient(#0096ff 0%,#0071ff 12.7%,#008aff 23.3%,#00a1ff 34%,#0097ff 50%,#0065ff 60.7%,#007eff 70%,#00beff 86%,#00caff 100%)"></i><i style="left:448px;width:3px;background:linear-gradient(#009aff 0%,#0078ff 11.3%,#00a2ff 33.3%,#0089ff 51.3%,#0063ff 61.3%,#0079ff 69.3%,#00c5ff 85.3%,#00d0ff 99.3%,#00cfff 100%)"></i><i style="left:450px;width:3px;background:linear-gradient(#00a5ff 0%,#0082ff 10.7%,#00a8ff 32%,#007dff 54%,#006cff 64%,#00d2ff 87.3%,#00daff 100%)"></i><i style="left:452px;width:3px;background:linear-gradient(#0af 0%,#0085ff 10.7%,#00a9ff 29.3%,#008aff 46.7%,#0071ff 62%,#0093ff 72.7%,#00d7ff 90.7%,#00dfff 100%)"></i><i style="left:454px;width:3px;background:linear-gradient(#00a3ff 0%,#007aff 10%,#009fff 28%,#0095ff 38.7%,#006cff 55.3%,#007dff 68.7%,#00d8ff 97.3%,#00d8ff 100%)"></i><i style="left:456px;width:3px;background:linear-gradient(#0098ff 0%,#006bff 10%,#0095ff 30.7%,#0085ff 41.3%,#0062ff 54%,#009aff 83.3%,#00cfff 97.3%,#00ceff 100%)"></i><i style="left:458px;width:3px;background:linear-gradient(#0094ff 0%,#0061ff 9.3%,#0092ff 36.7%,#0060ff 54%,#0083ff 77.3%,#00a1ff 86.7%,#0cf 96.7%,#00c9ff 100%)"></i><i style="left:460px;width:3px;background:linear-gradient(#008fff 0%,#0054ff 10%,#0078ff 26%,#008dff 38%,#0060ff 55.3%,#0081ff 70.7%,#0085ff 81.3%,#00caff 96%,#00c5ff 100%)"></i><i style="left:462px;width:3px;background:linear-gradient(#0087ff 0%,#0047ff 10%,#0057ff 20.7%,#0084ff 37.3%,#0065ff 50.7%,#0060ff 58%,#007eff 69.3%,#007eff 80.7%,#00c3ff 94.7%,#00beff 100%)"></i><i style="left:464px;width:3px;background:linear-gradient(#0085ff 0%,#0043ff 10.7%,#004cff 20%,#007eff 38%,#006dff 49.3%,#0060ff 58%,#0080ff 68.7%,#007eff 80%,#00c3ff 95.3%,#00bcff 100%)"></i><i style="left:466px;width:3px;background:linear-gradient(#008dff 0%,#004dff 11.3%,#0053ff 20%,#007eff 39.3%,#0079ff 48.7%,#0065ff 57.3%,#0087ff 68.7%,#0087ff 80%,#00c8ff 95.3%,#00c3ff 100%)"></i><i style="left:468px;width:3px;background:linear-gradient(#008aff 0%,#004fff 12%,#005aff 21.3%,#006bff 35.3%,#07f 48%,#0061ff 57.3%,#0083ff 69.3%,#0084ff 80.7%,#00c3ff 96.7%,#00c0ff 100%)"></i><i style="left:470px;width:3px;background:linear-gradient(#0080ff 0%,#004aff 13.3%,#005fff 28%,#005bff 38.7%,#006aff 48%,#005aff 58%,#0079ff 69.3%,#0076ff 80.7%,#00b7ff 97.3%,#00b5ff 100%)"></i><i style="left:472px;width:3px;background:linear-gradient(#007dff 0%,#004dff 13.3%,#0061ff 26.7%,#004eff 36.7%,#06f 48%,#005bff 58%,#0078ff 68.7%,#006fff 81.3%,#00b2ff 98%,#00b2ff 100%)"></i><i style="left:474px;width:3px;background:linear-gradient(#007bff 0%,#0052ff 13.3%,#0063ff 26.7%,#004dff 36%,#0069ff 48%,#0062ff 58%,#007dff 68%,#006cff 81.3%,#009fff 93.3%,#00b0ff 100%)"></i><i style="left:476px;width:3px;background:linear-gradient(#0076ff 0%,#05f 12.7%,#0065ff 26%,#004fff 35.3%,#006dff 47.3%,#0063ff 57.3%,#0081ff 67.3%,#0069ff 81.3%,#008cff 91.3%,#00abff 99.3%,#00abff 100%)"></i><i style="left:478px;width:3px;background:linear-gradient(#0074ff 0%,#005cff 12%,#006aff 26.7%,#0059ff 34.7%,#0076ff 46%,#06f 57.3%,#0085ff 67.3%,#006eff 83.3%,#0090ff 92.7%,#00a8ff 100%)"></i><i style="left:480px;width:3px;background:linear-gradient(#006fff 0%,#0061ff 12%,#0074ff 26%,#0063ff 34.7%,#007eff 45.3%,#0064ff 56.7%,#0086ff 68%,#0073ff 85.3%,#00a3ff 100%)"></i><i style="left:482px;width:3px;background:linear-gradient(#06f 0%,#0061ff 12%,#007bff 25.3%,#0068ff 34.7%,#007eff 44.7%,#005fff 56.7%,#0081ff 68.7%,#07f 88.7%,#009aff 100%)"></i><i style="left:484px;width:3px;background:linear-gradient(#005fff 0%,#0060ff 12%,#0082ff 24%,#006bff 34.7%,#007bff 45.3%,#0060ff 57.3%,#007eff 70%,#007aff 90.7%,#0092ff 100%)"></i><i style="left:486px;width:3px;background:linear-gradient(#005dff 0%,#0061ff 12%,#08f 23.3%,#006cff 34.7%,#0078ff 46.7%,#0069ff 58.7%,#0082ff 72.7%,#0082ff 92.7%,#0090ff 100%)"></i><i style="left:488px;width:3px;background:linear-gradient(#005dff 0%,#0063ff 12.7%,#0089ff 23.3%,#0069ff 35.3%,#0075ff 52%,#0075ff 62%,#0087ff 76%,#08f 94%,#0090ff 100%)"></i><i style="left:490px;width:3px;background:linear-gradient(#0069ff 0%,#0070ff 13.3%,#0090ff 22.7%,#006bff 35.3%,#0082ff 53.3%,#0082ff 64%,#0093ff 76.7%,#009aff 98%,#009cff 100%)"></i><i style="left:492px;width:3px;background:linear-gradient(#007aff 0%,#007eff 14%,#0094ff 22.7%,#006dff 35.3%,#008bff 52.7%,#0080ff 62.7%,#009dff 76%,#00abff 98.7%,#00adff 100%)"></i><i style="left:494px;width:3px;background:linear-gradient(#0082ff 0%,#0083ff 15.3%,#008cff 23.3%,#06f 34.7%,#007dff 46%,#007dff 54%,#0070ff 62%,#009aff 76.7%,#0af 91.3%,#00b5ff 100%)"></i><i style="left:496px;width:3px;background:linear-gradient(#0090ff 0%,#0086ff 24%,#0068ff 34%,#007cff 50.7%,#0061ff 60.7%,#09f 76.7%,#00b0ff 91.3%,#00c3ff 100%)"></i><i style="left:498px;width:3px;background:linear-gradient(#009eff 0%,#0094ff 15.3%,#006eff 34.7%,#07f 49.3%,#0057ff 60%,#0073ff 68%,#0098ff 77.3%,#00b1ff 90.7%,#00d0ff 100%)"></i><i style="left:500px;width:3px;background:linear-gradient(#00a0ff 0%,#009fff 11.3%,#006dff 32%,#0071ff 46.7%,#004aff 59.3%,#0068ff 68%,#008fff 78%,#00a5ff 90%,#00d2ff 100%)"></i><i style="left:502px;width:3px;background:linear-gradient(#0095ff 0%,#009bff 10.7%,#0065ff 28.7%,#0065ff 44.7%,#003cff 58.7%,#005eff 68.7%,#007dff 79.3%,#0098ff 91.3%,#00c6ff 100%)"></i><i style="left:504px;width:3px;background:linear-gradient(#008eff 0%,#0097ff 10.7%,#06f 27.3%,#0065ff 42%,#0039ff 57.3%,#0074ff 78.7%,#008cff 90.7%,#00bfff 100%)"></i><i style="left:506px;width:3px;background:linear-gradient(#0089ff 0%,#0091ff 12%,#006dff 26%,#0069ff 40.7%,#003eff 55.3%,#0072ff 79.3%,#008bff 91.3%,#00b9ff 100%)"></i><i style="left:508px;width:3px;background:linear-gradient(#0086ff 0%,#008bff 12.7%,#0076ff 26.7%,#0071ff 40%,#0049ff 53.3%,#005fff 66%,#008cff 91.3%,#00b7ff 100%)"></i><i style="left:510px;width:3px;background:linear-gradient(#007dff 0%,#0078ff 15.3%,#0078ff 32.7%,#0069ff 42.7%,#004fff 54.7%,#0083ff 90.7%,#00aeff 100%)"></i><i style="left:512px;width:3px;background:linear-gradient(#0071ff 0%,#06f 23.3%,#0070ff 38.7%,#004fff 58.7%,#0075ff 90%,#00a3ff 100%)"></i><i style="left:514px;width:3px;background:linear-gradient(#0074ff 0%,#0060ff 22%,#0074ff 38%,#0050ff 70%,#0080ff 92.7%,#00a5ff 100%)"></i><i style="left:516px;width:3px;background:linear-gradient(#0082ff 0%,#0073ff 12%,#0067ff 22%,#0080ff 41.3%,#0074ff 53.3%,#0052ff 68.7%,#008fff 93.3%,#00b3ff 100%)"></i><i style="left:518px;width:3px;background:linear-gradient(#008fff 0%,#008aff 9.3%,#006fff 21.3%,#008eff 49.3%,#005aff 65.3%,#0061ff 74%,#0089ff 86%,#00a2ff 94.7%,#00c0ff 100%)"></i><i style="left:520px;width:3px;background:linear-gradient(#0094ff 0%,#0093ff 9.3%,#0076ff 21.3%,#0087ff 42%,#008eff 50%,#005dff 62%,#0061ff 72.7%,#0092ff 85.3%,#00a5ff 94.7%,#00c4ff 100%)"></i><i style="left:522px;width:3px;background:linear-gradient(#0098ff 0%,#009eff 8.7%,#0085ff 22%,#007dff 35.3%,#008cff 44.7%,#0089ff 51.3%,#0062ff 60.7%,#006dff 72.7%,#009eff 84.7%,#00a7ff 94%,#00c8ff 100%)"></i><i style="left:524px;width:3px;background:linear-gradient(#0093ff 0%,#009dff 9.3%,#0090ff 24%,#007cff 34.7%,#007aff 42%,#08f 50%,#0064ff 61.3%,#007aff 73.3%,#00a4ff 84.7%,#00a7ff 94.7%,#00c3ff 100%)"></i><i style="left:526px;width:3px;background:linear-gradient(#008dff 0%,#009cff 10.7%,#0094ff 30%,#0073ff 40%,#0087ff 50.7%,#006eff 61.3%,#008cff 74.7%,#00a9ff 84.7%,#00a5ff 94.7%,#00beff 100%)"></i><i style="left:528px;width:3px;background:linear-gradient(#008aff 0%,#009cff 14.7%,#00a2ff 28.7%,#07f 40%,#0090ff 50.7%,#007eff 62.7%,#009fff 76.7%,#00acff 85.3%,#00a7ff 95.3%,#00baff 100%)"></i><i style="left:530px;width:3px;background:linear-gradient(#007bff 0%,#009dff 28%,#0072ff 39.3%,#0092ff 51.3%,#0085ff 65.3%,#00a3ff 84.7%,#009bff 95.3%,#00acff 100%)"></i><i style="left:532px;width:3px;background:linear-gradient(#006fff 0%,#0095ff 27.3%,#006eff 38.7%,#0097ff 50.7%,#008cff 70.7%,#09f 85.3%,#0095ff 96.7%,#00a0ff 100%)"></i><i style="left:534px;width:3px;background:linear-gradient(#006fff 0%,#008bff 20.7%,#0092ff 28%,#0072ff 37.3%,#09f 46%,#00a4ff 54%,#009bff 76%,#0098ff 97.3%,#00a0ff 100%)"></i><i style="left:536px;width:3px;background:linear-gradient(#0067ff 0%,#007aff 18.7%,#008bff 27.3%,#006fff 37.3%,#00a8ff 50%,#0092ff 97.3%,#09f 100%)"></i><i style="left:538px;width:2px;background:linear-gradient(#005aff 0%,#0067ff 17.3%,#0080ff 26.7%,#0069ff 36.7%,#00a2ff 50%,#0087ff 88%,#008cff 100%)"></i></div>
<div class="cb" style="left:638.8px;top:35.5px;width:43.6px;height:449.5px;background:linear-gradient(#ff0000 2.0%,#ff8000 14.0%,#ffff00 26.0%,#80ff00 38.0%,#00ff00 50.0%,#00ff80 62.0%,#00ffff 74.1%,#0080ff 86.1%,#0000ff 98.1%)"></div>
<div class="cb" style="left:1384.5px;top:33.8px;width:42.8px;height:449.7px;background:linear-gradient(#ff0000 2.0%,#ff8000 14.0%,#ffff00 26.0%,#80ff00 38.0%,#00ff00 49.9%,#00ff80 61.9%,#00ffff 73.9%,#0080ff 85.9%,#0000ff 97.9%)"></div>
<div class="cb" style="left:639.6px;top:562.5px;width:44.0px;height:449.1px;background:linear-gradient(#ff0000 2.0%,#ff8000 14.0%,#ffff00 26.0%,#80ff00 38.0%,#00ff00 50.0%,#00ff80 62.1%,#00ffff 74.1%,#0080ff 86.1%,#0000ff 98.1%)"></div>
<div class="cb" style="left:1385.0px;top:563.0px;width:43.8px;height:448.5px;background:linear-gradient(#ff0000 1.9%,#ff8000 13.9%,#ffff00 26.0%,#80ff00 38.0%,#00ff00 50.0%,#00ff80 62.1%,#00ffff 74.1%,#0080ff 86.1%,#0000ff 98.1%)"></div>
<svg width="1523" height="1621" viewBox="0 0 1523 1621">
<rect x="638.8" y="35.5" width="43.6" height="449.5" fill="none" stroke="#555" stroke-width="0.8"/>
<line x1="682.4" y1="44.4" x2="692.4" y2="44.4" stroke="#333" stroke-width="1.4"/>
<text x="698.2" y="50.0" font-size="16.4"  textLength="56.0" lengthAdjust="spacingAndGlyphs">0.02000</text>
<line x1="682.4" y1="98.4" x2="692.4" y2="98.4" stroke="#333" stroke-width="1.4"/>
<text x="698.2" y="104.0" font-size="16.4"  textLength="56.0" lengthAdjust="spacingAndGlyphs">0.01750</text>
<line x1="682.4" y1="152.4" x2="692.4" y2="152.4" stroke="#333" stroke-width="1.4"/>
<text x="698.2" y="158.0" font-size="16.4"  textLength="56.0" lengthAdjust="spacingAndGlyphs">0.01500</text>
<line x1="682.4" y1="206.4" x2="692.4" y2="206.4" stroke="#333" stroke-width="1.4"/>
<text x="698.2" y="212.0" font-size="16.4"  textLength="56.0" lengthAdjust="spacingAndGlyphs">0.01250</text>
<line x1="682.4" y1="260.4" x2="692.4" y2="260.4" stroke="#333" stroke-width="1.4"/>
<text x="698.2" y="266.0" font-size="16.4"  textLength="56.0" lengthAdjust="spacingAndGlyphs">0.01000</text>
<line x1="682.4" y1="314.4" x2="692.4" y2="314.4" stroke="#333" stroke-width="1.4"/>
<text x="698.2" y="320.0" font-size="16.4"  textLength="64.6" lengthAdjust="spacingAndGlyphs">0.007500</text>
<line x1="682.4" y1="368.4" x2="692.4" y2="368.4" stroke="#333" stroke-width="1.4"/>
<text x="698.2" y="374.0" font-size="16.4"  textLength="64.6" lengthAdjust="spacingAndGlyphs">0.005000</text>
<line x1="682.4" y1="422.4" x2="692.4" y2="422.4" stroke="#333" stroke-width="1.4"/>
<text x="698.2" y="428.0" font-size="16.4"  textLength="64.6" lengthAdjust="spacingAndGlyphs">0.002500</text>
<line x1="682.4" y1="476.4" x2="692.4" y2="476.4" stroke="#333" stroke-width="1.4"/>
<text x="698.2" y="482.0" font-size="16.4"  textLength="38.9" lengthAdjust="spacingAndGlyphs">0.000</text>
<rect x="1384.5" y="33.8" width="42.8" height="449.7" fill="none" stroke="#555" stroke-width="0.8"/>
<line x1="1427.3" y1="42.8" x2="1437.3" y2="42.8" stroke="#333" stroke-width="1.4"/>
<text x="1442.6" y="48.4" font-size="16.4"  textLength="56.0" lengthAdjust="spacingAndGlyphs">0.02000</text>
<line x1="1427.3" y1="96.7" x2="1437.3" y2="96.7" stroke="#333" stroke-width="1.4"/>
<text x="1442.6" y="102.3" font-size="16.4"  textLength="56.0" lengthAdjust="spacingAndGlyphs">0.01750</text>
<line x1="1427.3" y1="150.6" x2="1437.3" y2="150.6" stroke="#333" stroke-width="1.4"/>
<text x="1442.6" y="156.2" font-size="16.4"  textLength="56.0" lengthAdjust="spacingAndGlyphs">0.01500</text>
<line x1="1427.3" y1="204.5" x2="1437.3" y2="204.5" stroke="#333" stroke-width="1.4"/>
<text x="1442.6" y="210.1" font-size="16.4"  textLength="56.0" lengthAdjust="spacingAndGlyphs">0.01250</text>
<line x1="1427.3" y1="258.4" x2="1437.3" y2="258.4" stroke="#333" stroke-width="1.4"/>
<text x="1442.6" y="264.0" font-size="16.4"  textLength="56.0" lengthAdjust="spacingAndGlyphs">0.01000</text>
<line x1="1427.3" y1="312.3" x2="1437.3" y2="312.3" stroke="#333" stroke-width="1.4"/>
<text x="1442.6" y="317.9" font-size="16.4"  textLength="64.6" lengthAdjust="spacingAndGlyphs">0.007500</text>
<line x1="1427.3" y1="366.2" x2="1437.3" y2="366.2" stroke="#333" stroke-width="1.4"/>
<text x="1442.6" y="371.8" font-size="16.4"  textLength="64.6" lengthAdjust="spacingAndGlyphs">0.005000</text>
<line x1="1427.3" y1="420.1" x2="1437.3" y2="420.1" stroke="#333" stroke-width="1.4"/>
<text x="1442.6" y="425.7" font-size="16.4"  textLength="64.6" lengthAdjust="spacingAndGlyphs">0.002500</text>
<line x1="1427.3" y1="474.0" x2="1437.3" y2="474.0" stroke="#333" stroke-width="1.4"/>
<text x="1442.6" y="479.6" font-size="16.4"  textLength="38.9" lengthAdjust="spacingAndGlyphs">0.000</text>
<rect x="639.6" y="562.5" width="44.0" height="449.1" fill="none" stroke="#555" stroke-width="0.8"/>
<line x1="683.6" y1="571.4" x2="693.6" y2="571.4" stroke="#333" stroke-width="1.4"/>
<text x="699.6" y="577.0" font-size="16.4"  textLength="47.5" lengthAdjust="spacingAndGlyphs">0.1000</text>
<line x1="683.6" y1="625.4" x2="693.6" y2="625.4" stroke="#333" stroke-width="1.4"/>
<text x="699.6" y="631.0" font-size="16.4"  textLength="56.0" lengthAdjust="spacingAndGlyphs">0.08750</text>
<line x1="683.6" y1="679.3" x2="693.6" y2="679.3" stroke="#333" stroke-width="1.4"/>
<text x="699.6" y="684.9" font-size="16.4"  textLength="56.0" lengthAdjust="spacingAndGlyphs">0.07500</text>
<line x1="683.6" y1="733.3" x2="693.6" y2="733.3" stroke="#333" stroke-width="1.4"/>
<text x="699.6" y="738.9" font-size="16.4"  textLength="56.0" lengthAdjust="spacingAndGlyphs">0.06250</text>
<line x1="683.6" y1="787.2" x2="693.6" y2="787.2" stroke="#333" stroke-width="1.4"/>
<text x="699.6" y="792.8" font-size="16.4"  textLength="56.0" lengthAdjust="spacingAndGlyphs">0.05000</text>
<line x1="683.6" y1="841.2" x2="693.6" y2="841.2" stroke="#333" stroke-width="1.4"/>
<text x="699.6" y="846.8" font-size="16.4"  textLength="56.0" lengthAdjust="spacingAndGlyphs">0.03750</text>
<line x1="683.6" y1="895.2" x2="693.6" y2="895.2" stroke="#333" stroke-width="1.4"/>
<text x="699.6" y="900.8" font-size="16.4"  textLength="56.0" lengthAdjust="spacingAndGlyphs">0.02500</text>
<line x1="683.6" y1="949.1" x2="693.6" y2="949.1" stroke="#333" stroke-width="1.4"/>
<text x="699.6" y="954.7" font-size="16.4"  textLength="56.0" lengthAdjust="spacingAndGlyphs">0.01250</text>
<line x1="683.6" y1="1003.1" x2="693.6" y2="1003.1" stroke="#333" stroke-width="1.4"/>
<text x="699.6" y="1008.7" font-size="16.4"  textLength="38.9" lengthAdjust="spacingAndGlyphs">0.000</text>
<rect x="1385.0" y="563.0" width="43.8" height="448.5" fill="none" stroke="#555" stroke-width="0.8"/>
<line x1="1428.8" y1="571.6" x2="1438.8" y2="571.6" stroke="#333" stroke-width="1.4"/>
<text x="1443.9" y="577.2" font-size="16.4"  textLength="47.5" lengthAdjust="spacingAndGlyphs">0.1000</text>
<line x1="1428.8" y1="625.6" x2="1438.8" y2="625.6" stroke="#333" stroke-width="1.4"/>
<text x="1443.9" y="631.2" font-size="16.4"  textLength="56.0" lengthAdjust="spacingAndGlyphs">0.08750</text>
<line x1="1428.8" y1="679.5" x2="1438.8" y2="679.5" stroke="#333" stroke-width="1.4"/>
<text x="1443.9" y="685.1" font-size="16.4"  textLength="56.0" lengthAdjust="spacingAndGlyphs">0.07500</text>
<line x1="1428.8" y1="733.5" x2="1438.8" y2="733.5" stroke="#333" stroke-width="1.4"/>
<text x="1443.9" y="739.1" font-size="16.4"  textLength="56.0" lengthAdjust="spacingAndGlyphs">0.06250</text>
<line x1="1428.8" y1="787.4" x2="1438.8" y2="787.4" stroke="#333" stroke-width="1.4"/>
<text x="1443.9" y="793.0" font-size="16.4"  textLength="56.0" lengthAdjust="spacingAndGlyphs">0.05000</text>
<line x1="1428.8" y1="841.4" x2="1438.8" y2="841.4" stroke="#333" stroke-width="1.4"/>
<text x="1443.9" y="847.0" font-size="16.4"  textLength="56.0" lengthAdjust="spacingAndGlyphs">0.03750</text>
<line x1="1428.8" y1="895.3" x2="1438.8" y2="895.3" stroke="#333" stroke-width="1.4"/>
<text x="1443.9" y="900.9" font-size="16.4"  textLength="56.0" lengthAdjust="spacingAndGlyphs">0.02500</text>
<line x1="1428.8" y1="949.2" x2="1438.8" y2="949.2" stroke="#333" stroke-width="1.4"/>
<text x="1443.9" y="954.9" font-size="16.4"  textLength="56.0" lengthAdjust="spacingAndGlyphs">0.01250</text>
<line x1="1428.8" y1="1003.2" x2="1438.8" y2="1003.2" stroke="#333" stroke-width="1.4"/>
<text x="1443.9" y="1008.8" font-size="16.4"  textLength="38.9" lengthAdjust="spacingAndGlyphs">0.000</text>
<rect x="93.3" y="33.9" width="535.8" height="449.4" fill="none" stroke="#000" stroke-width="2.6"/>
<line x1="93.3" y1="483.3" x2="93.3" y2="492.3" stroke="#000" stroke-width="2.6"/>
<text x="93.3" y="516.4" font-size="23.4"  textLength="52.8" lengthAdjust="spacingAndGlyphs" text-anchor="middle">2000</text>
<line x1="137.9" y1="483.3" x2="137.9" y2="487.8" stroke="#000" stroke-width="2.6"/>
<line x1="182.6" y1="483.3" x2="182.6" y2="492.3" stroke="#000" stroke-width="2.6"/>
<text x="182.6" y="516.4" font-size="23.4"  textLength="52.8" lengthAdjust="spacingAndGlyphs" text-anchor="middle">1800</text>
<line x1="227.2" y1="483.3" x2="227.2" y2="487.8" stroke="#000" stroke-width="2.6"/>
<line x1="271.9" y1="483.3" x2="271.9" y2="492.3" stroke="#000" stroke-width="2.6"/>
<text x="271.9" y="516.4" font-size="23.4"  textLength="52.8" lengthAdjust="spacingAndGlyphs" text-anchor="middle">1600</text>
<line x1="316.6" y1="483.3" x2="316.6" y2="487.8" stroke="#000" stroke-width="2.6"/>
<line x1="361.2" y1="483.3" x2="361.2" y2="492.3" stroke="#000" stroke-width="2.6"/>
<text x="361.2" y="516.4" font-size="23.4"  textLength="52.8" lengthAdjust="spacingAndGlyphs" text-anchor="middle">1400</text>
<line x1="405.9" y1="483.3" x2="405.9" y2="487.8" stroke="#000" stroke-width="2.6"/>
<line x1="450.5" y1="483.3" x2="450.5" y2="492.3" stroke="#000" stroke-width="2.6"/>
<text x="450.5" y="516.4" font-size="23.4"  textLength="52.8" lengthAdjust="spacingAndGlyphs" text-anchor="middle">1200</text>
<line x1="495.2" y1="483.3" x2="495.2" y2="487.8" stroke="#000" stroke-width="2.6"/>
<line x1="539.8" y1="483.3" x2="539.8" y2="492.3" stroke="#000" stroke-width="2.6"/>
<text x="539.8" y="516.4" font-size="23.4"  textLength="52.8" lengthAdjust="spacingAndGlyphs" text-anchor="middle">1000</text>
<line x1="584.5" y1="483.3" x2="584.5" y2="487.8" stroke="#000" stroke-width="2.6"/>
<line x1="629.1" y1="483.3" x2="629.1" y2="492.3" stroke="#000" stroke-width="2.6"/>
<text x="629.1" y="516.4" font-size="23.4"  textLength="39.9" lengthAdjust="spacingAndGlyphs" text-anchor="middle">800</text>
<line x1="93.3" y1="33.9" x2="84.3" y2="33.9" stroke="#000" stroke-width="2.6"/>
<text x="76.7" y="41.8" font-size="24.2"  textLength="14.1" lengthAdjust="spacingAndGlyphs" text-anchor="end">0</text>
<line x1="93.3" y1="108.8" x2="84.3" y2="108.8" stroke="#000" stroke-width="2.6"/>
<text x="76.7" y="116.7" font-size="24.2"  textLength="14.1" lengthAdjust="spacingAndGlyphs" text-anchor="end">5</text>
<line x1="93.3" y1="183.7" x2="84.3" y2="183.7" stroke="#000" stroke-width="2.6"/>
<text x="76.7" y="191.6" font-size="24.2"  textLength="27.0" lengthAdjust="spacingAndGlyphs" text-anchor="end">10</text>
<line x1="93.3" y1="258.6" x2="84.3" y2="258.6" stroke="#000" stroke-width="2.6"/>
<text x="76.7" y="266.5" font-size="24.2"  textLength="27.0" lengthAdjust="spacingAndGlyphs" text-anchor="end">15</text>
<line x1="93.3" y1="333.5" x2="84.3" y2="333.5" stroke="#000" stroke-width="2.6"/>
<text x="76.7" y="341.4" font-size="24.2"  textLength="27.0" lengthAdjust="spacingAndGlyphs" text-anchor="end">20</text>
<line x1="93.3" y1="408.4" x2="84.3" y2="408.4" stroke="#000" stroke-width="2.6"/>
<text x="76.7" y="416.3" font-size="24.2"  textLength="27.0" lengthAdjust="spacingAndGlyphs" text-anchor="end">25</text>
<line x1="93.3" y1="483.3" x2="84.3" y2="483.3" stroke="#000" stroke-width="2.6"/>
<text x="76.7" y="491.2" font-size="24.2"  textLength="27.0" lengthAdjust="spacingAndGlyphs" text-anchor="end">30</text>
<line x1="93.3" y1="71.3" x2="88.8" y2="71.3" stroke="#000" stroke-width="2.6"/>
<line x1="93.3" y1="146.2" x2="88.8" y2="146.2" stroke="#000" stroke-width="2.6"/>
<line x1="93.3" y1="221.2" x2="88.8" y2="221.2" stroke="#000" stroke-width="2.6"/>
<line x1="93.3" y1="296.1" x2="88.8" y2="296.1" stroke="#000" stroke-width="2.6"/>
<line x1="93.3" y1="370.9" x2="88.8" y2="370.9" stroke="#000" stroke-width="2.6"/>
<line x1="93.3" y1="445.8" x2="88.8" y2="445.8" stroke="#000" stroke-width="2.6"/>
<rect x="844.3" y="33.8" width="530.9" height="449.5" fill="none" stroke="#000" stroke-width="2.6"/>
<line x1="844.3" y1="483.3" x2="844.3" y2="492.3" stroke="#000" stroke-width="2.6"/>
<text x="844.3" y="516.4" font-size="23.4"  textLength="52.8" lengthAdjust="spacingAndGlyphs" text-anchor="middle">2000</text>
<line x1="888.5" y1="483.3" x2="888.5" y2="487.8" stroke="#000" stroke-width="2.6"/>
<line x1="932.8" y1="483.3" x2="932.8" y2="492.3" stroke="#000" stroke-width="2.6"/>
<text x="932.8" y="516.4" font-size="23.4"  textLength="52.8" lengthAdjust="spacingAndGlyphs" text-anchor="middle">1800</text>
<line x1="977.0" y1="483.3" x2="977.0" y2="487.8" stroke="#000" stroke-width="2.6"/>
<line x1="1021.3" y1="483.3" x2="1021.3" y2="492.3" stroke="#000" stroke-width="2.6"/>
<text x="1021.3" y="516.4" font-size="23.4"  textLength="52.8" lengthAdjust="spacingAndGlyphs" text-anchor="middle">1600</text>
<line x1="1065.5" y1="483.3" x2="1065.5" y2="487.8" stroke="#000" stroke-width="2.6"/>
<line x1="1109.8" y1="483.3" x2="1109.8" y2="492.3" stroke="#000" stroke-width="2.6"/>
<text x="1109.8" y="516.4" font-size="23.4"  textLength="52.8" lengthAdjust="spacingAndGlyphs" text-anchor="middle">1400</text>
<line x1="1154.0" y1="483.3" x2="1154.0" y2="487.8" stroke="#000" stroke-width="2.6"/>
<line x1="1198.2" y1="483.3" x2="1198.2" y2="492.3" stroke="#000" stroke-width="2.6"/>
<text x="1198.2" y="516.4" font-size="23.4"  textLength="52.8" lengthAdjust="spacingAndGlyphs" text-anchor="middle">1200</text>
<line x1="1242.5" y1="483.3" x2="1242.5" y2="487.8" stroke="#000" stroke-width="2.6"/>
<line x1="1286.7" y1="483.3" x2="1286.7" y2="492.3" stroke="#000" stroke-width="2.6"/>
<text x="1286.7" y="516.4" font-size="23.4"  textLength="52.8" lengthAdjust="spacingAndGlyphs" text-anchor="middle">1000</text>
<line x1="1331.0" y1="483.3" x2="1331.0" y2="487.8" stroke="#000" stroke-width="2.6"/>
<line x1="1375.2" y1="483.3" x2="1375.2" y2="492.3" stroke="#000" stroke-width="2.6"/>
<text x="1375.2" y="516.4" font-size="23.4"  textLength="39.9" lengthAdjust="spacingAndGlyphs" text-anchor="middle">800</text>
<line x1="844.3" y1="33.8" x2="835.3" y2="33.8" stroke="#000" stroke-width="2.6"/>
<text x="827.7" y="41.7" font-size="24.2"  textLength="14.1" lengthAdjust="spacingAndGlyphs" text-anchor="end">0</text>
<line x1="844.3" y1="108.7" x2="835.3" y2="108.7" stroke="#000" stroke-width="2.6"/>
<text x="827.7" y="116.6" font-size="24.2"  textLength="14.1" lengthAdjust="spacingAndGlyphs" text-anchor="end">5</text>
<line x1="844.3" y1="183.6" x2="835.3" y2="183.6" stroke="#000" stroke-width="2.6"/>
<text x="827.7" y="191.5" font-size="24.2"  textLength="27.0" lengthAdjust="spacingAndGlyphs" text-anchor="end">10</text>
<line x1="844.3" y1="258.6" x2="835.3" y2="258.6" stroke="#000" stroke-width="2.6"/>
<text x="827.7" y="266.4" font-size="24.2"  textLength="27.0" lengthAdjust="spacingAndGlyphs" text-anchor="end">15</text>
<line x1="844.3" y1="333.5" x2="835.3" y2="333.5" stroke="#000" stroke-width="2.6"/>
<text x="827.7" y="341.4" font-size="24.2"  textLength="27.0" lengthAdjust="spacingAndGlyphs" text-anchor="end">20</text>
<line x1="844.3" y1="408.4" x2="835.3" y2="408.4" stroke="#000" stroke-width="2.6"/>
<text x="827.7" y="416.3" font-size="24.2"  textLength="27.0" lengthAdjust="spacingAndGlyphs" text-anchor="end">25</text>
<line x1="844.3" y1="483.3" x2="835.3" y2="483.3" stroke="#000" stroke-width="2.6"/>
<text x="827.7" y="491.2" font-size="24.2"  textLength="27.0" lengthAdjust="spacingAndGlyphs" text-anchor="end">30</text>
<line x1="844.3" y1="71.3" x2="839.8" y2="71.3" stroke="#000" stroke-width="2.6"/>
<line x1="844.3" y1="146.2" x2="839.8" y2="146.2" stroke="#000" stroke-width="2.6"/>
<line x1="844.3" y1="221.1" x2="839.8" y2="221.1" stroke="#000" stroke-width="2.6"/>
<line x1="844.3" y1="296.0" x2="839.8" y2="296.0" stroke="#000" stroke-width="2.6"/>
<line x1="844.3" y1="370.9" x2="839.8" y2="370.9" stroke="#000" stroke-width="2.6"/>
<line x1="844.3" y1="445.8" x2="839.8" y2="445.8" stroke="#000" stroke-width="2.6"/>
<rect x="90.2" y="563.1" width="539.8" height="449.2" fill="none" stroke="#000" stroke-width="2.6"/>
<line x1="90.2" y1="1012.3" x2="90.2" y2="1021.3" stroke="#000" stroke-width="2.6"/>
<text x="90.2" y="1045.4" font-size="23.4"  textLength="52.8" lengthAdjust="spacingAndGlyphs" text-anchor="middle">2000</text>
<line x1="135.2" y1="1012.3" x2="135.2" y2="1016.8" stroke="#000" stroke-width="2.6"/>
<line x1="180.2" y1="1012.3" x2="180.2" y2="1021.3" stroke="#000" stroke-width="2.6"/>
<text x="180.2" y="1045.4" font-size="23.4"  textLength="52.8" lengthAdjust="spacingAndGlyphs" text-anchor="middle">1800</text>
<line x1="225.1" y1="1012.3" x2="225.1" y2="1016.8" stroke="#000" stroke-width="2.6"/>
<line x1="270.1" y1="1012.3" x2="270.1" y2="1021.3" stroke="#000" stroke-width="2.6"/>
<text x="270.1" y="1045.4" font-size="23.4"  textLength="52.8" lengthAdjust="spacingAndGlyphs" text-anchor="middle">1600</text>
<line x1="315.1" y1="1012.3" x2="315.1" y2="1016.8" stroke="#000" stroke-width="2.6"/>
<line x1="360.1" y1="1012.3" x2="360.1" y2="1021.3" stroke="#000" stroke-width="2.6"/>
<text x="360.1" y="1045.4" font-size="23.4"  textLength="52.8" lengthAdjust="spacingAndGlyphs" text-anchor="middle">1400</text>
<line x1="405.1" y1="1012.3" x2="405.1" y2="1016.8" stroke="#000" stroke-width="2.6"/>
<line x1="450.1" y1="1012.3" x2="450.1" y2="1021.3" stroke="#000" stroke-width="2.6"/>
<text x="450.1" y="1045.4" font-size="23.4"  textLength="52.8" lengthAdjust="spacingAndGlyphs" text-anchor="middle">1200</text>
<line x1="495.0" y1="1012.3" x2="495.0" y2="1016.8" stroke="#000" stroke-width="2.6"/>
<line x1="540.0" y1="1012.3" x2="540.0" y2="1021.3" stroke="#000" stroke-width="2.6"/>
<text x="540.0" y="1045.4" font-size="23.4"  textLength="52.8" lengthAdjust="spacingAndGlyphs" text-anchor="middle">1000</text>
<line x1="585.0" y1="1012.3" x2="585.0" y2="1016.8" stroke="#000" stroke-width="2.6"/>
<line x1="630.0" y1="1012.3" x2="630.0" y2="1021.3" stroke="#000" stroke-width="2.6"/>
<text x="630.0" y="1045.4" font-size="23.4"  textLength="39.9" lengthAdjust="spacingAndGlyphs" text-anchor="middle">800</text>
<line x1="90.2" y1="563.1" x2="81.2" y2="563.1" stroke="#000" stroke-width="2.6"/>
<text x="73.6" y="571.0" font-size="24.2"  textLength="14.1" lengthAdjust="spacingAndGlyphs" text-anchor="end">0</text>
<line x1="90.2" y1="638.0" x2="81.2" y2="638.0" stroke="#000" stroke-width="2.6"/>
<text x="73.6" y="645.9" font-size="24.2"  textLength="14.1" lengthAdjust="spacingAndGlyphs" text-anchor="end">5</text>
<line x1="90.2" y1="712.8" x2="81.2" y2="712.8" stroke="#000" stroke-width="2.6"/>
<text x="73.6" y="720.7" font-size="24.2"  textLength="27.0" lengthAdjust="spacingAndGlyphs" text-anchor="end">10</text>
<line x1="90.2" y1="787.7" x2="81.2" y2="787.7" stroke="#000" stroke-width="2.6"/>
<text x="73.6" y="795.6" font-size="24.2"  textLength="27.0" lengthAdjust="spacingAndGlyphs" text-anchor="end">15</text>
<line x1="90.2" y1="862.6" x2="81.2" y2="862.6" stroke="#000" stroke-width="2.6"/>
<text x="73.6" y="870.5" font-size="24.2"  textLength="27.0" lengthAdjust="spacingAndGlyphs" text-anchor="end">20</text>
<line x1="90.2" y1="937.4" x2="81.2" y2="937.4" stroke="#000" stroke-width="2.6"/>
<text x="73.6" y="945.3" font-size="24.2"  textLength="27.0" lengthAdjust="spacingAndGlyphs" text-anchor="end">25</text>
<line x1="90.2" y1="1012.3" x2="81.2" y2="1012.3" stroke="#000" stroke-width="2.6"/>
<text x="73.6" y="1020.2" font-size="24.2"  textLength="27.0" lengthAdjust="spacingAndGlyphs" text-anchor="end">30</text>
<line x1="90.2" y1="600.5" x2="85.7" y2="600.5" stroke="#000" stroke-width="2.6"/>
<line x1="90.2" y1="675.4" x2="85.7" y2="675.4" stroke="#000" stroke-width="2.6"/>
<line x1="90.2" y1="750.3" x2="85.7" y2="750.3" stroke="#000" stroke-width="2.6"/>
<line x1="90.2" y1="825.1" x2="85.7" y2="825.1" stroke="#000" stroke-width="2.6"/>
<line x1="90.2" y1="900.0" x2="85.7" y2="900.0" stroke="#000" stroke-width="2.6"/>
<line x1="90.2" y1="974.9" x2="85.7" y2="974.9" stroke="#000" stroke-width="2.6"/>
<rect x="836.4" y="564.2" width="538.0" height="449.2" fill="none" stroke="#000" stroke-width="2.6"/>
<line x1="836.4" y1="1013.4" x2="836.4" y2="1022.4" stroke="#000" stroke-width="2.6"/>
<text x="836.4" y="1046.5" font-size="23.4"  textLength="52.8" lengthAdjust="spacingAndGlyphs" text-anchor="middle">2000</text>
<line x1="881.2" y1="1013.4" x2="881.2" y2="1017.9" stroke="#000" stroke-width="2.6"/>
<line x1="926.1" y1="1013.4" x2="926.1" y2="1022.4" stroke="#000" stroke-width="2.6"/>
<text x="926.1" y="1046.5" font-size="23.4"  textLength="52.8" lengthAdjust="spacingAndGlyphs" text-anchor="middle">1800</text>
<line x1="970.9" y1="1013.4" x2="970.9" y2="1017.9" stroke="#000" stroke-width="2.6"/>
<line x1="1015.7" y1="1013.4" x2="1015.7" y2="1022.4" stroke="#000" stroke-width="2.6"/>
<text x="1015.7" y="1046.5" font-size="23.4"  textLength="52.8" lengthAdjust="spacingAndGlyphs" text-anchor="middle">1600</text>
<line x1="1060.6" y1="1013.4" x2="1060.6" y2="1017.9" stroke="#000" stroke-width="2.6"/>
<line x1="1105.4" y1="1013.4" x2="1105.4" y2="1022.4" stroke="#000" stroke-width="2.6"/>
<text x="1105.4" y="1046.5" font-size="23.4"  textLength="52.8" lengthAdjust="spacingAndGlyphs" text-anchor="middle">1400</text>
<line x1="1150.2" y1="1013.4" x2="1150.2" y2="1017.9" stroke="#000" stroke-width="2.6"/>
<line x1="1195.1" y1="1013.4" x2="1195.1" y2="1022.4" stroke="#000" stroke-width="2.6"/>
<text x="1195.1" y="1046.5" font-size="23.4"  textLength="52.8" lengthAdjust="spacingAndGlyphs" text-anchor="middle">1200</text>
<line x1="1239.9" y1="1013.4" x2="1239.9" y2="1017.9" stroke="#000" stroke-width="2.6"/>
<line x1="1284.7" y1="1013.4" x2="1284.7" y2="1022.4" stroke="#000" stroke-width="2.6"/>
<text x="1284.7" y="1046.5" font-size="23.4"  textLength="52.8" lengthAdjust="spacingAndGlyphs" text-anchor="middle">1000</text>
<line x1="1329.6" y1="1013.4" x2="1329.6" y2="1017.9" stroke="#000" stroke-width="2.6"/>
<line x1="1374.4" y1="1013.4" x2="1374.4" y2="1022.4" stroke="#000" stroke-width="2.6"/>
<text x="1374.4" y="1046.5" font-size="23.4"  textLength="39.9" lengthAdjust="spacingAndGlyphs" text-anchor="middle">800</text>
<line x1="836.4" y1="564.2" x2="827.4" y2="564.2" stroke="#000" stroke-width="2.6"/>
<text x="819.8" y="572.1" font-size="24.2"  textLength="14.1" lengthAdjust="spacingAndGlyphs" text-anchor="end">0</text>
<line x1="836.4" y1="639.1" x2="827.4" y2="639.1" stroke="#000" stroke-width="2.6"/>
<text x="819.8" y="647.0" font-size="24.2"  textLength="14.1" lengthAdjust="spacingAndGlyphs" text-anchor="end">5</text>
<line x1="836.4" y1="713.9" x2="827.4" y2="713.9" stroke="#000" stroke-width="2.6"/>
<text x="819.8" y="721.8" font-size="24.2"  textLength="27.0" lengthAdjust="spacingAndGlyphs" text-anchor="end">10</text>
<line x1="836.4" y1="788.8" x2="827.4" y2="788.8" stroke="#000" stroke-width="2.6"/>
<text x="819.8" y="796.7" font-size="24.2"  textLength="27.0" lengthAdjust="spacingAndGlyphs" text-anchor="end">15</text>
<line x1="836.4" y1="863.7" x2="827.4" y2="863.7" stroke="#000" stroke-width="2.6"/>
<text x="819.8" y="871.6" font-size="24.2"  textLength="27.0" lengthAdjust="spacingAndGlyphs" text-anchor="end">20</text>
<line x1="836.4" y1="938.5" x2="827.4" y2="938.5" stroke="#000" stroke-width="2.6"/>
<text x="819.8" y="946.4" font-size="24.2"  textLength="27.0" lengthAdjust="spacingAndGlyphs" text-anchor="end">25</text>
<line x1="836.4" y1="1013.4" x2="827.4" y2="1013.4" stroke="#000" stroke-width="2.6"/>
<text x="819.8" y="1021.3" font-size="24.2"  textLength="27.0" lengthAdjust="spacingAndGlyphs" text-anchor="end">30</text>
<line x1="836.4" y1="601.6" x2="831.9" y2="601.6" stroke="#000" stroke-width="2.6"/>
<line x1="836.4" y1="676.5" x2="831.9" y2="676.5" stroke="#000" stroke-width="2.6"/>
<line x1="836.4" y1="751.4" x2="831.9" y2="751.4" stroke="#000" stroke-width="2.6"/>
<line x1="836.4" y1="826.2" x2="831.9" y2="826.2" stroke="#000" stroke-width="2.6"/>
<line x1="836.4" y1="901.1" x2="831.9" y2="901.1" stroke="#000" stroke-width="2.6"/>
<line x1="836.4" y1="976.0" x2="831.9" y2="976.0" stroke="#000" stroke-width="2.6"/>
<text x="217.0" y="545.0" font-size="31.6" textLength="289.5" lengthAdjust="spacingAndGlyphs">Wavenumber (cm<tspan font-size="19.0" dy="-12.0">-1</tspan><tspan dy="12.0">)</tspan></text>
<text x="967.9" y="545.0" font-size="31.6" textLength="285.6" lengthAdjust="spacingAndGlyphs">Wavenumber (cm<tspan font-size="19.0" dy="-12.0">-1</tspan><tspan dy="12.0">)</tspan></text>
<text x="230.5" y="1075.0" font-size="31.6" textLength="291.0" lengthAdjust="spacingAndGlyphs">Wavenumber (cm<tspan font-size="19.0" dy="-12.0">-1</tspan><tspan dy="12.0">)</tspan></text>
<text x="975.4" y="1076.0" font-size="31.6" textLength="289.6" lengthAdjust="spacingAndGlyphs">Wavenumber (cm<tspan font-size="19.0" dy="-12.0">-1</tspan><tspan dy="12.0">)</tspan></text>
<text transform="translate(48.3 328.7) rotate(-90)" x="0" y="0" font-size="34.8" textLength="140.4" lengthAdjust="spacingAndGlyphs">Time (min)</text>
<text transform="translate(792.5 331.0) rotate(-90)" x="0" y="0" font-size="36.2" textLength="140.6" lengthAdjust="spacingAndGlyphs">Time (min)</text>
<text transform="translate(42.0 857.3) rotate(-90)" x="0" y="0" font-size="36.8" textLength="140.5" lengthAdjust="spacingAndGlyphs">Time (min)</text>
<text transform="translate(786.6 863.5) rotate(-90)" x="0" y="0" font-size="36.9" textLength="141.2" lengthAdjust="spacingAndGlyphs">Time (min)</text>
<text x="27.0" y="60.7" font-size="42.5"  textLength="27.0" lengthAdjust="spacingAndGlyphs">A</text>
<text x="775.3" y="57.1" font-size="42.5"  textLength="31.0" lengthAdjust="spacingAndGlyphs">D</text>
<text x="31.5" y="586.7" font-size="42.5"  textLength="27.2" lengthAdjust="spacingAndGlyphs">B</text>
<text x="776.3" y="586.7" font-size="42.5"  textLength="27.0" lengthAdjust="spacingAndGlyphs">E</text>
<text x="30.0" y="1120.4" font-size="43.5"  textLength="33.0" lengthAdjust="spacingAndGlyphs">C</text>
<text x="774.5" y="1119.0" font-size="36.0"  textLength="24.8" lengthAdjust="spacingAndGlyphs">F</text>
<text x="242.2" y="194.8" font-size="20.6" textLength="68.2" lengthAdjust="spacingAndGlyphs" fill="#eef6ff">Bridge</text>
<text x="298.5" y="216.0" font-size="20.6" textLength="97.0" lengthAdjust="spacingAndGlyphs" fill="#eef6ff">Bidentate</text>
<text x="141.5" y="241.2" font-size="20.6" textLength="118.4" lengthAdjust="spacingAndGlyphs" fill="#eef6ff">N<tspan font-size="13" dy="5">2</tspan><tspan dy="-5">O</tspan><tspan font-size="13" dy="5">4</tspan><tspan dy="-5"> dimer</tspan></text>
<text x="373.6" y="251.6" font-size="20.6" textLength="96.4" lengthAdjust="spacingAndGlyphs" fill="#eef6ff">Bidentate</text>
<text x="342.6" y="283.8" font-size="20.6" textLength="66.2" lengthAdjust="spacingAndGlyphs" fill="#eef6ff">Nitrite</text>
<line x1="193.8" y1="250.0" x2="193.8" y2="482.0" stroke="#e4f4ff" stroke-width="2.6" stroke-dasharray="11.8 11"/>
<line x1="229.0" y1="316.0" x2="229.0" y2="482.0" stroke="#e4f4ff" stroke-width="2.6" stroke-dasharray="11.8 11"/>
<line x1="251.1" y1="293.0" x2="251.1" y2="482.0" stroke="#e4f4ff" stroke-width="2.6" stroke-dasharray="11.8 11"/>
<line x1="263.0" y1="275.0" x2="263.0" y2="482.0" stroke="#e4f4ff" stroke-width="2.6" stroke-dasharray="11.8 11"/>
<line x1="278.2" y1="245.0" x2="278.2" y2="482.0" stroke="#e4f4ff" stroke-width="2.6" stroke-dasharray="11.8 11"/>
<line x1="286.3" y1="209.5" x2="286.3" y2="482.0" stroke="#e4f4ff" stroke-width="2.6" stroke-dasharray="11.8 11"/>
<line x1="300.5" y1="263.0" x2="300.5" y2="482.0" stroke="#e4f4ff" stroke-width="2.6" stroke-dasharray="11.8 11"/>
<line x1="336.4" y1="219.0" x2="336.4" y2="482.0" stroke="#e4f4ff" stroke-width="2.6" stroke-dasharray="11.8 11"/>
<line x1="355.0" y1="294.0" x2="355.0" y2="482.0" stroke="#e4f4ff" stroke-width="2.6" stroke-dasharray="11.8 11"/>
<line x1="426.0" y1="257.0" x2="426.0" y2="482.0" stroke="#e4f4ff" stroke-width="2.6" stroke-dasharray="11.8 11"/>
<text x="1002.4" y="142.8" font-size="20.6" textLength="95.4" lengthAdjust="spacingAndGlyphs" fill="#111">Bidentate</text>
<text x="952.8" y="180.7" font-size="20.6" textLength="66.2" lengthAdjust="spacingAndGlyphs" fill="#111">Bridge</text>
<text x="853.5" y="226.8" font-size="20.6" textLength="115.9" lengthAdjust="spacingAndGlyphs" fill="#111">N<tspan font-size="13" dy="5">2</tspan><tspan dy="-5">O</tspan><tspan font-size="13" dy="5">4</tspan><tspan dy="-5"> dimer</tspan></text>
<text x="1068.7" y="260.5" font-size="20.6" textLength="65.6" lengthAdjust="spacingAndGlyphs" fill="#111">Nitrite</text>
<line x1="954.2" y1="262.0" x2="954.2" y2="481.0" stroke="#111" stroke-width="2.6" stroke-dasharray="11.5 11.3"/>
<line x1="970.1" y1="232.0" x2="970.1" y2="481.0" stroke="#111" stroke-width="2.6" stroke-dasharray="11.5 11.3"/>
<line x1="980.0" y1="186.0" x2="980.0" y2="481.0" stroke="#111" stroke-width="2.6" stroke-dasharray="11.5 11.3"/>
<line x1="1000.3" y1="191.0" x2="1000.3" y2="481.0" stroke="#111" stroke-width="2.6" stroke-dasharray="11.5 11.3"/>
<line x1="1040.4" y1="191.0" x2="1040.4" y2="481.0" stroke="#111" stroke-width="2.6" stroke-dasharray="11.5 11.3"/>
<line x1="1047.4" y1="145.0" x2="1046.5" y2="481.0" stroke="#111" stroke-width="2.6" stroke-dasharray="11.5 11.3"/>
<line x1="1054.5" y1="152.0" x2="1056.5" y2="481.0" stroke="#111" stroke-width="2.6" stroke-dasharray="11.5 11.3"/>
<line x1="1062.3" y1="232.0" x2="1063.5" y2="481.0" stroke="#111" stroke-width="2.6" stroke-dasharray="11.5 11.3"/>
<line x1="1085.4" y1="271.0" x2="1085.4" y2="481.0" stroke="#111" stroke-width="2.6" stroke-dasharray="11.5 11.3"/>
<text x="300.3" y="671.7" font-size="21.4" textLength="51.1" lengthAdjust="spacingAndGlyphs" fill="#111">1388</text>
<text x="383.5" y="670.5" font-size="21.4" textLength="52.0" lengthAdjust="spacingAndGlyphs" fill="#111">1359</text>
<line x1="358.0" y1="695.0" x2="339.2" y2="1008.0" stroke="#111" stroke-width="2.5" stroke-dasharray="11.5 11.3"/>
<line x1="358.6" y1="695.0" x2="366.7" y2="1008.0" stroke="#111" stroke-width="2.5" stroke-dasharray="11.5 11.3"/>
<line x1="379.1" y1="681.0" x2="366.9" y2="1008.0" stroke="#111" stroke-width="2.5" stroke-dasharray="11.5 11.3"/>
<line x1="380.0" y1="681.0" x2="392.5" y2="1008.0" stroke="#111" stroke-width="2.5" stroke-dasharray="11.5 11.3"/>
<text x="863.7" y="655.0" font-size="20.6" textLength="118.3" lengthAdjust="spacingAndGlyphs" fill="#111">N<tspan font-size="13" dy="5">2</tspan><tspan dy="-5">O</tspan><tspan font-size="13" dy="5">4</tspan><tspan dy="-5"> dimer</tspan></text>
<text x="990.3" y="664.1" font-size="20.6" textLength="97.5" lengthAdjust="spacingAndGlyphs" fill="#111">Bidentate</text>
<text x="943.1" y="706.7" font-size="20.6" textLength="67.4" lengthAdjust="spacingAndGlyphs" fill="#111">Bridge</text>
<text x="1063.0" y="621.6" font-size="21.4" textLength="46.0" lengthAdjust="spacingAndGlyphs" fill="#111">1386</text>
<text x="1125.0" y="617.0" font-size="21.4" textLength="45.0" lengthAdjust="spacingAndGlyphs" fill="#111">1358</text>
<line x1="931.0" y1="663.0" x2="931.0" y2="1010.0" stroke="#111" stroke-width="2.5" stroke-dasharray="11.5 11.3"/>
<line x1="953.0" y1="727.0" x2="953.0" y2="1010.0" stroke="#111" stroke-width="2.5" stroke-dasharray="11.5 11.3"/>
<line x1="971.5" y1="725.0" x2="971.5" y2="1010.0" stroke="#111" stroke-width="2.5" stroke-dasharray="11.5 11.3"/>
<line x1="991.0" y1="718.0" x2="991.0" y2="1010.0" stroke="#111" stroke-width="2.5" stroke-dasharray="11.5 11.3"/>
<line x1="1035.6" y1="677.0" x2="1035.6" y2="1010.0" stroke="#111" stroke-width="2.5" stroke-dasharray="11.5 11.3"/>
<line x1="1043.4" y1="668.0" x2="1043.4" y2="1010.0" stroke="#111" stroke-width="2.5" stroke-dasharray="11.5 11.3"/>
<line x1="1055.9" y1="667.0" x2="1055.9" y2="1010.0" stroke="#111" stroke-width="2.5" stroke-dasharray="11.5 11.3"/>
<line x1="1107.0" y1="630.0" x2="1096.7" y2="1010.0" stroke="#111" stroke-width="2.5" stroke-dasharray="11.5 11.3"/>
<line x1="1108.0" y1="630.0" x2="1113.2" y2="1010.0" stroke="#111" stroke-width="2.5" stroke-dasharray="11.5 11.3"/>
<line x1="1124.0" y1="623.0" x2="1112.2" y2="1010.0" stroke="#111" stroke-width="2.5" stroke-dasharray="11.5 11.3"/>
<line x1="1125.0" y1="623.0" x2="1136.8" y2="1010.0" stroke="#111" stroke-width="2.5" stroke-dasharray="11.5 11.3"/>
<text x="558.4" y="1272.8" font-size="16.2"  textLength="27.3" lengthAdjust="spacingAndGlyphs">450</text>
<text x="558.4" y="1300.3" font-size="16.2"  textLength="27.3" lengthAdjust="spacingAndGlyphs">400</text>
<text x="558.4" y="1327.2" font-size="16.2"  textLength="27.3" lengthAdjust="spacingAndGlyphs">350</text>
<text x="557.2" y="1354.4" font-size="16.2"  textLength="27.3" lengthAdjust="spacingAndGlyphs">300</text>
<text x="558.4" y="1381.2" font-size="16.2"  textLength="27.3" lengthAdjust="spacingAndGlyphs">250</text>
<text x="558.4" y="1409.7" font-size="16.2"  textLength="27.3" lengthAdjust="spacingAndGlyphs">200</text>
<text x="559.8" y="1440.8" font-size="16.2"  textLength="27.3" lengthAdjust="spacingAndGlyphs">150</text>
<text x="560.7" y="1475.2" font-size="16.2"  textLength="27.3" lengthAdjust="spacingAndGlyphs">100</text>
<text x="565.6" y="1503.0" font-size="16.2"  textLength="18.2" lengthAdjust="spacingAndGlyphs">50</text>
<text x="565.6" y="1528.3" font-size="16.2"  textLength="18.2" lengthAdjust="spacingAndGlyphs">30</text>
<line x1="89.9" y1="1538.3" x2="89.9" y2="1547.3" stroke="#000" stroke-width="2.4"/>
<text x="89.9" y="1572.9" font-size="23.4"  textLength="48.0" lengthAdjust="spacingAndGlyphs" text-anchor="middle">1800</text>
<line x1="144.2" y1="1538.3" x2="144.2" y2="1543.3" stroke="#000" stroke-width="2.4"/>
<line x1="198.4" y1="1538.3" x2="198.4" y2="1547.3" stroke="#000" stroke-width="2.4"/>
<text x="198.4" y="1572.9" font-size="23.4"  textLength="48.0" lengthAdjust="spacingAndGlyphs" text-anchor="middle">1600</text>
<line x1="252.7" y1="1538.3" x2="252.7" y2="1543.3" stroke="#000" stroke-width="2.4"/>
<line x1="307.0" y1="1538.3" x2="307.0" y2="1547.3" stroke="#000" stroke-width="2.4"/>
<text x="307.0" y="1572.9" font-size="23.4"  textLength="48.0" lengthAdjust="spacingAndGlyphs" text-anchor="middle">1400</text>
<line x1="361.2" y1="1538.3" x2="361.2" y2="1543.3" stroke="#000" stroke-width="2.4"/>
<line x1="415.5" y1="1538.3" x2="415.5" y2="1547.3" stroke="#000" stroke-width="2.4"/>
<text x="415.5" y="1572.9" font-size="23.4"  textLength="48.0" lengthAdjust="spacingAndGlyphs" text-anchor="middle">1200</text>
<line x1="469.8" y1="1538.3" x2="469.8" y2="1543.3" stroke="#000" stroke-width="2.4"/>
<line x1="524.1" y1="1538.3" x2="524.1" y2="1547.3" stroke="#000" stroke-width="2.4"/>
<text x="524.1" y="1572.9" font-size="23.4"  textLength="48.0" lengthAdjust="spacingAndGlyphs" text-anchor="middle">1000</text>
<line x1="578.3" y1="1538.3" x2="578.3" y2="1543.3" stroke="#000" stroke-width="2.4"/>
<line x1="632.6" y1="1538.3" x2="632.6" y2="1547.3" stroke="#000" stroke-width="2.4"/>
<text x="632.6" y="1572.9" font-size="23.4"  textLength="36.0" lengthAdjust="spacingAndGlyphs" text-anchor="middle">800</text>
<line x1="314.2" y1="1181.6" x2="314.2" y2="1537.0" stroke="#222" stroke-width="2.0" stroke-dasharray="10 5"/>
<line x1="317.8" y1="1155.0" x2="317.8" y2="1331.0" stroke="#222" stroke-width="2.0" stroke-dasharray="10 5"/>
<line x1="328.9" y1="1178.8" x2="328.9" y2="1537.0" stroke="#222" stroke-width="2.0" stroke-dasharray="10 5"/>
<line x1="614.2" y1="1270.3" x2="614.2" y2="1537.0" stroke="#222" stroke-width="2.0" stroke-dasharray="10 5"/>
<text x="294.1" y="1147.6" font-size="24.0" class="s" textLength="48.8" lengthAdjust="spacingAndGlyphs">1382</text>
<text x="322.6" y="1174.2" font-size="24.0" class="s" textLength="48.3" lengthAdjust="spacingAndGlyphs">1359</text>
<text x="263.8" y="1185.7" font-size="24.0" class="s" textLength="48.3" lengthAdjust="spacingAndGlyphs">1388</text>
<text x="593.4" y="1266.0" font-size="24.0" class="s" textLength="36.8" lengthAdjust="spacingAndGlyphs">834</text>
<text x="96.3" y="1120.5" font-size="25.0" class="s" textLength="66.1" lengthAdjust="spacingAndGlyphs">Fe<tspan font-size="17" dy="6">2</tspan><tspan dy="-6">O</tspan><tspan font-size="17" dy="6">3</tspan></text>
<text x="242.0" y="1599.5" font-size="28.5"  textLength="239.5" lengthAdjust="spacingAndGlyphs">Wavenumber(cm<tspan font-size="17" dy="-11">-1</tspan><tspan dy="11">)</tspan></text>
<text x="77.4" y="1390.8" font-size="29.5" class="s" textLength="189.8" lengthAdjust="spacingAndGlyphs" transform="rotate(-90 77.4 1390.8)">Intensity(a.u.)</text>
<text x="1322.0" y="1274.5" font-size="16.2"  textLength="27.3" lengthAdjust="spacingAndGlyphs">450</text>
<text x="1322.0" y="1306.6" font-size="16.2"  textLength="27.3" lengthAdjust="spacingAndGlyphs">400</text>
<text x="1322.0" y="1339.9" font-size="16.2"  textLength="27.3" lengthAdjust="spacingAndGlyphs">350</text>
<text x="1322.0" y="1366.3" font-size="16.2"  textLength="27.3" lengthAdjust="spacingAndGlyphs">300</text>
<text x="1322.0" y="1398.0" font-size="16.2"  textLength="27.3" lengthAdjust="spacingAndGlyphs">250</text>
<text x="1322.0" y="1426.5" font-size="16.2"  textLength="27.3" lengthAdjust="spacingAndGlyphs">200</text>
<text x="1323.4" y="1452.1" font-size="16.2"  textLength="27.3" lengthAdjust="spacingAndGlyphs">150</text>
<text x="1324.5" y="1481.6" font-size="16.2"  textLength="27.3" lengthAdjust="spacingAndGlyphs">100</text>
<text x="1329.5" y="1505.6" font-size="16.2"  textLength="18.2" lengthAdjust="spacingAndGlyphs">50</text>
<text x="1329.5" y="1526.7" font-size="16.2"  textLength="18.2" lengthAdjust="spacingAndGlyphs">30</text>
<line x1="835.7" y1="1537.6" x2="835.7" y2="1546.6" stroke="#000" stroke-width="2.4"/>
<text x="835.7" y="1572.0" font-size="23.0"  textLength="44.8" lengthAdjust="spacingAndGlyphs" text-anchor="middle">1800</text>
<line x1="889.9" y1="1537.6" x2="889.9" y2="1542.6" stroke="#000" stroke-width="2.4"/>
<line x1="944.0" y1="1537.6" x2="944.0" y2="1546.6" stroke="#000" stroke-width="2.4"/>
<text x="944.0" y="1572.0" font-size="23.0"  textLength="44.8" lengthAdjust="spacingAndGlyphs" text-anchor="middle">1600</text>
<line x1="998.2" y1="1537.6" x2="998.2" y2="1542.6" stroke="#000" stroke-width="2.4"/>
<line x1="1052.3" y1="1537.6" x2="1052.3" y2="1546.6" stroke="#000" stroke-width="2.4"/>
<text x="1052.3" y="1572.0" font-size="23.0"  textLength="44.8" lengthAdjust="spacingAndGlyphs" text-anchor="middle">1400</text>
<line x1="1106.5" y1="1537.6" x2="1106.5" y2="1542.6" stroke="#000" stroke-width="2.4"/>
<line x1="1160.7" y1="1537.6" x2="1160.7" y2="1546.6" stroke="#000" stroke-width="2.4"/>
<text x="1160.7" y="1572.0" font-size="23.0"  textLength="44.8" lengthAdjust="spacingAndGlyphs" text-anchor="middle">1200</text>
<line x1="1214.8" y1="1537.6" x2="1214.8" y2="1542.6" stroke="#000" stroke-width="2.4"/>
<line x1="1269.0" y1="1537.6" x2="1269.0" y2="1546.6" stroke="#000" stroke-width="2.4"/>
<text x="1269.0" y="1572.0" font-size="23.0"  textLength="44.8" lengthAdjust="spacingAndGlyphs" text-anchor="middle">1000</text>
<line x1="1323.1" y1="1537.6" x2="1323.1" y2="1542.6" stroke="#000" stroke-width="2.4"/>
<line x1="1377.3" y1="1537.6" x2="1377.3" y2="1546.6" stroke="#000" stroke-width="2.4"/>
<text x="1377.3" y="1572.0" font-size="23.0"  textLength="33.6" lengthAdjust="spacingAndGlyphs" text-anchor="middle">800</text>
<line x1="1059.1" y1="1165.0" x2="1059.1" y2="1536.0" stroke="#222" stroke-width="2.0" stroke-dasharray="10 5"/>
<line x1="1064.3" y1="1135.3" x2="1064.3" y2="1287.0" stroke="#222" stroke-width="2.0" stroke-dasharray="10 5"/>
<line x1="1074.1" y1="1165.0" x2="1074.1" y2="1536.0" stroke="#222" stroke-width="2.0" stroke-dasharray="10 5"/>
<line x1="1358.5" y1="1258.1" x2="1358.5" y2="1536.0" stroke="#222" stroke-width="2.0" stroke-dasharray="10 5"/>
<text x="1040.6" y="1123.8" font-size="24.0" class="s" textLength="48.9" lengthAdjust="spacingAndGlyphs">1380</text>
<text x="1010.7" y="1157.6" font-size="24.0" class="s" textLength="49.3" lengthAdjust="spacingAndGlyphs">1386</text>
<text x="1067.9" y="1153.8" font-size="24.0" class="s" textLength="49.0" lengthAdjust="spacingAndGlyphs">1358</text>
<text x="1337.1" y="1255.0" font-size="24.0" class="s" textLength="37.5" lengthAdjust="spacingAndGlyphs">835</text>
<text x="843.6" y="1125.7" font-size="25.0" class="s" textLength="134.0" lengthAdjust="spacingAndGlyphs">Ni-Fe<tspan font-size="17" dy="6">2</tspan><tspan dy="-6">O</tspan><tspan font-size="17" dy="6">3</tspan><tspan dy="-6">-20</tspan></text>
<text x="999.5" y="1605.0" font-size="28.5"  textLength="239.0" lengthAdjust="spacingAndGlyphs">Wavenumber(cm<tspan font-size="17" dy="-11">-1</tspan><tspan dy="11">)</tspan></text>
<text x="828.6" y="1404.0" font-size="29.5" class="s" textLength="193.5" lengthAdjust="spacingAndGlyphs" transform="rotate(-90 828.6 1404.0)">Intensity(a.u.)</text>
<g fill="none" stroke-width="2.3" stroke-linejoin="round">
<path d="M89.9 1278.6l4.4 1.2 5.5-2.1 2.9 1 2.5-1 3.5-.7 2.4 1.8 2 .7 2.5-.9 1.5 .4 1.9-1 2 1.1 8.4-.9 11.9 .9 3.9-.5 3 .6 2.9-1.3 6.5 1.6 1.9-1.1 3 .5 3.9-1.2 2 1 3-.6 2 .6 2.9-1 5.9 1.5 3.5-1.4 2.5-.5 7.4 0 2 .7 1.9-.9 5 0 2.4-.9 6 .8 3.4-1.2 3 .9 2-.9 1.9 .3 3-.6 2 .6 4.4-1.2 2.5 0 2-1 3.9 .6 4-1.1 1.9 .2 2.5-1.4 5.9 .4 3-1.8 3.4-1 3 .1 2.5-1.8 2.4-.3 2-1.9 2.5-.4 2-2 1.9-.7 4-3.5 3.4-2.1 5-5.9 4.9-7.5 4-8.1 3.9-9.9 13.4-40.5 2.4-4.3 1.5-1.1 3.5 2.4 2.4 4.7 10.4 33.1 4 11.1 1.9 3.6 2.5 6.5 5.4 8.8 2.5 3.5 8.4 8.5 4.9 2.2 2.5 1.7 2 .4 2 1.2 4.4 1.1 3.5 2.1 2.4-.1 3.5 1.7 8.4 .5 3.4 1.4 2.5-.4 2 .8 3.4 .2 1.5 .7 3-.4 3.9 .9 2-.2 1.5 .8 3.4-.5 2.5 1 2.5 .3 2.9-.9 3.5-.3 4 1.6 3.4-1.4 2 1 2.5-.2 2.4 .8 2-.6 2.5 .5 2.9-.9 2.5 1.1 5.9 .8 3-.9 2.5 .9 1.9-.8 3.5 .3 1.5-.4 3.9 .8 2-.6 2 .5 1.9-.3 4.5 1.1 1.5-.5 2.9-.1 1.5 .5 2-1.3 6.4 1.5 3.5-.6 2.4 .8 6.5-1.5 2.9 1.3 2-.7 2.5 .9 5.4-1.2 2 .6 2.9-.5 1.5 .6 2.5-.7 2.9 .9 1.5-.4 1.5 .3 2-.7 2.9 .8 3-.8 3.5 1.4 2.4-.9 5 .4 6.9-.6 2.9 1 7-.7 2.4-.9 2 1.3 3 .2 1.9-1.3 2.5 1.2 2-.7 4.4 .5 7.4-1.4 3.5 .6 5.4-2.6 3 1.9 1.5 0 1.9 1.1 2.5-.4 2.5 .9 2.5-.1 2.4-1.2 2-.4" stroke="#f2302c"/>
<path d="M89.9 1304.5l3.5 1.6 3.4-1.4 1.5 .5 3.5 .1 1.4 .6 2-1.3 2.5 1 2.9 .4 2-1.5 1.5 1.4 1 .3 2-1.2 3.4 .4 2.5-.5 2.5 .4 1.9-1.2 2.5 1.1 2-.8 1.5 .7 2.4-.8 2 .6 1.5-.4 2 .8 1.9-.3 2 .3 2.5-1.1 2 .6 3.4 .2 1.5-.4 3.4 .5 1.5-.5 3.5 .2 2.5-1 2.4 1.1 4-1.1 3.9 1.1 2.5-.8 2.5 .8 3.4-.9 4.5 .3 2.9-.6 2.5 1 2.5-1.1 2.4 .5 3-1.1 4.4 1.1 4-.9 2 .5 3.9-1.4 3 .8 2.4-.6 2 .7 2-.9 3-.4 1.9 .8 1.5-.6 5.4 0 2.5-1.4 3 .6 5.4-1.4 3.5 .2 1.9-.6 2.5-.1 2.5-1.6 3.9-.4 4-1.7 2.5-.1 7.4-4.1 2.4-2 2-.6 2-1.3 10.8-13.3 6-12.4 5.9-15.9 9.9-32.3 1-1.8 3.4-3.7 1-.5 1.5 1.2 4.9 10.3 11.4 37.4 4.4 10.1 6 10.6 1.9 2.2 3 4.9 5.4 4.5 2 1.3 3 1.1 1.9 2.2 3 1 2.5 1.8 4.4 1.1 3 1.4 1.9 0 2 1.8 2.5-.1 2.5 1.2 2.4-.6 2.5 .7 6.4 .7 2-.6 2.5 2.5 1 .4 2.9-1.3 5 1.3 2.4-1.5 3 1.7 2-.5 1.4 .7 1.5-.2 2.5 .6 2-.5 6.9 .9 2-.6 1.4 .4 1.5-.3 3 1.1 4.4-1.1 3 1.3 2.5-.7 9.3 1.1 2-1.1 8.4 1 3.5-.2 1.4 .4 3-1 2.5 1.3 2.5-.8 3.9 .7 1.5-1 4.9 1.5 4-.7 3.4 .8 6-1.1 1.4 .6 3.5-.6 2 .7 2.4-.5 6 1.1 2.9-.3 1.5 .6 2-.8 1.5 .2 1.4-.4 6.5 1.3 1.9-1.5 3.5 .9 3-1.2 1.9 1 2-.3 2.5 .7 3.4-1.2 2.5 .5 3-.6 1.9 .2 3 1 3-.9 1.4 .8 2 .1 5.9-1.3 3 .8 2-.4 5.4 .7 10.4-1.6 2.5 .4 1.9-.5 4 .1 2.9-.8 1.5-1.2 5 1.8 4.9 .4 4-.3 1.9 .6 2.5-.2" stroke="#ee6a30"/>
<path d="M89.9 1331.9l2-.9 2.4 .3 2-.7 5.5 .8 1.9-1.1 2 1.3 3.5-1.3 1.9 .4 5.5-1 3.4 1.6 3-.5 2-.8 4.9 .8 2-.5 3.4 .3 2.5-.6 4.4 .2 4 1.2 2.5-1.4 2.4 .7 3-.5 4.4 .7 2-.9 2 .4 3.4-.5 2 .7 2-.7 2 .8 2.9-.5 2-1.2 2 .8 3.4 .1 1.5-.6 2.5 .8 2.5-.3 1.9 .4 2.5-1.5 1.5 .8 3 .3 1.9-.6 5.5 .2 2.4-.6 1.5 .5 2.5-1 3.4 1.2 2-.2 2 .5 6.9-2 3.9 .1 2.5 .9 2-1.2 3-.7 4.9 .2 5.4-1.3 2 .2 1.5-.7 3.4-.2 2.5-1.4 2.5 .5 2-.9 2.4 0 2-1.2 2.5 .9 1.9-1.9 2-.5 2-1.6 3-1.3 7.4-5.5 3.4-3.4 3.5-5.4 2.4-2.9 7-13.8 5.4-15.8 8.4-28.1 2.9-5.5 2-2.1 1 .4 2.5 2.4 2 3.6 3.9 11.8 4.9 18.3 4.5 12.4 4.4 10.2 6 10.6 3.4 4.4 2 1 2 2.6 2.9 2.8 6 3.9 3.4 .7 3 2.7 2.4-.3 4 2.1 2.5 .1 5.9 1.8 6.4 .8 3 1.4 1.5-.6 1.4 0 2.5 1.3 3.5-1.4 2.4 .6 3 1.6 3-1 1.9 .9 3.5 .5 3.4-1.1 2.5 1.7 4-.3 1.9 .7 2-.5 1.5 .5 3 .2 2.4-.6 7.9 1.1 2-.7 2 0 2 .7 4.4-.1 2 1 3.4-1.5 11.9 1.7 3.9-.3 2.5-1 4.9 1.2 2.5-1 3 1.5 5.9-1 3 .7 2.4-1 4.5 1.9 7.9-.9 1.9 .5 2.5-1.4 3.5 .7 2.4-.5 2.5 .7 5.4-1.1 2.5 1.5 3.5-.7 2.4 1.1 2 0 2-.7 3.9 .8 2.5-.8 2.5 .6 2-.5 4.4 0 2 .1 2.4 .8 3-1.1 4 .9 1.9-.5 2.5 .5 2-.4 4.9 .8 1.5-.6 3.9 .1 1.5-.8 3 .3 2-.4 5.9 .5 2-.3 2.4 1.1 5.5-2.5 1.9-2.4 1-.4 1 .3 2 2.3 3 1.9 1.4-.5 6.9 1 4-.7" stroke="#f2b21e"/>
<path d="M89.9 1355.1l4-1 3.4 1.2 2.5-.5 1.5 .4 1.4-.5 2 1 2-.8 2.5 .2 1.9-.4 2 .8 2.5-.9 3.9 .6 4-.6 2 .9 1.4-.6 3.5 .3 2.5-.8 1.9 .6 4.5-.9 2 .6 2.9 0 1.5 .8 2-.6 2 .6 2.9-1.1 4 .5 3.4-.2 2-.6 1.5 .4 1.5-.2 2.9 .9 3-1 4.4-.4 5 .1 3.9 .9 4-1.3 3.4 .2 3 1.5 2-1.1 3.4-.6 4-.2 3.9 .8 9.4-1.3 2.5 .7 2.9-.9 4.5 1.3 2.4-1.1 5.5-.8 2-1.5 3.9 1.4 3.5-1.1 4.4-.6 7.9 .3 2.5-1.7 3.4-1.3 4-.7 2-1.1 2.9-.3 3.5-2 2.4-.9 3-2.5 2-.9 2.5-2.9 3.4-2.6 4-5 2.9-6.3 3.5-5.7 2-4.8 7.9-23.6 5.4-18.5 3-5.8 2.4-1.5 1.5 .3 1 1.2 3 6.5 2.4 7.1 5.9 21.1 3.5 9.6 4.9 12.2 5.5 9.6 5.9 7.3 2.5 2 1.9 .9 4 2.9 3 1.1 1.9 1.8 4 .7 2 1.5 2.4 .2 2.5 1.6 3-.4 1.9 .7 2-.3 2 1.7 2.5-.6 3.9 1.7 2.5-.7 2 1.2 1.9-.6 1.5 1.1 3 .7 3.4-.9 4 1.1 11.3 .9 4 .2 2.5-.9 1.9 1 2-.8 2 1.2 2.5 .4 2.4-.7 2 .6 1.5-.7 7.9 1.4 2-.7 3.4 .5 2-.6 7.9 .3 2.9-.5 3 .9 4.9-.6 4.5 1.3 2-.8 2.9 .8 4-.9 2.9 .7 2.5-.4 3 1.2 2.4-.7 4.5 .3 2-.6 1.9 1 2-.1 4-1.5 2.9 1.4 5-.8 2.4 .7 2.5-.2 4 1.1 5.9-.5 6.4 0 2.5 .5 9.4-.7 2.4 1.4 7.9-1.1 5 .8 4.4-1.3 2.5 1 3.9-.1 3 1 2-1.3 10.3 1.4 3-.6 2-1.3 2.4 .8 4-.2 3-4.2 .9-.5 1.5 .6 2 1.8 2 2.6 4.4 1 2-.6 2 1 3.9-.9 1.5 .4" stroke="#a6e21c"/>
<path d="M89.9 1381.1l4.9-.2 4 .4 3.9-.5 4-1.8 5.4 .7 2.5 1.5 2-.9 2.4 .9 3.5-.4 1.5 .5 1.9-.5 3 .6 2.5-1.4 1.5 .5 1.9-.3 2 .6 2-.6 2 .6 2.9-.2 2-.8 2.5 1.3 3.4-.8 6.9 1.1 4-1.7 3.9 .9 4.5 .3 2.5-.9 4.4-.4 3 .9 1.9-.9 2 .7 3.5-.7 6.4 1.2 2.5-1.5 5.4 .8 3-.8 2.4 1 4-1.1 3.4 .7 2.5-1.2 2.5 0 1.4 .6 2-1.3 2 .8 1.5-.4 2.4 .8 2.5-1.4 2 .7 2.5-.6 2.9-.1 2 .6 3-1.2 2.4 .5 2.5-1.6 4.9 .2 2-.8 3.5-.2 1.9-1.8 4-.6 4.9-1.8 2.5-2.3 3-1.9 1.9-.7 7-6.2 7.4-11.9 3.4-7.3 15.8-39.9 1.5-2.3 3-2.4 2.9 2.4 1.5 2.2 12.8 39.7 3 6.9 5 9.3 2.4 2.4 6.4 8.3 2 1 2.5 2.1 2.9 .7 1.5 1.3 2 .1 2.5 2.2 2.4 .1 3.5 1.1 2.5-.1 3.9 2.1 2 .2 1.5-.4 1.9 .9 2.5 .3 2-.4 2.5 1 4.4 .9 2 1.1 2.5-1.9 1.4 1 2.5 0 2.5 1.3 2.4-.8 2 1.1 2.5-1 2.5 .6 3.9-.1 5.4 .8 4-.2 2.5 .9 4.4-.3 2.5-1.1 2.9 1.5 2.5-.4 2.5 1.1 5.4-1.5 4.4 1.6 3.5-.7 4.9 1.3 2.5-.7 1.5 .6 2-1.2 2.4-.4 2 .3 2 1 4.4 .4 1.5-.5 2 .7 3.9-.8 5 .7 4.9-.4 1.5 .7 2.5 .2 3.9-.8 5.4 1 2.5-1.2 2.5 .9 2-.9 1.9 .8 2.5-.6 2 .6 2-.2 4.9 .8 15.3-.4 3.5 1 3.4-1.7 4.5 1.2 3.4 .1 3-.5 2 1 7.9-.6 1.4 1 3-1.5 2 .7 2.4-.4 2 .8 2.5-.6 2 .6 4.4-.6 5.4 .8 2-.6 4 .2 3.4-1.2 3-.2 3.4-5.1 1-.7 3 4.7 3 2.1 2.4-.1 3 1.8 2-.4 2.4-1.2 2.5 .3" stroke="#22df2c"/>
<path d="M89.9 1410.8l4 0 4.9-2.1 3.9 .8 5-1.8 3.9 1.5 3-.1 2 1 2.9-.7 6.4 1.5 4.5-1.4 2.5 .9 2.9-1.4 2.5 1.8 2-.7 2.9-.1 2-.6 4.9 1.4 3-1.1 2 .7 2.9-1 2 .7 4.5-.3 3.4 .7 2.5-1.2 4.4 1.2 2-.9 1.5 .4 2.5-.8 3.4 .3 1.5 .8 4.4-1.7 4 .7 1.5 .8 3.9-.6 2.5 .5 2-1 2.4 1.1 1.5-.4 1.5 .3 4.9-1.5 2 .7 7.9 .3 5.9-.4 3.5-1.7 2.5 .8 1.9-.4 4 .5 3.5-1 4.4-.2 2-.8 2.4 .9 2-1 6.9-1 5-2.1 4.9-.2 2.5-2.3 2.4-.9 2.5-2.2 4-2.2 5.4-6.1 4.9-8.5 11.9-27.7 5.4-8.1 3.5-3.7 4.4-6.2 2-3.4 2.5-1.6 2.9 3.7 3 7.9 6.4 24.4 4.5 12.8 6.4 12.2 8.9 9.1 1.9 .3 2 1.5 2.5 .3 2 1.4 3.4 .6 2.5-.3 5.4 3.2 3.5 .8 6.9 0 2.5 1.3 7.9 0 2.4 1 2-.7 5.9 1.7 5.5-.8 1.9 .8 2-.7 4.4-.1 4 .9 10.4-.1 2.4 .7 10.9 0 2 .7 2.4-1.1 3 .9 4.5-.3 2.4 1 3.5-.8 2 .4 2.4-.9 7.9 .9 2-.4 3.5 .8 3.4-.2 3 .6 3.9-1.1 2 .8 2 .1 1.5-.6 1.9 .7 2-1.2 2 .8 2-.1 1.9 1 2-1 2.5 .7 4.9 .2 6.4-.4 2.5-.7 2 .8 2.4-.5 4.5 1.3 3-1 2.4 .7 6.9-.1 2 .8 3.5-.6 4.4 1.3 2.5-1 2 .6 3.9-.7 3 .9 3.4-.3 2.5 .4 1.5-.4 2.4 .2 2.5-.9 3.5 .1 2.4 .8 3.5-.8 4 1.6 4.9-.9 3.4 .7 6-4 2.4-3.9 1-.6 1 .9 2.5 4.4 3.4 2.7 4 .6 2-.2 2.9 1 2.5-.8" stroke="#2ee0c0"/>
<path d="M89.9 1439.5l4.4-1.3 2.5 .8 2-.7 3.4 .1 5.5-3 2.4 1.7 3.5 .6 2 1.2 1.5 .1 5.4-.8 2.5 .7 1.9-.4 6.5 .5 1.4-.6 3 0 2 .7 2-.6 1.4 .3 1.5-.3 2.5 .7 3.9 .1 2-1.2 11.4 .7 2.4-.6 2 .6 4.5-.3 2.4-.7 3 .6 2 1.1 2.9-1.8 3 .4 2-.8 2.4 .2 1.5 1.1 2-.7 3.4 .2 3-.8 2 .8 4.4 .2 2-.6 5.4-.1 4.5-1 2.4 .3 3-.7 3 .6 1.9-.6 1.5 .3 2.5-1 3.5 .5 2.4-.4 2.5 .3 6.4-1.3 2 .2 2-.4 2.9 .6 2.5-2 5.9-1.5 2 0 12.3-4.5 2-.2 2-1.8 1.5 0 1.5-1 10.3-11.2 3-6.3 3-3.9 2.9-5.8 4.5-7.2 5.9-6.5 2.5-3.8 6.4-16.5 1.5-2.7 .9-.5 2 1.3 1 2.4 8.4 34.6 3.5 10.1 3.4 7.5 5 6.5 2.9 1.4 5.9 5.3 3 .7 2.5 2.3 2.9 .1 3.5 1.7 4.9 .9 4 1.5 5.4-.1 6.4 2.1 8.9-.1 3 .8 3.4 .3 3-.8 6.4 1.6 2.5-.6 2 1 2.4-.3 2 .9 3-.5 2.4 .7 2.5-.6 2 .7 2-.6 2.9 1 5.5-1 1.9 .9 4 .1 1.5 .7 2.4-1 2.5 .7 1.5-.6 2.5 .5 1.9-.7 2 .8 2.5-.4 1.9 .7 4.5-.2 1.5 .6 1.9-.4 2 .4 3-1 2.5 .8 2.4-.5 2 .5 3.5-.3 5.4 1.7 3.9-1 5 .8 2-1 1.9 .8 5 .8 2.4-1.1 4.5 .2 2 .9 3.4-.9 3 1 2.4-.9 5 .5 2.5 .8 3.4-1.6 2.5 1.6 4.4-.4 4.5 1.6 1.9-1.4 2-.3 3.5 1.2 2.9-1.1 2.5 .6 4.4-.9 3 1.3 2 0 1 .5 1.9-.9 2 .4 2-.3 2.5 .8 1.9-.7 2.5 1.5 2-.6 2 0 1.9-.9 2 .9 1.5-.2 1.5 .8 3.9-2.5 2.5 .2 1.5-1.6 2.9-6.8 1-1 3 6.6 2.5 3.3 6.9 1.4 3.4-.2 2.5 1.6" stroke="#22b0f0"/>
<path d="M89.9 1472.3l4.9 .6 2-1.2 2 .5 3-.9 1.4-.8 2-2.3 1.5-1.1 2 .7 4.4 4.5 3.5-1.2 1.9 1.4 2-.3 2 .8 2.5-1.1 5.4 .8 3-.6 5.9 .5 2.9-.8 4.5 1.1 6.4-1.3 2.5 .8 2.9-.4 5.5 .7 2.4-.9 3 .8 4.9 .1 2-1.1 2.5 .9 3.9-1.2 2.5 .9 3.5-.4 2.4-.9 5 1 2.9-.9 5.5 .5 1.9-.7 3.5-.1 3.5 .4 1.4 .7 5-2.1 2.4-.2 2.5 1.4 2.5-1.2 2 .2 3.4-.8 2 .4 2.9-.7 2.5 .5 5-1.6 2.4-.2 2.5 .6 2.5-.8 3.4 0 2.5-1.4 10.4-2.7 1.9-1.3 2-.5 1.5-1.4 4.4-1.4 2.5-1.4 4-4.3 1.9-.8 3-2.7 3.5-5.1 1.9-1.7 13.4-24.5 2.4-2.4 2.5-1.2 4.9-4.4 2-2.6 2.5-6.3 3.4-13.3 1.5-1.8 1 .6 .5 1 1 4 4.9 29.6 2 9.2 2.5 8.5 3.4 8 5.5 7.8 2.4 1.7 4 3.8 2 1 2.4-.1 3 3.4 2.5 .2 2.4 1.5 2.5 .3 3 1.4 5.4 .4 1.5 1 2.9 .9 2.5-.6 4.9 1.5 3-.4 2.5 1.6 3.4-.4 2 .6 3.5-.3 2.4 .9 2.5-.2 2 .4 1.9-.6 5 1 2.5-.7 3.9 .7 2.5-.6 2.4 1 4.5 0 1.5 .6 6.4-.4 2.5 1.8 1.9-.9 2.5-.4 2.5 1 1.9-.8 4 .9 4.9-.4 2 .8 2-.4 6.4 .2 2-.4 3.9 .8 7.9-.3 2.5 .6 2-.7 3.9-.2 2 .7 6.9 .1 2 .7 4.4-1.1 3 1.5 3-1 3.9 1.4 3-.8 3.4 .8 3-.9 4.9 1.1 2-.6 3 1.1 2.9-1.5 5 1.6 4.9-.5 1.5 .3 2-.6 3.9 1.1 2-.2 2 .5 1.9-.4 4 .9 2.5-1.1 4.4-.1 3 2 4.9-1.2 6.4-.1 6 .8 1.4-.5 2 .4 2-.7 1.5 .3 3.9-.4 1-.4 2.5-2.6 2.9-4.2 1 .6 3 4.6 2.5 2.7 4.4 1.8 2-.9 2.4 .6 2 1.3 1.5 .1" stroke="#3462e6"/>
<path d="M89.9 1500.9l2.5-1.5 4.4 .4 2-1.7 2.5 .9 4.9-4.6 1.5-.8 1 .5 1.9 2.5 2.5 1.5 3.5 .9 1.9-.1 2.5 1.3 2.5-1.5 2.9 .4 1.5 .8 3-1.1 2 .6 2.4-.5 2.5 .7 7.4-.6 2.5 .9 3.9-.4 4.5-1.3 2.9 1.4 7.4-.6 6.5 .9 5.4-1.6 3 .6 1.4-.3 2 .9 4 .4 5.9-1.5 5.9 .1 2 .7 1.5-.5 1.9 1 6.5-2.1 1.9 .6 2.5-.7 2.5 1.2 2.9-.9 3.5 0 4.9-.9 2.5 0 2.5 .8 2.9-1.3 2 .2 2.5-.8 3.9 .8 2-.7 3-.2 3.4-1.3 5 .1 2.4-1.5 2.5 0 4.4-1.3 2.5-1.8 9.4-3.5 7.4-6.3 7.4-10.5 7.4-15.1 3-7.3 2.9-5 5-1.6 1 .3 2.4 2.5 3.5-1.3 1.5-3.1 1-3.7 3.4-18.2 1-2.7 .5-.2 1 2.1 1 5.2 3.4 27 2.5 15.1 2 7.4 3.4 7.5 4.5 6.8 4.9 3.5 2 2 6.9 3.3 2 .1 2 1.4 1.9 .1 1.5 .7 2 0 2.5 2 2.4-.2 4 .8 2.4-.9 3.5 1.1 2.5 0 1.5 .8 2.4-.5 2.5 1.3 6.4 .2 5 1 4.9-.6 3.4 1.3 2-.7 3 0 4.9 1.1 2-.4 2 .6 1.9-.3 2 .7 3.5-.9 4.9 .7 2-.6 3.9 .4 2-.4 3.5 1.1 2.4-.5 2.5 .9 3.5-1.2 1.9 .9 3 .1 2 1 2.5-1.4 1.9 .5 4-.2 2.9 1.2 5.5-.8 2 .7 1.9-.3 2.5 .5 1.5-.8 2 .5 1.4-.5 4.5 .9 2.9 .2 3.5-.9 3.5 1.4 2.4-1.1 3-.2 2 1.1 3.4 .4 2.5-1 2.5 .4 2.4 1.1 1.5-.1 2-1 2.9 1 3.5-1.5 1 .3 2 1.6 1.9-.6 5.5 .7 2.4-.5 2 .8 2.5-.8 4.9 .9 3.5-.7 4.9 1 3 .2 2-.7 3.4 .8 5.9-.3 2.5 .5 4-.3 3.9 .7 2.5-.3 3.4 .8 3-.9 3 .5 1.9-1 2.5-.3 2.5-2.1 3.4-4.9 1 .9 2.5 4.9 3.9 2.3 3.5 1 2-.2 1.9 1.1 3.5-1.1" stroke="#4a2ce8"/>
<path d="M89.9 1523.5l6.4-1 3 1 7.4-.3 2-.9 2.4 1.1 2-.2 2 .5 2.5-1.1 1.9 .3 2-.7 4 1.3 2.4-1 6.4 .3 2-.9 1.5 0 5.9 1 2.5-.4 3.5 1 1.4-.2 2-1.1 2.5 .1 3.4 1.6 3.5-.7 2-.9 2.9 1.2 3.5-1.4 2 .5 7.9 .6 4.9-.2 1.5 .6 2.9-1.4 5.5 .6 3.4-.7 2 .6 2-.4 3.4 1.3 2-.9 2-.2 2 0 2.9 1.1 2.5-1 2.5 1.2 3.4-1.6 2 .9 1.5-.3 1.5 .6 1.4-.8 2.5 1.6 2.5-.9 3.4 .2 1.5-.5 2.5 .6 5.9-.9 3.5 0 1.9 1 2 .3 5.9-.8 4.5 .7 2.5-.9 1.4 .3 1.5-.4 2.5 .6 3-.9 1.9 .4 2.5-.9 4.4 .4 7-1.5 1.9-1.5 2 .8 1.5-.9 3-.6 2.4-1.6 5.5-4.7 3.4-9.5 1-1.4 1 1.5 2.5 6.4 3.4 2.1 2.5 0 5.9-3.6 1 0 3.4 7 5.5 5.6 1 .2 1.9-.7 2.5 2.4 2.5-.6 2 1.2 3.4 .2 2.5 1.4 4.9-.1 5 1.5 5.9-.2 2.5 .8 5.4-.2 5.4 .4 4 .5 1.9 .8 4-.7 2-1 3.9 1 5-.1 5.4 1 3.4 0 2-.7 2 .8 2-1.1 1.9 .7 2.5-.2 1.5 .4 1.5-.6 2.9 1.4 2.5-.3 2.5 .5 2.5-1 1.4 .4 2-.3 3 .8 2.9-.6 2 .7 2-.4 2 .5 5.4-.6 2.5 .9 6.9-.9 3.9 .9 1.5-.8 1.5 .7 2.5 .2 2.4-1.2 2 1.5 3 .5 1.9-.6 4 0 3-.9 2.9 1.3 3 .2 3.9-.7 7.4 .5 2.5-.6 4 1.4 3.4-.8 3.5 .3 1.9-.5 1.5 .9 4 .3 2.9-.5 6 .2 1.9-.6 3.5 1.3 2-.6 1.9 .9 3-1.1 3 1.2 1.9 0 4-1 5.9 1.4 2-.3 3.9 1.6 2 1.9 2.5-.5 2.5 1.8 2.4-.6 2 1.5 5.4 1.9 4-.9 3.4 1.4 3-.9 3.5 .2 1.4 .8 2-.7 2 .4 2-.8 2.9 .8 4.5-.3 6.4 .6 4.4-2.2 2 .4 1.5-.2" stroke="#9a34f0"/>
</g>
<rect x="89.9" y="1091.9" width="542.7" height="446.4" fill="none" stroke="#000" stroke-width="2.6"/>
<g fill="none" stroke-width="2.3" stroke-linejoin="round">
<path d="M835.7 1276.7l2 .3 1.9-1 3.5 .2 2 .9 1.9-.8 2 1.3 1-.4 2.5-2.6 2.9 1.2 2.5 2.1 1.9-.9 1.5 0 2.5-1.4 2 .7 3.4-.6 2.5 1.2 2.4-1.1 2 .9 2-.9 2.4-.3 2.5 1.1 2-1.5 1.5 0 2.4 1.1 3-1.9 3.9 1.5 2.5-1.1 4.9 .9 2-1.3 2.5-.9 2.9 1.6 3.5-.4 2.9 1.2 2-1 3.4 .6 5-1.1 3.4 .5 4.9-.8 8.4 .6 2.5-.8 2.4 .9 3-1.8 3.5 .1 1.9 1 5.4-1.8 1.5 .1 3-1.3 2.4 .4 1.5-.8 2 1.3 2-.7 1.9 .5 3-1.9 3.9 .8 1.5-1.1 2-.6 2.9-.3 1.5 .4 4.5-1.6 1.9 .7 2-1.9 2.5-1.3 9.8-2.7 2-2.4 2.5-.2 5.9-4.6 1.4-.4 1-1 5.5-7.5 4.9-5.7 5.9-12 2.5-8.2 2.9-7.8 4.5-16.7 6.9-32.9 3.4-9.9 3-3.9 1.4 1.9 3.5 10.4 8.4 39.1 4.9 17.6 3.9 11.6 2.5 3.6 3.4 8.5 1 1.3 1.5 .8 2.5 4.3 1.9 1.4 2 3.5 2.5 1.2 2 2.6 1.9 .4 1.5 1.7 1.5 .1 2 1.9 3.4 1.3 3 3.2 2.9 .5 1.5 .7 2-.7 2.9 .2 4 2.8 4.9 .6 2.5 1.2 3.4-.7 2 1.5 2.9 .7 1.5-.1 1.5 1.2 4.4-.9 2 1.1 1.5-.3 3.9 .7 2.5-.2 2 1.5 1.9 .5 2.5-1.6 2.9-.3 4.5 2 1-.2 1.9-1.5 2 1.9 4-.8 2.4 1 2.5-1.6 3.4 1.7 2-.3 3 1.1 2.4-.7 4.5 .6 1.4-.5 3.5 1.1 4.9-.9 2 .6 3.4 0 2.5 1.4 3-1.4 2.4 1.1 1.5-.5 1.5 .5 1.5-1.1 4.9 .8 2-.9 2.4 1.3 3.5-1.4 2.9 1.4 2.5 .5 3.4-.6 2 .6 2-.8 5.4 .9 1.5-.8 2 1.2 4.9-.1 2-.8 1.9 0 3 .4 2 .8 4.9-1.8 2.9 .5 1.5-.5 2.5 2.1 2-1.1 1.9-.4 3 .8 2.9 0 2-1.1 3.9 1 2-.4 2 .8 3.9-.2 2.5-1.5 3.4 1.3 4-.6 3.4 .9 3-.4 1.5 .4 1.5-.3 1.4 .6 2-1.2 1.5 .6 3.4-.1 2.5 1.5 3.9-1 4.5-3.2 3.4 2.9 5.9 .4 5 .8 2.4 0 2-1.4" stroke="#f2302c"/>
<path d="M835.7 1308.3l1-.6 3.9 .9 4-1.3 1.4 .4 1.5-.8 4 1.8 2.4-1.1 3.5 1.1 2.4-1.7 5.5 1.5 3.4-.8 2 1.3 2.5-1.7 4.4 .7 2-.2 1.9 .7 2-.6 1.5-1.2 2.4 1.1 2-.7 2 .9 6.9-1.8 2 .9 2.9-1.8 2 .8 3.4-.3 2 1.5 3.9 .4 6.5-2.3 2.9 .2 1.5-1 2.5 1.6 1.4-.7 2.5 .1 1.5 .6 2.4-1.1 1.5 .5 4.5 .1 1.4 .5 1.5-1 3-.8 3.9 .6 2-.6 2 .8 2.9-.4 3.5-1.5 2.4 1.7 2-1.4 2.5 .9 2.4-1.5 2 1 3-.3 1.9-1 1.5 .8 2-2 1.9 .5 2.5-.6 1.5-1 2.9-.1 2-1.5 1.5 .1 4.9-1.7 2.5-.3 2-1.7 2.4-.5 1.5 .4 3-1.4 1.9-2.5 2 .9 1.5-1.2 1.9-.5 2-2.5 2-1.4 1.5-2.4 1.9-.7 2-2.4 4-3.4 1.4-2.5 1.5-1.3 5.4-10.5 5-12.4 3.4-11.3 4.9-21 5-24.7 3.4-12.3 1-2.3 1-.7 1.5 .3 1 .8 1.9 4.3 14.3 62 4.9 14.4 2.5 5.5 6.9 12.3 2.5 1.8 1.9 2.6 2.5 1.5 4.9 5.4 5 3.5 4.4 1.3 2 1.8 3.4 1.9 2.5-.1 2 1.2 2.4 .1 2.5 1.6 2.4-.1 2 1.5 2.5-.8 2.9 2 2.5 .9 3.4-1.7 2 1.3 4 1.3 2.9-.5 3 1 1.9-.8 2.5 1.4 2.5-.4 1.5 1.5 1.4-1 2 1.1 2.5 .5 2.4-1.3 2 1.1 1.5-.8 2 .6 2.4-.8 3 1.6 4.9-.1 2.5 1.3 1.9-1.6 2.5 .6 3-1.2 1.9 .6 1.5 1.2 2-.1 1.5 .8 2.4-.7 5.4 .9 2-.6 3 .9 5.4-.8 5.4 1 3.5-.7 2.4 1 1.5-.5 2 .5 1.9-.8 3.5 0 2 .9 1.9-.7 3 .7 3.9-.3 1.5 .5 2-.7 2.5 .7 2.4-.7 4.5 1.1 2.9-.1 1.5-.7 2 1.2 5.4-1.5 4.9 1.7 3-1 2.4 1 2 .3 4.4-1.4 2 .1 2 .7 1.9-.2 3-1.5 2.5 1.2 1.9-.2 4 1.7 2.4-2.3 2 1.5 2-.9 3.4 1.6 2-1.2 3-.9 2.4 1.6 2.5-.6 2.5 1.5 3.9-1.6 2 1.6 1.9-1.6 1.5-.6 3.5 .7 2.4-1.4 1.5 0 3-3.6 3.4 5.2 1 .2 3-.9 2.4 1.3 2-.8 6.9 2.2" stroke="#ee6a30"/>
<path d="M835.7 1341.1l1.5-.7 1.9 1 2-.9 4.5 .9 2.4-1 2.5 0 2-1.3 1.9 2.1 3.5-1.3 1.9 .8 3-.1 2.5-1.6 1.9 .9 2-.3 2 .8 6.4 .2 1.5-.4 1.9-1.7 2 1.2 1.5-.4 2 .8 1.9-.5 3 1 3.4-.3 1.5-.8 2.5-.5 2.9 .4 1.5-.2 1.5 .5 1.5-.3 1.9 .8 3-1.2 3.9 .7 3-.9 2.5 .3 1.9-1.8 2.5 2.4 3-1.9 1.9 .5 2-.8 3.9 1.9 2.5-.6 1.5 .4 2.4-1.3 2 .2 2-.6 2 1 1.9-.9 2.5 1.1 1.5-.9 2.4 .2 4-2.4 2.4 1 2-1.7 3.5 1.6 4.4-2.1 1.5 1 3.4 .5 3-1.8 2 .2 1.4-1.7 2 .7 1.5-.3 1.5 1 5.4-3.4 2.4 .8 4.5-.6 3.9-1.9 3.5-.9 5.4-4.2 2.5 .3 3.4-3.8 6.4-4.2 6.4-8.8 2-1.5 5.4-12.3 4-10 2.4-8.5 12.3-57 2-6.3 1.5-1 1.5 .6 1 1.1 2.4 5.4 10.4 49.4 5.4 19.6 3.4 9.7 6.4 12.4 4 5.3 2.5 1.9 5.4 5.7 2.4 1.1 4.5 3.7 2.4 1.1 2.5 .2 3 2.3 2.4 .2 2.5 1.4 2.5-.2 1.9 1.3 3.5 .2 2.4 2.6 2-.4 2 .7 1.5-.2 3.9 1.6 3-1 2.4 1.4 3.5-.1 2.4 1.5 3.5-.8 4.9 1.5 3 .1 1.9 1.4 7.4-.8 4 1.9 2.4-1.5 1.5 .6 2 0 1.5 1 2.4 .6 4.5-1.5 4.4 1.9 2.5-1.4 2.9 .8 2-1.1 2 .9 1.9-.3 2 .8 4.9-1.1 2.5 1.9 1 .2 2.9-1.1 2.5 .6 2.5-.5 1.4 1.1 5-.6 2.9 .4 4.5-1.2 1.9 1.8 1.5-.5 1.5 .5 2-.7 1.9 .3 1.5-.6 2.5 1.1 2.9-1.3 4.5 2.5 2.9-1.1 3 .1 2.9 1 4.5-.9 2 .3 1.9-.6 2 1.1 3.4-2 2.5 1.3 2.5-.4 3.4 .7 5.4 0 2.5-1.1 2 .6 1.9 1.3 1.5-.8 2-.4 2-1.2 1.4 .5 2 1.9 2.5-1.2 2.4 .6 2-.7 4.5 .7 7.3-.5 3 1.2 6.4-1.9 3.5 .8 2.4 1.1 4-2.4 3.4 .2 2.5-4.8 .5 .1 2.9 4.6 4.5 1.9 3.9-.2 2.5 .5 1.9-1 3 1" stroke="#f2b21e"/>
<path d="M835.7 1365.8l2 1 3.4-2.2 2 1.9 1 .4 2.9-1.5 3 .6 2-1 1.9 1.5 2-.9 3.5 .2 4.4-1.4 5.9 1.7 1.5-1 2.4 0 2-.9 2 .1 2 1.2 1.9-1.1 2.5 1.5 2.5-1.2 4.4 2.3 6.4-2.8 1.5-1.3 2 1.8 .9 .3 5.5-1.5 4.4 2.5 3.4-1.2 5.5-.3 1.4-.5 3 .3 1.5 .8 2.9-1.7 4 1.4 2.4-1.3 1 0 3.5 1.4 2.9-1.7 2-.5 3.9 0 2 .8 2-.9 3.4 1.8 2-1.2 4-.2 2.4-1.4 4.5 1.9 1.4-.8 2 0 2.5-.8 2.9-1.6 2.5 1.8 1.5-1.2 2.4-.1 2.5 1 3-2.9 1.4 .8 2-.9 3.4 0 2 .6 2-1.9 2.5-1.4 2.9 .9 1-.3 2-1.8 1.9 .6 2.5-2.3 1.5-2.1 .5-.1 1.9 1.3 2-.7 3.5-3.7 1.9-.2 2.5-1.8 9.4-9.3 3.4-5.7 3-6.2 2.4-5.8 6.4-19.9 4.5-20 4.4-16.3 2.5-6.1 1.5-1.4 2.4 1.7 2.5 6 6.4 25.4 2.9 13.6 4.5 14.2 3.4 8.8 7.4 13.6 4 4.7 8.8 8.5 5 2.2 1.9 2 1.5 .1 1.5 .8 2-.2 2.4 1.9 1.5-.7 .5 .3 2 2.2 3.4 .3 3-1.2 2.4 3.2 6.9 1.2 5.5 0 1.9 1.3 1.5-.3 2.5 .3 1.9-1 3.5 1.6 3.9-.6 3 1.6 2-.6 1.4 .5 1.5-.7 1.5 1.4 2-.7 1.9 1 1.5-.6 2 1 2.5 .3 3.9-.7 3.5 1.5 1.9-.7 1.5 .6 2.5 0 2.4-1 3 1.2 2-1.3 3.9 1.8 2-.6 1.9 .9 2.5 .3 2.5-1.2 1.9 1.1 3.5 .8 4.9-.9 2.5 1.2 2.9-1 1.5 .4 1.5-.5 2 .5 3.9-.5 1.5 .7 2.5-.8 2.4 .8 1.5-.7 2 .6 1.9-.8 2.5 1.9 2.5-1.5 2.4 1.9 3.5-.9 2.9-.1 2 1.1 1.5-1.2 2 .2 1.4-.5 2.5 1.1 1.5-.8 2 .7 3.4 .2 1.5-.3 2.4 .3 2.5-.6 3.5 1.5 1.9-.5 2.5 .7 3-1.4 1.9 .8 2-.8 2.5 1.4 3.9-1 2 1 2.9-1.1 2.5 2.1 2-.1 2.4-1.9 3.5 1.3 2.4-1.5 1 .3 1.5 1.7 1.5-.7 2 .1 1.9-1.5 3 1.3 2.4-1.3 2 1.2 2 .4 7.9-1.3 1.5 .2 .9-.6 4.5-7.8 1 1.1 1.9 5.6 1.5 1.5 3.5 .2 2.4 1.7 2-.8 1.5 .7 1.5-.1 1.4 .9 2-1.5" stroke="#22d82a"/>
<path d="M835.7 1398.9l1-.1 2-1.8 1.4-.4 2.5 1.8 3.9-.8 2 .7 4-3.2 3.4 2.3 5.4 .1 2-1.4 2 1.1 2.9-.2 2.5 .8 2-.5 6.9 .1 1.9-1.5 2 .4 2 1.4 2.9-1.7 4.5 1.7 2.9-1.2 2-1.6 3 2.4 1.4-.8 1.5 .3 1.5-.7 2 .5 1.4-1 2 1.2 2-.5 2.4 2.3 3-2.9 2.5 .6 1.9-1.7 3 1.8 3.4 .5 5-2.1 2.4 1 2.5-.6 2.5 1.6 3.4-2.5 3 1.1 1.9-.8 1.5 .4 2-.3 2 1.1 1.4-.6 1.5 .2 2-1.4 3.4 .9 2.5-2.5 2.5 1.2 3.4 .8 4-1.8 2.4 .8 2-1 2-.3 1.9 .8 3-3 3.4 1.5 5-2.2 1.9 0 1.5-.7 2 .7 2.5-2.3 4.4 .8 2.9-1.4 2-1.6 3 .8 4.9-5.3 2-.1 2.9-1.4 3.5-3 2-.8 1.9-1.6 4-5.6 3.9-7 5.4-13 4-12.3 10.8-49.3 2-5.4 2-2.7 .9-.5 1.5 2 3 9.6 8.4 38.5 3.9 14.9 4.4 12.5 5.5 11.3 8.8 12 2-.1 5.4 5.4 1.5 .3 2 1.7 3.9 .8 2 1.5 2.9 .8 2.5 2.3 3-1.1 1.9 1.6 4 .9 3.4 1.5 4.5 .4 1.9 1.8 2.5-1.1 2.5 .1 1.9 1 5-.4 2.4 1.8 5.4 .6 2.5-.8 3.9 .7 2.5 1.2 3-.5 2.4 1.2 2-.7 2.5 1.4 1-.2 2.9-1.9 4.4 2.4 2-1 2.5-.4 3.9 1.7 4-.7 2.9 .3 2-1.7 3.9 2.2 2-.4 2 .4 3.4-.1 2 .3 1.5 .9 7.4-.9 2.4 .8 9.9-.6 2 1.8 4.4-1.3 3.9 1.4 2-.8 1.5 .4 1.5-.6 4.9 .2 1.5-.4 1.9 1.1 3-.8 2.5 1.1 1.9-.3 3 .7 3.4 .1 1-.1 2.5-1.6 2.5 1.1 2.9 .6 2-.9 3.4 1.4 4-1.6 2.9 .1 1.5 .6 1.5-.6 2 1.2 3.4-1 2 1 2-.2 1.4 1.1 2 .5 4.9-2.9 2.5 2 3-.4 2.4 .8 3 0 2.4-1.2 3 1.2 2-.8 1.4 .2 2-.4 3 0 1.9 .9 2-.6 1.5 .5 3-1 2.4-2.2 2.5-4.4 .5 .2 2.4 4.6 2 2.2 2-.4 2.9 1.8 2.5-1.4 1.5-.3 1 .3 1.4 1.3 3-.7" stroke="#a6e21c"/>
<path d="M835.7 1427.6l7.9-.8 2-1.4 4.4-.8 2.5-1.5 3.4 2.1 2-.4 1.9 1.2 4-1.5 4.9 2.4 3-1.5 2.4 1 2.5-.1 4.9-1.6 5.9 2.5 3.5-2.7 3 1.2 2.4 .3 2.5-2 3.4 2.6 3.5-1.3 2-1.4 2.4 2.1 2-.3 2.4-1.4 1.5 1.4 3 .8 2.9-2.5 2 1.7 1.5 .5 2-.2 2.4 1.2 2.5-2 2 1.4 4.9-1.6 2.5 1.3 1.4-.5 2.5 .5 2.5-.4 4.4 .9 2.5-.9 2.4-.2 3.5-1.2 4.9 .8 1.5-.8 2 .7 1.9-.1 4.5-1.3 2.9 1.8 2-1.7 1.5 .5 2.4-.7 2.5 .8 2-.9 2.4 .2 2.5-1.9 1.5 .7 3.4 .4 2.5-1.1 1.5-1.6 3.4 1.3 3.5-.4 1.4 .5 4-1 2-1.3 3.4-.6 2.5-2.1 3.4-.1 2.5-2.9 2.4-1.3 1.5-2.6 2-.4 3.9-3.3 4.5-5.7 2.4-6.9 2.5-5.1 3.9-13.1 6.5-31.6 2.9-9 1-1.5 2-1.3 1 .1 1.9 1.3 2-1.9 1-.3 1.5 1.3 .9 3 3.5 13.4 5.9 29 2.5 8.9 3.4 9.5 7.4 12.4 3 3.1 1.9 1 6 4.9 .9 .3 1.5-.3 2.5 2.8 2.9-.8 4 2.5 2.9 .7 5 .3 1.9 1.8 1.5-.4 2 .4 1.5-.3 1.9 .8 1.5-.5 1 .6 2 .1 1.5 1.2 2.4-1 4.4 1.1 2 1.6 2-.8 2 .6 2.4-.1 2 .6 4.9-1.2 1.5 .7 2-.4 3.4 1.6 2-.6 2 .4 1.4-.5 4.5 2 2.4-1.7 2.5 .8 6.9-.7 4 .7 3.4-1.5 5.9 2 2-.3 1.5 .6 2.9-1 2 .7 5.4-.6 1.5 .2 2 1.3 2.9 .4 4-1 1.4 .4 1.5-.8 2.5 1.3 3.9-.6 2.5 .7 3.9-1.5 1.5 .5 2 1.8 2.4-1 2 .6 4.9-.7 8.9 1.5 2.5-1.6 5.9 .9 2.5-.1 1.9-.9 1.5 1.1 2.5 .4 1.9 1.3 2.5-1.4 4.4-.3 3 1.3 2.5-1.5 3.4 .3 2 1.9 2-1.6 1.4 .5 2.5-.1 2-.7 3.4 1.3 3.5-.2 3.9 .7 2.5-1 1.9 1.1 2-1.1 2 .1 1.5-.9 2.4 1.6 1.5-.3 3 .3 1.9-.7 3 1 2.5-1.2 1.4 .2 2-.5 1.5 .7 1-.4 3.4-5.4 3-8.3 .5 .1 .5 1.1 2.4 8.8 2.5 3.3 4.4 1.1 2 0 2.5 2.2 1.4-.6 3 .4" stroke="#2ee0d0"/>
<path d="M835.7 1448l1-.2 2-1.4 2.4 .6 2 1.1 8.9-2.1 1.9-2 .5-.1 2 2.1 2 1.1 3.4-.6 2-2.1 1.5 2.6 1 .5 1.9-.7 2.5 .6 2-1.1 4.9 1 3.4-.7 2.5 0 2.5 1.2 2.9-1.6 3.5 .3 2.4-1.2 2 1.1 2-1.6 1.5 .6 1.9-.5 1.5 1.4 2 .8 1.5-1 1.9-.4 4.5 .7 1.9-1.3 2.5 .1 1.5 .6 2.9-.5 2.5 1.5 1.5-.4 1.5 .8 2.4-1.2 2-.2 2.9 .7 2-.7 2.5 .8 4.4-1.2 1.5 .8 1.5-.6 2.4 .4 3-.4 3.4 .9 1.5-.6 4 1.1 1.9-.4 2 .7 1.5-.9 2 1 5.4-2.6 2-.1 4.4 1.6 2.9-2 4.5 2.6 2.4-.7 4-3.3 1 .1 1.4 1.4 1 .1 2-.7 3.5-2.8 1.4 1.5 3 .5 2-1.2 2.4 .1 2.5-1.6 2.9-.4 3 .7 2.5-3.6 1.9 .7 3.5-1.6 2-1.7 2.4-3.6 2 .1 1-.3 2-3.2 2.4-2.6 5.4-8.5 4.5-11.5 6.4-26.5 1.5-4.4 .9-1.9 2-1.9 3-.2 1.5-1.4 2.9-6.1 3.5-10.7 .9-1.5 .5 0 1 1.3 1.5 5 4.9 30.9 5 22.2 2.4 6.9 2 3.3 3.4 7.7 5 6.3 2.4 .8 2 1.6 1.5 .4 2.9 2.7 3 .6 4.4 2.8 2.5-.5 2.5 2 3.4 .9 2 1.4 4.4 .5 3-1.7 1.9 1.8 2.5 1.1 2.5-.6 2.9 1.3 2-.6 5.4 .9 2 .9 4.9-.7 2 1.8 1.5-1 2.9-.2 2.5 .2 1.5 .8 1.4-.1 2 .7 2-.9 2 .4 2.4-.3 3 1.3 2.4-1.3 3 1.4 3.5-.2 2.9 1.1 4.9-1.4 3 1.4 2.5-.4 1.4 .2 1.5-.5 2 .6 2.9 0 2.5 .6 2.5-.2 1.9-1.4 3 1.6 2 .1 1.9-1 3 1.5 4.9-1.2 2.5 1 2.9-1 2 1.1 5.4 .2 2 .6 2-.6 2 .4 2.9-.9 2 1 2.4-.8 2 .9 3.5-.6 1 .3 1.9-.7 1.5 .7 8.9 .2 1.9 1 3.5-.5 2 .3 1.4-.4 2 .8 2-.9 2.9-.3 3 1.6 3.9-1.2 3.5 1.4 3.9 .7 4.5-1.5 1.9 .9 2-1 12.8 1 2-.8 3 1 2.4 1.7 3-1.5 3.9-.2 2.5-.9 3.9 .8 4.5-2.5 1.4-1.6 1-2.1 2.5-9.7 .5-1.3 .5-.1 2.9 11.1 2 3.3 2 1.3 1.5 1.6 1.9 0 2.5 1.2 1.5 1.2 1.9-.9 1.5 .4 1-.3" stroke="#28b0f0"/>
<path d="M835.7 1477.1l2 0 2.9 1.8 3.5-2.4 3.4 1.5 4-4.1 1.4-.8 4 2.2 2.5 2 1.9-.4 2.5 2.7 2-2.6 1.9-.4 3.5 1.4 2.4-.5 2 .5 5.9-1.9 2 1.1 3.9-1.3 2 1 4.5 1 2.4-.8 2-3.3 .5-.2 2.4 2.4 2-.2 1.5 .9 2.5-2.1 2.9 1.8 4.4-2 2.5 2.1 1.5-.4 2 .2 1.9-1.7 2.5 2.9 2-.7 2.9 .4 2.5-2 3.9 1.6 2.5-.4 2-1 1.9 1.7 2-.3 2.5 .9 2.9-1.4 1.5-.2 2.5 .9 2.4-1 2.5 1.2 2-.9 1.9 .2 3-1.1 1.5 1.6 .5 .1 2.9-2.1 3 .6 2.5-2.6 2.4 2.5 5.9 .4 1-.6 2-2.7 2.9 3.4 4-2.8 2 1.3 1.9-.2 5-1.6 3.9 1.9 5.4-1.5 2 .3 1.5-1.4 5.4-2 2-2.8 1.4 .7 1 0 3.5-2.2 1.9-1.8 1.5-2.3 2 .2 1-.5 5.9-7.3 3-5.4 1.9-2.4 3-8.4 3.9-13.6 5.4-34.3 .5-1.3 .5-.5 .5 .1 2 3.9 2.5 2.8 1.4 .4 1-.9 2.5-7.9 3.4-19 .5-1.2 .5-.1 1.5 6.9 4.9 47.4 4 21.3 3.9 11 5.9 10.2 4 3.3 1.9 .7 6.4 5.8 2-.2 2.5 1.9 3.4 .1 2.5 1.1 3.4 .4 2-.4 2.5 1.4 2.9-1.1 2.5 2.3 6.9 1.3 1-.2 2 .6 1.9-1.2 2.5 1.5 2-.3 4.4 .9 1.5-.3 1.9 1.5 6-.5 1.9-.8 7.9 1.6 2-.9 2 .6 2.4-1 5.4 1.9 4-.1 2 .6 2.4-.9 2 .9 3-1 4.9 1.6 2.4-1.7 6 1.2 2.4-.5 3.5 1 1.5-.7 4.4 1 3.4-.1 2-1.6 2.5 1.2 3.4-.4 1.5 .6 2-.5 1.9 .7 2.5 .2 1.5-.4 3.4 .9 2-1 2.5 1 1.9-.1 1.5 .5 3.5-.9 2.9 1.2 2.5-.8 2 .5 2.4-.4 2 1.2 3.4-.1 2-.5 3 1.6 3.9-2.3 4 2.8 1.4-.7 2 .3 1.5-.9 2 .7 1.9 .1 2-1.3 2 .9 3.4-1.3 2.5 1.1 1.5-.1 1.4 1.1 2-.9 2-.2 2.9 1.9 2-.9 1.5 .2 2-.6 2.4 1 3.5-.7 2.4 1.2 2.5-1.2 5.4 .6 2 .8 3-1.4 2.4 .1 2.5 1.2 3.4-1.3 2.5 .9 1.5-.5 2.9-3.7 3-9.1 .5-1.1 .5-.1 2.9 9.9 1.5 2.9 4.4 3 4-.8 2 1 3.9 .5" stroke="#3462ee"/>
<path d="M835.7 1496.4l3.4 .6 3 1.6 2-1 2.4 .2 2-2.4 4.9-4 3 2.1 2 2.7 3.4 .1 2-.9 3.9 2.4 2-.9 3 .8 3.9-.3 2.5 1.2 1.9 .4 4-1.6 2.9 .1 3-3.3 3.4 2.2 1.5-.3 3-1.8 2.9 2.8 5-1.2 1.9 1.6 2 .2 1.5-.8 2.4-3.4 .5 .1 2.5 3 2-1.7 1.5 .3 1.4-1.2 1.5 1.6 3 1.1 2.9 .4 1-.1 1.5-1.5 1-.3 2.9 3.2 2-.9 3 .8 2.9-1.7 2.5 .8 2.9 .1 2.5-1.3 4.4 .4 1.5-.3 2 1.6 1.5-.9 1.9-.3 2.5-2.2 1.5 1.1 2.4 .6 4 .1 2 .7 1.4-.7 2.5 1.1 3-.9 1.9 1.4 1.5-.6 1.5 .8 2.5-2.3 2.4 .6 2-1 2.4 1.7 2-1.3 2-.3 2.5-2 2.9 .8 3-1.2 1.9 .7 3.5-2.5 1.5 1.8 1 .2 3.9-1.8 2-3.5 .5-.2 1.9 2.5 1 .3 2-1.6 2-.8 2.4-3.1 3-2 2.4-.9 3-2.6 4.4-6.8 2-3.8 3.5-8.8 2.9-11.5 5.4-37 .5-.7 .5 .7 3 9.5 1.5 1.2 .9-.6 2.5-5.9 1-3.6 3.4-22 1-4.5 .5-.6 .5 .9 1 6.1 3.4 38.7 2 16.5 2.5 12.8 3.4 12.3 3 6.8 4.4 6.7 1.5 1.2 4.4 1.8 2 1.6 1.5 .1 2 2.1 2.4 1.1 2.5 .2 3.4 2.8 2-.5 1.5 .7 2-.6 3.9 1.9 2.5-.4 3.4 1.3 1.5-.5 1.5 .4 1.9-.9 3 2.5 4.9-1.8 4 2.3 2.9-.7 6.4 .9 4.5-.9 1.4 .7 2.5 .3 2-.3 1.5 .9 3.9 .3 3.5-.9 2.9 .7 2-.7 3.4 1.4 6.4-.2 2-.7 3 1.7 3.9-.9 3 1.5 1.9-1.4 2-.1 3 1.3 2.9-.7 1.5 1.2 2.5-1.4 2.9 1.1 3-.8 4.4 1.3 2-2 2.9 1.7 2 0 1.5 .7 2.5-1.1 1.9 .9 3.5-.4 1.9 1.1 3.5-.3 2 .9 1.9-1.9 1-.3 2.5 1.9 1.5-.2 1.9-.9 3 .6 2.5-1 3.4 1.1 2.5 1.5 3.4-.8 2.5 .8 2.9-1.1 1.5 .6 2-.3 2 1.4 2.4-1 4 1.3 1.9-.9 4.5-.5 3.9-.1 4 1.1 5.9-.9 6.9 2.3 1.9-1.1 1.5 .4 2-.7 2.5 .7 3.4-.2 2.5 .7 2.4-.7 3.5 1.2 3.9-1.3 2 1.1 1.5-.3 3.9 .6 4-1.7 1-.9 2.4-4 2.5-8.4 .5 .1 .5 1.4 1.9 7.8 3 4.2 1.5 .4 1.9 1.8 4.5 1.3 2.4-.8 3 .1" stroke="#4a22e8"/>
<path d="M835.7 1515.6l3-.4 2.9 1.5 2-.9 2 .1 4.9-1.4 2-2.8 1.4 2.1 2 .3 3.5 2.6 2.4-1.5 2-3.3 .5-.1 2 3.5 2.4 1.4 2.5-1.5 2.4 .8 2-.7 2.5-.1 2.9-2.7 2.5 2.6 3 .8 2.9-1.5 1.5-2 3.9 4.2 1.5-.4 2-2.9 .5-.1 1 1.2 2.9 1.7 1.5-.8 2-.3 1-1.1 .5 0 2.4 2.4 4.4-3.3 2.5 2.1 3-.1 2.4-2.7 2 1.9 3 1.8 2.4-.4 2.5-2.5 2.5 3 1.9-.9 2.5 1.7 1.5-.9 1-.1 2.9 1.3 2-1.1 1.5 .6 1.9-.6 2.5 .8 4.4-.1 3.5-2.1 2 1.5 .9 0 2.5-3.6 2 2.9 2.4 1.2 3-.5 3-1.4 2.9 2.4 3-1 1.9-.1 3.5-2.5 1.5 1.7 2.9 .8 2.5-3 1.5 1.9 1.4 .1 2.5 1.5 1-.1 2.5-2.2 2.4 1.8 1.5 .1 1.5 1.2 3.4-1 1 .3 1.5 1.7 .5-.1 2.9-2.8 .5-.3 1.5 .8 1 0 2-2.2 1.9 1.8 2-1.7 3 .9 2.9-1.6 2 .7 3-2 2.9-.4 2-2 2-.2 1.9-1.6 2 0 2.5-2.5 1.9-1 3-4.6 1-3.1 2.9-20.9 2.5 16.5 2.5 6.6 4.9 3.2 2.4-2.3 2-2.7 1-.2 3.9 9.1 5 6.2 2.9 1.4 2.5-.1 2 .9 1.9 1.7 3 1.1 3 0 2.4 1.3 3-.5 2.4 1.2 7.9 1.3 2-.5 2 1.1 1.4-.5 4.5-.2 2.4 2.1 2.5-1.4 2.5 .7 1.9-.4 6 2.1 2.4-1.1 2.5 1.2 4.4-.5 2 .8 1.5-.5 4.4 .2 3.5-1 2.4 .9 3.5-.5 1.9 .7 2.5-.2 2.5 1.2 2.9-.8 1.5 .9 2.5-.9 1.9 .6 1.5-.8 2 .6 2.5-.1 1.9 .7 3.5-.8 2.4 .7 3-.3 2-.7 1.9 1.4 2.5-.8 2 1.1 2.9 .4 2-1.2 1.5 0 2.9 1.7 2-1.2 2.5 .7 2.4-.8 1.5 .7 6.4 1.5 2-1.2 3.4 .3 2 .7 2.5-1 1.9 .8 2.5 .3 2-.9 2.4 1 2-.2 2 .7 2-1.3 2.4 .6 2 1.1 2-.6 1.4 .2 2-.8 3 .8 2.4-.4 2.5 1 2.5-1 7.4 .4 1.4 .5 3-.9 3 .1 2.9 .4 2 1 2-1.8 1.9 1.4 5.4-.2 2 1.4 2 .7 2.9-1.1 5 .5 1.9-.9 2.5 1.2 4.4-1 2 1.1 4-1.7 2.9 1.8 2.5-.5 2.4 .7 4.5-.7 4.9 1.4 3.5-1 2.4 0 2.5-.9 5.4 2.3 2.5-.9 7.4 .4 2.9 1.3 1-.1" stroke="#9a34f0"/>
</g>
<rect x="835.7" y="1092.1" width="541.6" height="445.5" fill="none" stroke="#000" stroke-width="2.6"/>
</svg></div></body></html>
